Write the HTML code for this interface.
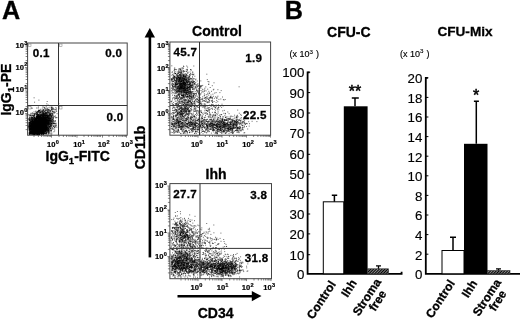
<!DOCTYPE html>
<html><head><meta charset="utf-8"><title>Figure</title>
<style>html,body{margin:0;padding:0;background:#fff}body{width:520px;height:320px;overflow:hidden}svg{display:block;font-family:"Liberation Sans",sans-serif}</style>
</head><body><svg width="520" height="320" viewBox="0 0 520 320" font-family="Liberation Sans, sans-serif" fill="#000"><text x="1.9" y="18.9" font-size="25.2" font-weight="bold" text-anchor="start" stroke="#000" stroke-width="0.3" >A</text>
<text x="284.8" y="18.9" font-size="25.2" font-weight="bold" text-anchor="start" stroke="#000" stroke-width="0.3" >B</text>
<rect x="27.6" y="43" width="99.6" height="92.19999999999999" fill="#fff" stroke="#444" stroke-width="1"/>
<path d="M39.0 131.5h0M40.9 126.9h0M37.3 130.2h0M33.4 132.8h0M36.1 126.7h0M32.8 126.3h0M39.4 128.2h0M47.4 120.9h0M35.9 129.6h0M42.1 130.6h0M41.2 123.1h0M39.7 117.9h0M33.1 127.7h0M38.8 125.5h0M43.4 131.8h0M30.5 126.5h0M36.1 125.8h0M30.9 125.8h0M40.7 129.6h0M40.0 127.6h0M37.8 120.5h0M35.6 127.6h0M38.7 127.7h0M39.7 122.7h0M29.4 129.2h0M36.0 126.0h0M32.8 130.1h0M45.7 126.4h0M33.9 117.4h0M38.8 120.2h0M44.6 114.5h0M35.3 122.4h0M38.3 129.9h0M39.7 128.5h0M39.4 122.3h0M31.3 130.3h0M39.5 121.3h0M47.6 114.6h0M29.3 120.4h0M44.4 119.1h0M35.0 119.0h0M51.6 130.0h0M43.8 133.0h0M31.4 127.4h0M39.5 125.7h0M42.6 121.2h0M37.8 126.4h0M43.3 129.0h0M38.6 126.4h0M43.2 131.1h0M48.1 130.8h0M34.7 129.7h0M40.3 127.8h0M36.1 126.7h0M39.8 128.1h0M31.5 121.5h0M35.4 129.9h0M37.8 127.9h0M44.7 119.0h0M30.7 122.7h0M34.0 122.3h0M43.1 126.6h0M36.1 122.1h0M38.4 116.8h0M46.9 117.6h0M43.3 124.0h0M36.9 128.8h0M36.7 133.8h0M37.4 131.7h0M48.6 130.6h0M36.3 130.7h0M37.1 123.8h0M41.2 132.5h0M38.2 123.3h0M37.8 122.7h0M38.9 131.1h0M36.2 128.4h0M46.3 128.6h0M43.1 130.4h0M38.8 117.6h0M43.2 124.2h0M36.9 119.4h0M45.6 124.8h0M39.0 121.9h0M42.7 133.5h0M30.9 132.0h0M41.2 120.4h0M37.1 127.0h0M33.3 131.4h0M40.0 127.5h0M53.1 109.6h0M33.8 125.7h0M35.1 130.6h0M40.3 127.7h0M42.1 132.5h0M37.9 118.4h0M37.7 129.8h0M43.4 120.7h0M42.3 126.3h0M32.5 130.7h0M38.5 130.6h0M39.2 122.4h0M32.4 129.4h0M40.6 118.3h0M33.6 119.0h0M45.1 127.7h0M40.2 125.4h0M39.6 115.8h0M35.3 122.0h0M38.3 126.5h0M41.3 130.4h0M44.3 123.8h0M43.8 127.1h0M33.7 130.4h0M43.9 123.1h0M46.9 123.1h0M48.1 117.1h0M37.3 123.2h0M38.0 134.0h0M45.9 118.0h0M35.6 129.0h0M38.7 124.0h0M34.0 130.9h0M35.1 129.4h0M46.9 127.4h0M38.0 126.4h0M45.1 131.3h0M39.1 124.4h0M34.6 125.2h0M35.5 122.1h0M39.1 123.0h0M36.6 127.2h0M37.1 120.1h0M30.3 115.6h0M33.9 134.4h0M49.4 117.9h0M34.8 124.1h0M32.4 125.9h0M41.1 119.3h0M47.9 116.6h0M29.8 130.0h0M35.0 132.0h0M43.6 115.2h0M38.9 126.0h0M39.5 118.5h0M34.3 132.5h0M41.9 123.8h0M35.6 127.4h0M38.1 125.9h0M32.0 124.6h0M31.3 119.0h0M47.4 127.1h0M35.8 118.4h0M40.8 118.1h0M38.8 124.3h0M36.2 122.6h0M35.8 128.8h0M43.0 131.2h0M37.1 128.3h0M38.0 127.7h0M39.1 126.2h0M46.4 129.2h0M43.3 113.2h0M41.4 127.7h0M35.4 121.4h0M30.3 121.1h0M45.0 124.3h0M45.1 121.8h0M38.1 130.1h0M42.4 132.0h0M43.9 109.9h0M44.2 124.0h0M36.1 132.5h0M48.5 132.2h0M31.1 129.2h0M44.4 115.4h0M42.1 118.1h0M44.5 128.9h0M50.8 128.4h0M48.4 118.6h0M31.8 126.7h0M44.1 113.5h0M32.6 125.9h0M40.6 122.3h0M39.3 120.9h0M37.5 112.5h0M39.2 132.1h0M33.6 125.5h0M38.0 128.5h0M32.9 129.2h0M38.6 124.0h0M41.6 124.3h0M32.8 114.2h0M34.9 133.3h0M32.7 134.3h0M33.4 124.1h0M40.2 126.3h0M34.1 130.2h0M41.2 131.5h0M41.1 126.1h0M51.8 133.0h0M30.2 127.4h0M44.6 120.6h0M38.4 123.4h0M38.9 110.2h0M29.9 123.9h0M36.1 133.4h0M43.7 126.3h0M38.5 121.2h0M39.5 128.2h0M37.2 114.0h0M46.3 122.1h0M38.9 129.5h0M34.6 122.6h0M35.7 124.5h0M47.4 128.2h0M39.3 116.3h0M31.6 116.1h0M33.1 131.9h0M46.1 124.2h0M40.0 127.1h0M39.3 122.4h0M38.7 124.4h0M39.2 131.2h0M42.5 123.7h0M40.4 115.3h0M42.2 129.0h0M34.7 131.8h0M45.9 125.2h0M38.1 126.9h0M39.0 129.4h0M30.7 117.1h0M49.8 119.1h0M48.2 119.0h0M36.1 126.9h0M43.9 126.8h0M41.4 120.7h0M40.6 119.0h0M38.6 123.5h0M39.5 127.5h0M32.2 120.4h0M37.3 130.3h0M37.9 130.5h0M46.5 122.0h0M39.0 126.7h0M48.6 124.9h0M35.5 121.2h0M36.5 116.4h0M48.9 121.0h0M45.1 121.4h0M44.8 129.2h0M43.2 109.8h0M39.7 118.8h0M40.4 114.2h0M37.7 123.0h0M39.3 122.8h0M48.5 116.2h0M42.5 130.7h0M38.6 123.7h0M35.3 128.7h0M35.0 114.6h0M49.1 130.4h0M42.2 127.7h0M39.4 129.5h0M32.0 127.2h0M38.6 125.3h0M44.5 129.0h0M36.5 129.7h0M37.6 125.1h0M37.6 126.9h0M39.7 122.8h0M29.0 133.8h0M37.5 132.5h0M33.6 127.9h0M34.1 118.0h0M42.6 123.6h0M48.6 134.0h0M37.0 124.2h0M35.2 117.3h0M39.0 129.6h0M32.7 120.6h0M41.9 130.2h0M51.7 115.8h0M37.4 118.3h0M37.7 125.6h0M32.4 125.2h0M41.0 118.6h0M31.1 126.4h0M32.0 122.1h0M47.1 124.0h0M33.3 127.8h0M45.8 128.8h0M48.6 120.3h0M40.6 117.3h0M42.5 116.8h0M51.3 120.8h0M35.3 132.7h0M30.5 124.8h0M39.3 132.1h0M48.3 116.0h0M45.0 130.7h0M33.1 125.7h0M33.6 132.7h0M35.8 131.1h0M40.8 123.9h0M37.7 128.7h0M40.4 119.0h0M40.9 125.2h0M37.1 133.6h0M40.3 130.2h0M38.5 126.9h0M42.2 118.8h0M50.8 129.2h0M42.7 114.6h0M39.4 121.0h0M41.4 117.8h0M44.4 120.9h0M43.4 121.3h0M38.1 118.2h0M36.7 129.7h0M34.7 131.5h0M43.0 127.2h0M53.2 123.4h0M40.4 122.2h0M34.1 130.0h0M31.6 119.2h0M38.6 126.4h0M39.7 123.1h0M31.7 126.4h0M46.0 132.7h0M45.8 114.6h0M36.0 124.5h0M42.2 126.7h0M38.2 134.2h0M36.6 121.7h0M36.9 130.9h0M30.8 126.9h0M44.0 127.4h0M37.8 125.7h0M40.4 123.7h0M45.3 130.9h0M34.1 120.9h0M40.1 127.2h0M41.5 117.0h0M36.6 122.2h0M45.5 116.0h0M40.3 117.4h0M31.4 124.3h0M33.1 121.9h0M44.1 128.0h0M41.9 130.3h0M47.5 116.5h0M42.8 130.1h0M47.5 110.8h0M36.6 114.8h0M37.1 131.4h0M31.9 132.6h0M55.0 127.4h0M37.9 125.2h0M49.0 115.1h0M34.9 124.3h0M40.0 129.5h0M36.6 122.5h0M45.2 115.5h0M31.1 121.3h0M45.8 129.4h0M41.1 128.4h0M32.4 120.9h0M35.8 120.4h0M36.1 123.6h0M38.7 129.8h0M35.6 119.9h0M33.8 126.8h0M37.1 113.3h0M32.5 120.3h0M30.9 131.4h0M38.7 132.0h0M44.6 117.2h0M29.4 124.4h0M39.0 131.3h0M34.9 125.0h0M32.8 124.7h0M44.4 127.8h0M35.7 128.5h0M48.4 130.3h0M34.1 132.8h0M41.4 121.8h0M37.6 125.9h0M34.2 127.3h0M42.7 116.5h0M38.0 120.4h0M42.8 131.2h0M38.7 116.3h0M38.4 128.2h0M39.3 125.2h0M45.0 127.7h0M33.3 131.0h0M38.8 133.9h0M43.1 123.5h0M32.2 126.8h0M38.6 132.3h0M46.0 118.2h0M29.4 127.1h0M32.1 123.9h0M34.3 127.8h0M31.9 129.8h0M33.9 116.3h0M34.5 134.2h0M42.7 127.8h0M34.2 123.3h0M41.7 124.4h0M32.9 125.0h0M31.4 129.0h0M50.7 113.0h0M40.5 123.4h0M40.0 128.5h0M39.3 134.0h0M51.0 126.1h0M29.2 129.7h0M32.6 123.0h0M30.6 133.2h0M43.7 129.3h0M32.9 115.5h0M30.2 127.8h0M36.8 133.7h0M47.8 115.6h0M45.6 118.7h0M37.2 134.3h0M29.5 134.2h0M32.8 130.6h0M47.7 125.1h0M44.2 119.2h0M36.5 123.8h0M33.5 132.6h0M38.8 124.3h0M38.5 111.3h0M38.4 124.4h0M31.9 130.3h0M38.6 128.9h0M38.8 126.8h0M47.1 118.6h0M50.8 132.0h0M38.1 122.4h0M34.2 132.3h0M38.6 124.6h0M35.2 120.0h0M38.6 110.6h0M32.4 123.0h0M42.8 127.9h0M38.3 124.3h0M40.6 130.6h0M37.8 126.1h0M34.4 124.9h0M37.5 125.4h0M35.5 126.4h0M40.5 119.1h0M39.0 121.7h0M30.4 133.1h0M39.4 129.8h0M30.5 129.0h0M35.1 123.2h0M37.1 131.3h0M39.6 124.0h0M40.0 124.5h0M38.0 121.4h0M36.3 128.2h0M36.6 122.9h0M32.8 123.3h0M35.5 132.2h0M39.6 133.8h0M31.4 129.1h0M40.5 132.0h0M39.9 131.0h0M38.1 134.3h0M42.5 123.9h0M41.9 125.2h0M40.8 117.1h0M41.4 125.8h0M34.9 131.7h0M37.4 123.3h0M43.0 132.3h0M41.7 133.7h0M40.3 123.4h0M46.4 127.1h0M45.4 118.3h0M29.2 128.5h0M44.9 122.2h0M38.1 127.5h0M41.4 132.5h0M29.6 134.3h0M35.0 131.4h0M47.0 119.0h0M36.7 126.2h0M40.7 131.5h0M50.0 120.5h0M38.3 125.2h0M37.5 123.3h0M34.6 132.6h0M41.7 125.5h0M41.5 124.3h0M39.7 129.0h0M45.3 129.8h0M34.1 132.8h0M38.6 124.7h0M43.6 127.8h0M42.7 130.7h0M45.7 129.2h0M37.1 121.5h0M41.3 120.9h0M32.7 127.0h0M42.7 131.2h0M38.7 130.5h0M40.9 125.1h0M35.2 123.8h0M33.6 130.1h0M36.9 129.3h0M44.7 111.9h0M41.4 128.1h0M35.2 125.3h0M38.9 125.8h0M43.8 131.6h0M38.2 125.1h0M42.4 131.0h0M43.3 127.9h0M49.7 123.8h0M46.2 126.1h0M41.0 127.5h0M40.9 123.8h0M44.0 122.1h0M35.6 127.7h0M38.7 120.6h0M44.7 116.8h0M51.3 130.8h0M38.0 125.3h0M38.7 126.4h0M40.3 125.3h0M47.5 124.0h0M38.8 126.7h0M48.3 124.0h0M32.9 123.3h0M37.8 132.7h0M37.8 122.5h0M44.0 131.5h0M45.6 112.3h0M29.5 122.8h0M41.1 124.9h0M34.9 123.6h0M29.4 131.9h0M45.5 117.9h0M42.1 126.0h0M42.1 111.6h0M36.0 124.6h0M45.5 120.4h0M37.5 130.4h0M45.9 129.8h0M33.3 122.9h0M40.3 122.4h0M34.6 114.9h0M43.3 110.2h0M33.2 127.8h0M39.5 122.3h0M36.8 122.5h0M44.8 117.8h0M36.2 126.8h0M53.1 120.8h0M51.6 107.7h0M39.4 131.7h0M40.4 123.7h0M48.7 122.0h0M32.8 126.8h0M39.7 133.6h0M41.8 125.6h0M33.8 123.4h0M29.9 125.6h0M43.2 132.9h0M34.2 134.0h0M38.1 127.2h0M40.3 129.9h0M42.9 128.8h0M36.9 125.4h0M42.1 131.1h0M33.4 126.8h0M36.7 131.1h0M32.5 122.5h0M46.1 124.9h0M38.8 129.2h0M34.3 123.0h0M36.8 124.6h0M37.6 123.6h0M43.4 129.7h0M28.9 125.1h0M32.5 131.3h0M55.0 123.8h0M45.0 114.5h0M38.3 127.5h0M43.5 131.7h0M52.0 120.7h0M37.5 134.0h0M36.7 131.2h0M46.6 126.8h0M42.1 123.9h0M43.2 122.0h0M35.8 125.9h0M51.1 123.1h0M49.8 126.5h0M42.6 128.1h0M43.3 123.3h0M43.0 127.7h0M37.8 116.7h0M41.7 120.9h0M43.3 120.2h0M36.8 126.0h0M41.3 124.2h0M34.3 122.6h0M36.9 131.5h0M35.2 129.5h0M36.8 116.9h0M46.7 117.1h0M46.0 121.5h0M51.5 120.2h0M39.1 127.1h0M33.4 128.0h0M35.8 129.0h0M39.5 131.7h0M41.2 119.8h0M40.9 130.4h0M38.3 132.9h0M37.0 121.8h0M38.5 131.9h0M35.6 130.3h0M35.1 124.4h0M38.8 130.2h0M50.6 121.5h0M51.5 123.9h0M47.3 129.7h0M43.4 132.3h0M34.7 131.6h0M48.1 131.4h0M38.6 119.0h0M37.2 124.1h0M39.6 120.5h0M36.3 128.1h0M32.2 132.9h0M36.6 120.8h0M53.4 120.3h0M38.6 133.2h0M37.5 123.8h0M42.4 125.0h0M43.5 127.1h0M32.0 117.4h0M37.7 131.9h0M44.8 127.0h0M40.7 129.7h0M39.8 120.2h0M48.8 118.7h0M34.7 124.2h0M39.5 128.0h0M35.7 128.1h0M48.4 124.5h0M35.7 123.1h0M43.2 121.2h0M47.8 121.9h0M37.2 123.8h0M34.8 126.2h0M42.4 126.1h0M33.2 123.0h0M36.7 124.8h0M34.9 125.1h0M41.3 124.6h0M41.0 123.1h0M49.0 114.9h0M29.3 114.9h0M34.2 124.0h0M33.2 132.0h0M31.3 120.2h0M41.7 129.6h0M43.4 126.6h0M38.3 119.9h0M41.2 129.1h0M39.7 127.0h0M43.0 126.7h0M46.8 127.1h0M41.7 134.3h0M41.5 129.8h0M41.6 118.3h0M29.8 131.2h0M38.0 130.0h0M37.4 118.0h0M30.4 129.7h0M49.3 125.7h0M39.7 120.8h0M31.4 129.5h0M37.2 125.1h0M38.4 127.3h0M34.5 114.7h0M35.0 120.9h0M42.5 111.8h0M34.4 122.0h0M38.8 121.4h0M45.2 128.1h0M55.2 115.8h0M32.7 130.4h0M36.1 121.5h0M43.9 128.5h0M35.9 121.2h0M38.8 130.9h0M32.8 122.5h0M33.0 132.1h0M36.0 131.8h0M29.9 122.3h0M36.4 120.1h0M39.9 116.8h0M37.8 122.4h0M36.1 118.4h0M44.0 125.6h0M42.5 128.9h0M38.5 118.5h0M33.4 124.8h0M43.0 125.4h0M35.4 126.3h0M31.6 124.5h0M33.9 133.3h0M48.1 129.0h0M40.4 130.4h0M46.3 123.0h0M35.2 125.2h0M38.0 126.1h0M54.7 129.1h0M43.8 120.0h0M35.8 130.1h0M38.5 127.0h0M41.1 121.5h0M46.6 122.7h0M35.9 117.6h0M37.2 114.6h0M47.3 131.7h0M41.0 127.8h0M44.1 131.2h0M44.5 131.2h0M52.2 128.2h0M43.9 119.3h0M40.6 128.7h0M40.0 122.9h0M50.3 115.6h0M33.2 121.2h0M38.3 129.5h0M41.9 132.3h0M43.7 116.4h0M37.2 124.7h0M39.8 123.4h0M38.2 126.3h0M38.9 124.2h0M44.5 117.8h0M32.9 130.6h0M37.5 114.0h0M43.2 126.1h0M40.2 128.1h0M32.3 133.5h0M46.1 127.4h0M53.6 126.5h0M51.7 123.4h0M37.6 121.7h0M43.7 123.6h0M39.8 125.8h0M39.6 134.2h0M48.8 133.7h0M30.7 131.8h0M45.6 119.7h0M38.7 122.0h0M47.9 122.5h0M34.8 129.9h0M40.7 125.6h0M43.6 120.2h0M39.2 132.0h0M42.1 127.4h0M35.7 127.2h0M43.4 124.1h0M39.4 134.2h0M45.5 124.8h0M36.1 133.0h0M34.5 127.1h0M37.8 121.7h0M46.5 122.5h0M30.3 123.5h0M46.5 127.4h0M35.0 127.9h0M32.1 132.3h0M46.9 129.2h0M38.4 107.0h0M30.8 131.0h0M36.7 115.9h0M44.9 125.7h0M46.5 118.6h0M36.3 128.0h0M41.6 134.3h0M43.5 114.3h0M34.9 129.0h0M41.2 125.3h0M38.8 114.6h0M35.6 131.6h0M35.9 127.7h0M39.4 123.2h0M39.2 121.9h0M36.3 124.9h0M46.0 113.0h0M40.3 120.2h0M44.6 122.4h0M46.6 121.7h0M42.7 124.8h0M53.3 115.4h0M33.8 131.5h0M44.1 121.9h0M37.0 118.6h0M50.7 117.7h0M49.7 120.7h0M32.9 131.5h0M43.2 123.1h0M44.0 125.1h0M43.6 126.4h0M41.9 121.7h0M43.1 128.1h0M38.5 131.2h0M45.5 118.5h0M43.0 126.3h0M32.5 125.6h0M45.0 128.2h0M37.6 133.4h0M41.4 124.6h0M33.3 129.5h0M29.1 122.7h0M38.8 127.9h0M42.1 131.1h0M45.4 125.4h0M38.1 130.9h0M45.6 125.5h0M39.1 131.2h0M42.6 124.0h0M45.7 125.6h0M36.8 126.8h0M37.5 124.4h0M38.0 126.7h0M39.5 119.2h0M33.3 133.0h0M41.9 133.6h0M33.8 122.1h0M41.5 121.2h0M36.3 127.0h0M51.7 134.1h0M41.3 119.0h0M50.2 128.3h0M45.0 126.4h0M34.8 126.9h0M36.6 121.7h0M41.7 128.3h0M39.4 123.5h0M39.3 133.0h0M37.6 123.8h0M41.3 118.3h0M34.4 120.9h0M34.5 128.5h0M37.6 125.6h0M40.7 115.6h0M30.0 125.9h0M32.3 121.0h0M49.0 131.6h0M32.3 118.4h0M43.1 116.7h0M30.4 131.6h0M40.9 118.4h0M37.0 125.5h0M38.6 123.8h0M42.6 128.9h0M50.1 107.1h0M40.2 112.2h0M39.8 118.5h0M42.7 124.4h0M37.4 116.2h0M44.2 128.0h0M38.7 131.0h0M50.0 121.5h0M37.1 129.8h0M44.6 132.4h0M36.8 128.2h0M34.0 131.4h0M37.3 126.7h0M30.3 126.8h0M39.7 120.5h0M54.4 123.3h0M46.2 122.3h0M32.0 127.2h0M33.5 134.1h0M36.5 130.4h0M45.3 130.0h0M33.8 118.2h0M34.7 131.4h0M44.6 121.0h0M44.4 119.7h0M36.6 121.9h0M34.6 123.4h0M43.7 125.1h0M35.0 124.9h0M50.8 113.6h0M46.4 112.7h0M31.7 127.2h0M44.5 124.8h0M46.3 125.0h0M34.3 132.7h0M38.3 124.6h0M28.9 126.2h0M48.3 112.5h0M32.0 134.1h0M37.3 125.4h0M37.6 134.4h0M40.0 126.4h0M37.7 129.0h0M46.2 117.6h0M39.0 116.8h0M34.5 117.0h0M39.8 127.9h0M40.4 131.5h0M35.0 127.4h0M44.0 123.4h0M41.2 118.8h0M34.7 134.1h0M51.9 124.9h0M53.5 118.2h0M29.8 133.7h0M40.9 129.4h0M54.8 109.8h0M43.9 129.6h0M40.4 126.9h0M37.7 124.4h0M35.6 124.9h0M36.5 120.1h0M36.2 123.3h0M38.7 119.0h0M33.4 123.7h0M37.9 115.5h0M41.3 132.5h0M42.2 128.4h0M41.2 127.2h0M39.4 123.8h0M38.2 124.2h0M37.1 131.0h0M43.8 120.5h0M47.4 120.7h0M39.2 120.9h0M35.9 126.6h0M34.7 131.3h0M40.0 123.6h0M34.5 113.8h0M46.2 127.7h0M34.1 119.6h0M34.4 118.2h0M38.7 128.5h0M45.7 127.1h0M43.1 125.9h0M30.6 121.5h0M34.2 133.6h0M50.2 113.8h0M41.0 122.9h0M39.0 121.5h0M45.7 122.0h0M54.5 127.0h0M47.2 119.9h0M39.9 129.8h0M41.2 130.2h0M42.9 114.5h0M35.1 120.4h0M32.3 126.2h0M39.3 122.7h0M33.0 130.3h0M38.6 114.5h0M39.6 130.8h0M53.7 126.6h0M33.6 127.1h0M38.2 118.0h0M38.0 126.9h0M41.8 122.3h0M45.6 128.0h0M35.9 126.9h0M33.8 132.7h0M42.4 110.9h0M39.3 120.0h0M32.6 131.6h0M36.7 117.7h0M39.2 131.1h0M42.2 117.8h0M35.3 128.3h0M37.4 121.2h0M31.7 129.9h0M49.2 122.6h0M40.4 126.1h0M36.6 121.1h0M33.9 133.9h0M38.6 131.8h0M39.0 134.2h0M38.1 133.5h0M35.5 127.6h0M40.4 127.6h0M43.0 106.3h0M44.6 121.1h0M44.8 113.4h0M46.4 120.8h0M46.2 126.1h0M47.8 127.4h0M37.9 115.7h0M44.2 125.1h0M40.3 117.8h0M35.7 127.3h0M33.4 131.7h0M38.9 110.1h0M44.6 123.9h0M45.2 127.0h0M38.5 124.7h0M37.8 126.5h0M41.5 124.4h0M37.4 120.9h0M42.8 126.8h0M50.0 121.0h0M38.8 124.6h0M29.6 128.9h0M33.6 133.1h0M29.8 130.9h0M31.5 121.3h0M47.2 123.1h0M40.4 129.0h0M29.4 126.6h0M43.1 132.4h0M46.9 128.9h0M36.7 121.0h0M34.7 129.9h0M43.0 124.9h0M46.4 129.8h0M46.6 119.9h0M46.5 115.0h0M47.6 127.3h0M43.2 126.7h0M29.4 132.8h0M38.2 126.6h0M41.0 127.9h0M36.6 124.0h0M44.7 127.7h0M36.7 132.5h0M33.2 128.0h0M48.1 128.8h0M43.2 114.0h0M40.4 121.1h0M44.8 133.8h0M41.1 127.4h0M34.7 119.9h0M36.1 129.7h0M32.8 133.3h0M40.3 116.8h0M46.5 127.7h0M35.9 130.5h0M31.9 131.5h0M51.8 115.4h0M36.2 130.8h0M31.2 119.5h0M41.7 126.5h0M34.6 120.6h0M44.0 133.4h0M33.2 124.2h0M43.9 118.7h0M35.0 129.7h0M41.1 133.3h0M38.4 112.4h0M56.8 127.2h0M34.5 127.5h0M47.7 123.7h0M38.7 119.8h0M38.2 128.8h0M43.5 118.1h0M44.6 118.6h0M47.0 121.2h0M41.1 118.1h0M35.6 119.2h0M42.2 120.7h0M42.7 123.4h0M47.8 123.8h0M41.6 130.7h0M45.7 129.6h0M48.6 121.6h0M40.0 123.8h0M29.6 129.7h0M31.6 134.0h0M29.9 133.7h0M49.0 120.1h0M33.7 115.2h0M42.7 131.3h0M49.8 124.8h0M45.3 126.7h0M38.4 123.4h0M37.7 120.6h0M39.5 124.2h0M40.1 124.8h0M35.7 123.6h0M38.8 117.4h0M49.1 121.3h0M40.6 122.9h0M33.3 128.4h0M40.2 113.1h0M44.3 123.5h0M38.6 125.8h0M43.9 117.3h0M29.0 118.8h0M46.0 126.9h0M35.2 122.6h0M42.9 128.3h0M40.1 123.5h0M34.2 125.9h0M40.4 116.6h0M48.8 122.9h0M40.8 123.9h0M40.6 130.1h0M30.1 126.5h0M48.0 121.2h0M50.4 128.3h0M39.2 133.8h0M37.6 131.7h0M44.6 127.6h0M56.0 126.0h0M43.5 130.6h0M47.0 126.5h0M42.4 125.8h0M32.8 129.3h0M31.2 129.0h0M37.7 125.4h0M40.8 123.7h0M44.6 124.5h0M41.6 127.2h0M41.4 118.6h0M34.2 115.5h0M30.9 130.9h0M39.4 116.3h0M34.5 129.5h0M30.8 130.0h0M30.5 125.7h0M40.1 121.2h0M41.6 125.9h0M51.6 109.5h0M29.6 129.9h0M34.7 127.8h0M44.7 128.8h0M37.6 124.8h0M36.9 127.8h0M49.8 118.5h0M36.9 124.2h0M31.7 117.6h0M30.7 129.9h0M40.9 126.9h0M30.4 131.5h0M32.8 122.3h0M42.6 120.5h0M34.9 132.8h0M42.9 125.9h0M42.6 119.3h0M37.0 127.2h0M41.6 126.8h0M35.4 130.5h0M37.2 124.7h0M43.7 127.9h0M49.0 120.8h0M55.5 117.1h0M31.9 119.4h0M45.0 120.4h0M46.8 120.9h0M45.2 124.6h0M39.9 133.7h0M31.7 118.2h0M42.9 126.1h0M34.5 114.0h0M56.8 117.7h0M43.5 110.9h0M50.5 111.2h0M33.3 129.3h0M48.2 124.1h0M49.0 122.6h0M48.8 118.4h0M31.4 127.9h0M37.9 121.4h0M39.6 124.0h0M38.0 127.8h0M38.3 130.8h0M51.2 124.2h0M47.2 117.5h0M38.7 132.7h0M46.6 125.1h0M34.1 121.7h0M36.9 122.4h0M44.7 130.7h0M31.2 126.6h0M37.2 127.3h0M30.7 133.2h0M39.7 127.1h0M49.3 113.7h0M34.3 132.0h0M40.4 132.0h0M33.3 133.7h0M31.2 131.2h0M48.2 128.5h0M53.9 131.8h0M42.0 123.7h0M36.9 132.1h0M40.8 131.3h0M40.8 120.4h0M42.8 132.5h0M35.3 129.7h0M36.5 129.9h0M30.0 132.8h0M38.1 122.4h0M33.0 131.5h0M39.6 130.9h0M41.9 121.0h0M30.1 126.6h0M33.9 125.7h0M33.1 124.5h0M43.7 127.2h0M49.8 129.5h0M48.2 130.0h0M48.4 131.9h0M34.9 125.4h0M55.7 123.3h0M48.9 122.6h0M32.5 125.7h0M40.1 123.0h0M37.6 125.2h0M39.6 118.5h0M29.7 132.7h0M34.7 127.7h0M41.9 126.2h0M40.4 128.2h0M46.6 128.7h0M39.5 122.6h0M53.8 121.2h0M34.5 117.8h0M40.6 112.0h0M47.4 112.4h0M33.1 131.3h0M38.6 123.7h0M35.8 133.5h0M43.7 128.9h0M43.1 120.6h0M35.4 130.9h0M33.3 125.5h0M40.8 117.8h0M38.4 118.7h0M55.7 117.9h0M44.3 124.7h0M38.8 122.4h0M37.9 127.8h0M33.6 126.7h0M33.3 125.8h0M32.7 120.9h0M36.5 118.5h0M36.3 122.7h0M43.7 126.9h0M37.8 133.6h0M49.4 126.4h0M42.2 125.0h0M50.3 114.7h0M44.0 125.0h0M48.4 110.2h0M37.4 125.2h0M56.0 123.3h0M46.4 121.9h0M49.7 114.6h0M41.7 122.8h0M43.8 122.6h0M47.1 131.7h0M41.6 121.1h0M33.4 126.1h0M34.6 127.1h0M35.0 125.7h0M38.1 119.1h0M39.9 126.9h0M41.9 128.0h0M29.9 132.0h0M51.8 115.0h0M46.5 123.6h0M43.7 114.2h0M36.7 133.1h0M38.4 120.4h0M42.5 123.8h0M41.7 123.0h0M43.8 118.5h0M45.4 126.3h0M41.4 127.6h0M47.9 123.3h0M31.4 132.6h0M40.1 126.5h0M48.5 131.2h0M37.7 130.3h0M36.3 129.5h0M39.7 124.9h0M36.1 129.4h0M49.0 130.9h0M33.1 115.5h0M44.7 124.1h0M30.9 126.6h0M43.3 123.4h0M38.3 114.5h0M39.0 121.4h0M32.1 127.4h0M36.1 124.4h0M49.0 113.1h0M31.8 126.2h0M32.1 117.3h0M48.3 117.8h0M39.8 124.5h0M49.0 123.5h0M41.1 126.4h0M33.3 127.6h0M47.0 126.9h0M45.1 117.1h0M39.0 122.9h0M39.3 122.5h0M38.3 125.8h0M35.3 124.1h0M51.5 117.4h0M31.7 129.3h0M35.9 125.6h0M43.7 123.6h0M43.2 124.0h0M34.7 131.1h0M39.2 133.7h0M30.6 131.4h0M44.2 131.8h0M41.4 126.1h0M46.9 113.4h0M43.2 129.1h0M39.1 122.9h0M52.8 111.1h0M43.3 121.5h0M36.7 134.1h0M43.7 132.8h0M41.6 130.4h0M33.5 121.9h0M37.9 119.7h0M37.9 118.0h0M36.2 130.4h0M36.7 128.0h0M38.7 126.4h0M39.7 127.6h0M31.6 117.2h0M43.1 131.7h0M37.6 124.7h0M47.5 124.0h0M34.5 130.0h0M46.0 127.3h0M36.5 127.8h0M37.1 124.2h0M40.4 116.8h0M45.8 120.9h0M33.6 126.9h0M32.5 129.3h0M32.0 133.7h0M33.5 131.3h0M33.6 130.2h0M40.9 130.3h0M33.3 129.8h0M39.8 126.3h0M41.6 128.9h0M34.3 117.4h0M49.6 115.4h0M41.1 131.4h0M34.9 128.2h0M38.6 133.9h0M33.1 128.9h0M40.7 120.3h0M44.6 131.8h0M33.7 129.6h0M37.7 128.0h0M46.2 125.1h0M35.8 134.1h0M40.2 131.6h0M32.4 130.3h0M33.7 118.7h0M35.7 125.3h0M52.7 123.2h0M35.7 130.3h0M35.5 127.4h0M43.1 124.8h0M40.2 126.3h0M52.0 123.8h0M40.3 117.0h0M48.1 130.0h0M40.7 129.0h0M42.8 123.9h0M29.9 122.5h0M38.2 128.4h0M37.5 123.3h0M44.5 127.7h0M36.6 117.6h0M36.2 113.7h0M37.4 124.6h0M37.6 123.0h0M41.6 124.3h0M31.0 125.9h0M33.1 130.8h0M40.8 124.9h0M39.9 122.8h0M36.6 124.7h0M35.4 132.0h0M38.6 132.7h0M46.4 128.9h0M32.3 108.2h0M48.6 117.5h0M44.3 123.2h0M36.1 129.1h0M43.9 115.1h0M30.9 125.5h0M36.4 128.7h0M36.9 125.3h0M35.8 123.1h0M39.6 129.9h0M42.1 117.0h0M30.1 125.7h0M34.8 127.5h0M36.4 120.9h0M30.4 122.7h0M38.9 132.5h0M42.7 119.8h0M42.6 126.6h0M34.0 127.3h0M33.2 121.2h0M41.8 126.7h0M46.8 115.1h0M35.9 131.4h0M34.1 128.5h0M41.1 125.5h0M45.5 122.4h0M41.2 124.2h0M45.6 131.4h0M39.8 130.4h0M46.7 118.2h0M46.8 134.3h0M38.4 119.0h0M48.1 128.3h0M40.0 127.8h0M39.5 134.3h0M33.2 131.0h0M37.2 134.2h0M43.9 125.2h0M43.1 127.8h0M40.7 122.0h0M38.3 130.1h0M43.1 126.8h0M34.2 124.9h0M39.6 129.6h0M43.2 117.0h0M34.8 132.8h0M44.5 115.4h0M43.4 123.9h0M37.5 129.0h0M44.1 125.8h0M33.2 131.4h0M35.1 126.4h0M53.1 120.2h0M33.8 127.8h0M46.5 126.9h0M49.9 122.3h0M34.6 117.8h0M46.4 129.9h0M46.0 122.2h0M44.2 130.4h0M46.3 132.8h0M33.5 129.3h0M37.9 134.0h0M30.3 131.7h0M30.1 118.9h0M45.2 122.1h0M34.8 125.7h0M53.4 125.8h0M39.5 121.4h0M35.0 125.5h0M44.0 119.3h0M50.3 123.2h0M42.1 126.5h0M41.3 131.3h0M47.7 125.3h0M35.9 129.5h0M34.1 129.2h0M45.4 125.7h0M32.1 113.5h0M36.6 126.6h0M34.2 130.5h0M40.9 133.5h0M39.7 119.9h0M46.2 126.9h0M43.5 131.0h0M29.1 127.3h0M41.6 114.2h0M44.7 122.9h0M41.9 118.5h0M45.5 129.0h0M35.5 122.7h0M44.9 126.0h0M32.3 124.0h0M45.5 118.1h0M34.4 130.9h0M30.2 128.4h0M31.7 123.3h0M36.7 129.6h0M43.7 133.3h0M32.3 117.3h0M43.3 116.6h0M38.5 121.0h0M50.6 120.6h0M33.6 127.6h0M40.6 130.9h0M40.3 127.3h0M47.9 125.6h0M36.1 125.9h0M45.4 132.1h0M34.3 123.6h0M34.2 126.4h0M36.7 122.7h0M50.9 127.3h0M41.0 129.2h0M39.7 114.3h0M53.1 123.9h0M41.3 117.8h0M33.9 123.4h0M43.6 130.5h0M31.6 123.9h0M46.1 127.0h0M46.6 122.2h0M35.0 127.6h0M40.1 119.2h0M39.1 120.0h0M32.8 123.2h0M42.6 126.6h0M36.3 133.9h0M36.5 128.8h0M37.3 128.3h0M40.9 128.4h0M31.3 128.5h0M42.7 127.6h0M37.9 132.2h0M34.9 133.1h0M30.4 126.2h0M31.5 118.1h0M41.3 121.1h0M32.9 130.6h0M39.4 111.1h0M45.7 121.8h0M45.5 127.7h0M48.8 120.3h0M37.1 120.4h0M45.4 133.6h0M41.0 124.6h0M46.1 133.0h0M46.5 117.4h0M43.5 119.6h0M42.2 124.2h0M41.5 119.2h0M40.5 126.9h0M40.4 118.1h0M45.2 124.9h0M49.9 124.8h0M38.3 125.4h0M38.4 121.4h0M37.4 133.4h0M51.8 120.9h0M37.1 128.8h0M31.0 129.6h0M34.5 129.0h0M37.0 127.1h0M52.6 117.6h0M40.3 122.8h0M44.9 127.7h0M32.7 128.1h0M41.2 118.8h0M43.2 121.0h0M50.4 118.9h0M34.6 127.8h0M42.8 126.7h0M40.9 126.8h0M32.6 124.7h0M38.9 126.9h0M37.3 118.7h0M42.8 125.2h0M42.4 115.3h0M36.2 121.7h0M30.6 121.8h0M48.3 127.8h0M40.7 118.6h0M45.4 126.4h0M47.9 120.8h0M35.7 120.0h0M44.1 115.2h0M37.5 130.1h0M38.6 129.2h0M38.5 131.7h0M46.0 126.2h0M39.8 128.2h0M38.0 126.2h0M37.3 127.9h0M41.2 123.8h0M33.4 122.8h0M38.7 115.0h0M35.4 129.3h0M38.3 129.6h0M35.2 128.8h0M51.6 116.6h0M47.4 122.8h0M41.8 122.8h0M38.7 119.9h0M52.8 121.9h0M41.0 123.4h0M38.5 123.3h0M40.9 130.2h0M40.9 119.3h0M47.9 126.5h0M38.9 122.7h0M52.2 125.1h0M33.4 128.7h0M43.4 126.7h0M32.7 122.3h0M50.4 118.0h0M36.9 121.8h0M38.6 127.7h0M44.8 129.4h0M46.9 130.8h0M32.0 125.5h0M36.8 127.7h0M30.2 119.1h0M39.9 112.3h0M38.4 121.2h0M36.8 123.0h0M34.7 118.0h0M36.6 116.0h0M34.3 131.3h0M42.3 120.3h0M48.6 112.9h0M38.3 127.7h0M36.4 125.2h0M42.1 129.7h0M33.0 123.5h0M32.5 118.8h0M43.4 116.8h0M39.6 125.3h0M38.0 121.9h0M37.4 116.8h0M29.2 124.8h0M42.8 126.7h0M40.8 129.3h0M38.0 132.9h0M45.2 126.5h0M32.1 125.5h0M34.1 129.0h0M48.7 128.6h0M47.9 121.5h0M34.3 125.9h0M31.6 125.7h0M35.0 123.5h0M35.9 120.2h0M29.0 125.9h0M39.2 116.5h0M30.9 131.2h0M31.4 118.7h0M38.5 133.3h0M43.0 123.7h0M44.1 120.9h0M39.3 127.3h0M33.8 131.4h0M50.0 118.2h0M43.1 131.6h0M32.0 123.4h0M39.0 126.9h0M43.5 113.9h0M42.0 121.1h0M50.5 125.7h0M47.6 120.7h0M35.6 124.5h0M38.4 131.3h0M30.9 128.3h0M40.6 133.5h0M40.0 110.7h0M56.0 124.4h0M39.6 129.2h0M34.8 119.4h0M39.7 131.5h0M31.1 122.0h0M33.5 123.9h0M36.7 130.7h0M41.2 123.4h0M38.0 129.5h0M33.4 122.5h0M44.0 126.5h0M35.6 134.0h0M35.9 129.2h0M30.3 115.1h0M34.0 131.8h0M43.1 125.2h0M28.8 123.7h0M43.5 113.8h0M40.5 121.7h0M47.3 123.3h0M45.9 115.6h0M40.5 126.3h0M32.4 131.6h0M45.2 130.9h0M49.8 117.1h0M40.9 128.7h0M46.9 128.3h0M35.2 125.7h0M37.8 120.7h0M39.0 120.2h0M41.7 130.0h0M29.4 134.2h0M44.9 119.1h0M47.3 115.1h0M30.5 119.1h0M41.2 126.5h0M34.9 122.4h0M44.1 125.3h0M40.0 124.7h0M39.9 124.7h0M34.3 134.1h0M39.6 132.5h0M32.4 124.9h0M34.2 122.2h0M35.5 125.0h0M36.2 126.9h0M49.5 121.0h0M44.4 123.6h0M44.1 120.8h0M42.3 129.8h0M42.1 133.1h0M48.2 120.9h0M38.9 117.5h0M50.7 122.8h0M33.0 118.7h0M37.4 122.6h0M42.3 127.5h0M48.1 116.6h0M34.8 132.3h0M39.0 112.1h0M36.7 122.5h0M31.5 133.2h0M39.4 117.4h0M39.7 131.3h0M39.1 125.8h0M34.9 123.7h0M32.6 130.7h0M30.3 125.3h0M50.8 110.4h0M30.5 133.9h0M48.8 119.0h0M42.8 118.7h0M36.7 118.5h0M31.7 130.0h0M45.6 119.0h0M49.9 126.6h0M33.1 126.3h0M37.1 133.5h0M45.6 121.6h0M41.1 121.4h0M51.6 109.8h0M35.4 120.4h0M42.4 129.6h0M52.2 114.2h0M34.4 121.1h0M38.2 129.4h0M38.1 122.2h0M51.1 122.9h0M36.9 116.8h0M38.9 124.3h0M42.7 130.6h0M49.0 133.2h0M38.6 125.2h0M45.5 122.5h0M42.3 128.0h0M37.1 133.7h0M39.5 129.1h0M39.2 121.4h0M33.2 130.2h0M46.6 129.8h0M30.3 124.4h0M46.4 115.5h0M45.0 127.5h0M38.4 128.6h0M34.2 133.7h0M37.6 127.2h0M42.0 121.2h0M43.7 122.0h0M40.8 119.2h0M45.3 118.3h0M35.5 123.8h0M40.5 122.7h0M43.8 117.0h0M40.0 125.6h0M36.4 123.3h0M46.3 133.2h0M43.4 126.5h0M39.3 131.2h0M29.8 129.5h0M45.7 121.1h0M54.7 130.9h0M35.7 131.7h0M37.4 133.9h0M41.2 130.4h0M43.1 125.7h0M47.1 116.9h0M32.8 132.6h0M48.9 123.5h0M33.1 132.3h0M40.7 125.6h0M46.3 119.6h0M43.5 118.5h0M33.1 132.5h0M36.1 125.3h0M38.7 129.2h0M46.2 132.6h0M30.9 123.6h0M41.9 123.2h0M42.8 118.0h0M42.5 132.5h0M41.9 126.9h0M48.6 120.3h0M42.1 114.9h0M44.4 123.4h0M42.6 131.4h0M50.3 120.8h0M47.1 127.7h0M37.4 119.0h0M37.2 127.1h0M32.9 131.9h0M36.6 121.8h0M34.7 129.2h0M42.1 124.7h0M29.7 127.7h0M48.0 124.7h0M40.7 127.1h0M37.4 121.0h0M34.5 123.5h0M34.0 130.6h0M39.0 121.0h0M37.9 133.5h0M30.1 133.8h0M37.3 126.6h0M33.4 131.1h0M40.0 131.1h0M50.7 133.8h0M42.9 118.4h0M37.0 130.7h0M30.1 127.8h0M43.6 130.0h0M34.2 121.5h0M39.4 124.4h0M35.1 128.9h0M39.6 117.3h0M47.8 128.9h0M34.7 127.2h0M36.9 128.0h0M33.9 130.0h0M32.5 128.6h0M31.9 126.3h0M30.1 126.0h0M42.0 122.1h0M55.2 112.6h0M45.0 126.1h0M40.6 128.7h0M32.1 129.5h0M37.3 126.0h0M37.5 121.9h0M34.6 122.8h0M51.2 125.2h0M41.1 120.9h0M35.3 124.4h0M39.9 119.7h0M44.5 133.2h0M40.0 118.3h0M41.6 130.3h0M43.4 133.9h0M48.3 127.9h0M53.4 108.6h0M45.2 122.0h0M45.4 114.0h0M30.1 130.2h0M38.3 126.6h0M33.9 123.1h0M35.3 133.4h0M45.1 126.6h0M33.9 124.7h0M38.2 123.4h0M38.0 125.5h0M34.6 123.3h0M34.5 130.4h0M50.9 119.2h0M31.4 133.7h0M32.4 131.2h0M33.9 126.5h0M46.6 112.9h0M52.2 119.0h0M41.1 133.2h0M34.5 126.2h0M36.3 131.1h0M45.7 121.2h0M33.3 116.5h0M48.2 126.1h0M47.9 125.5h0M39.4 122.6h0M43.1 122.8h0M43.7 126.7h0M48.8 119.6h0M32.4 130.6h0M46.4 122.7h0M36.6 112.4h0M34.2 127.0h0M39.6 122.4h0M37.6 121.6h0M32.8 130.8h0M28.9 126.5h0M33.1 131.6h0M48.1 130.3h0M51.4 123.4h0M43.1 115.4h0M46.5 119.5h0M35.7 133.1h0M38.5 124.9h0M40.8 120.8h0M32.2 127.9h0M32.8 131.5h0M39.6 127.8h0M37.0 131.0h0M32.3 123.3h0M41.4 123.9h0M37.3 125.3h0M45.4 124.2h0M39.0 113.3h0M37.1 125.5h0M39.8 117.8h0M43.7 129.9h0M43.1 122.1h0M47.1 129.8h0M36.5 131.0h0M36.4 121.6h0M40.1 122.4h0M36.2 130.2h0M43.9 124.7h0M47.4 115.8h0M45.3 124.2h0M35.4 121.6h0M44.2 123.9h0M34.4 124.5h0M46.1 123.7h0M37.6 132.8h0M33.9 133.8h0M36.6 128.8h0M34.2 127.9h0M40.2 126.8h0M40.1 126.8h0M39.2 129.9h0M35.5 127.5h0M39.6 118.1h0M46.1 125.3h0M40.7 117.1h0M37.9 124.7h0M38.2 108.1h0M35.5 126.1h0M35.3 131.3h0M33.2 130.6h0M46.5 131.8h0M38.9 130.3h0M45.0 125.3h0M37.4 114.6h0M39.5 119.3h0M37.9 127.9h0M41.9 129.7h0M44.2 118.4h0M40.5 122.1h0M34.8 130.7h0M34.1 116.1h0M49.5 111.0h0M37.2 125.5h0M37.2 128.6h0M48.2 120.5h0M45.9 110.0h0M42.4 125.5h0M36.5 118.9h0M53.8 125.8h0M41.5 125.0h0M42.4 127.0h0M37.9 130.8h0M30.1 125.9h0M30.6 134.2h0M41.6 133.4h0M41.5 128.1h0M31.6 124.8h0M36.9 128.8h0M29.8 123.2h0M44.7 124.2h0M46.3 120.8h0M56.8 117.4h0M44.5 125.2h0M35.3 134.2h0M33.5 126.2h0M35.3 118.5h0M37.9 127.4h0M45.1 131.7h0M42.9 130.3h0M42.7 128.2h0M40.3 122.7h0M43.2 119.0h0M48.1 123.0h0M32.3 120.2h0M36.1 119.6h0M49.2 117.5h0M43.7 116.0h0M31.4 131.5h0M40.1 118.8h0M37.5 128.0h0M39.5 119.8h0M37.8 127.1h0M42.3 124.4h0M36.5 124.4h0M44.4 127.9h0M37.2 123.3h0M38.3 132.2h0M36.2 127.8h0M44.1 124.6h0M40.9 112.3h0M36.5 123.0h0M29.6 118.1h0M44.7 122.7h0M32.3 127.1h0M41.6 127.8h0M35.8 124.7h0M33.8 131.0h0M43.7 126.0h0M37.5 128.2h0M41.4 128.8h0M36.3 117.9h0M40.9 120.8h0M34.3 130.0h0M38.8 129.9h0M42.7 119.5h0M39.3 124.3h0M36.1 126.6h0M32.2 127.6h0M40.1 130.4h0M41.2 126.4h0M37.4 128.0h0M34.2 119.1h0M42.4 118.8h0M54.6 123.5h0M37.1 117.1h0M41.1 127.4h0M41.4 121.5h0M39.8 130.2h0M34.5 123.6h0M47.7 118.3h0M37.4 122.7h0M34.1 128.3h0M40.0 112.8h0M35.5 127.4h0M38.7 125.0h0M37.6 124.5h0M43.9 109.4h0M51.4 130.8h0M43.5 118.2h0M40.7 125.5h0M46.5 115.5h0M45.4 117.5h0M49.5 120.0h0M45.8 129.6h0M38.3 131.9h0M40.6 122.1h0M40.1 129.1h0M40.9 123.4h0M40.3 126.7h0M34.1 128.9h0M34.8 123.8h0M39.4 127.6h0M39.0 126.9h0M44.5 121.7h0M39.6 130.9h0M49.5 124.3h0M50.8 130.3h0M31.4 115.1h0M41.8 124.1h0M41.6 117.8h0M44.9 125.3h0M35.3 130.7h0M33.8 120.3h0M34.2 124.9h0M29.9 120.4h0M32.4 127.3h0M42.6 123.3h0M41.4 123.7h0M34.1 123.6h0M35.5 122.4h0M39.2 132.5h0M35.3 131.4h0M44.9 113.7h0M38.6 130.4h0M39.1 130.3h0M39.1 122.4h0M43.5 126.3h0M36.0 128.9h0M46.1 121.0h0M41.9 121.7h0M40.0 121.8h0M39.3 124.5h0M42.3 117.0h0M45.4 124.0h0M45.0 115.1h0M41.4 126.0h0M44.5 124.0h0M39.7 119.6h0M46.9 129.1h0M47.4 115.1h0M39.7 134.0h0M31.6 130.0h0M37.8 126.4h0M33.4 124.3h0M52.2 122.1h0M42.1 134.0h0M29.1 132.8h0M42.4 122.6h0M36.5 122.9h0M51.1 119.9h0M32.4 132.0h0M39.4 119.5h0M36.8 127.0h0M36.4 124.7h0M41.7 127.9h0M49.5 126.4h0M46.4 117.5h0M53.8 123.6h0M41.7 128.7h0M37.8 123.5h0M46.0 121.7h0M42.3 128.1h0M35.3 124.4h0M43.5 118.0h0M35.8 127.3h0M51.8 115.8h0M36.8 133.6h0M35.2 131.9h0M41.1 120.2h0M29.2 129.4h0M30.5 128.7h0M35.9 131.2h0M35.7 131.5h0M39.5 118.0h0M46.1 115.7h0M36.0 133.6h0M42.1 126.0h0M42.8 127.7h0M32.2 130.5h0M33.1 120.6h0M45.7 131.0h0M41.9 120.3h0M39.1 130.8h0M39.7 117.4h0M34.2 130.3h0M43.4 123.2h0M38.2 124.7h0M33.9 128.2h0M44.8 117.9h0M43.5 118.9h0M35.3 131.6h0M46.3 129.2h0M37.1 123.3h0M37.1 117.8h0M36.2 129.4h0M38.0 120.2h0M48.6 119.6h0M48.4 124.8h0M37.4 120.8h0M49.1 133.1h0M38.7 127.2h0M41.4 128.0h0M44.6 118.1h0M40.8 120.1h0M54.2 116.6h0M40.5 127.5h0M31.5 127.0h0M47.2 121.9h0M36.4 129.1h0M37.1 128.3h0M45.3 123.1h0M44.2 118.4h0M44.0 124.6h0M45.2 133.4h0M49.7 119.5h0M38.7 126.7h0M44.9 122.2h0M34.3 130.3h0M36.8 128.6h0M45.7 119.2h0M41.5 124.1h0M41.3 132.4h0M37.8 132.4h0M33.8 133.3h0M41.7 123.4h0M36.5 124.8h0M32.0 121.2h0M50.1 122.4h0M29.5 117.8h0M40.4 123.5h0M42.8 120.7h0M43.0 117.6h0M31.3 132.3h0M37.0 122.4h0M39.9 123.7h0M44.0 123.1h0M34.9 123.0h0M45.3 121.3h0M46.0 125.3h0M41.3 117.5h0M35.2 124.6h0M41.6 123.5h0M39.7 124.2h0M44.3 121.0h0M31.1 129.7h0M38.0 125.8h0M32.0 127.6h0M40.4 123.5h0M41.5 129.0h0M30.1 133.5h0M38.7 122.0h0M41.7 124.5h0M40.8 127.0h0M45.8 124.9h0M31.4 123.4h0M29.5 124.5h0M40.5 129.0h0M41.9 127.3h0M52.4 109.1h0M42.9 125.7h0M44.1 120.7h0M33.7 129.5h0M29.6 120.3h0M55.4 126.3h0M41.1 118.8h0M43.5 117.2h0M42.6 123.2h0M40.8 122.0h0M46.7 116.1h0M32.5 131.2h0M30.2 130.5h0M48.0 133.7h0M48.3 115.6h0M42.2 115.5h0M40.4 123.9h0M40.0 128.3h0M34.7 129.9h0M48.7 130.0h0M43.2 115.8h0M42.2 120.2h0M41.4 124.8h0M45.6 129.4h0M42.2 128.2h0M43.7 122.2h0M31.6 122.3h0M42.2 130.7h0M52.8 127.8h0M38.2 125.5h0M45.0 116.9h0M42.9 121.7h0M28.8 125.3h0M42.2 122.5h0M31.5 123.2h0M33.8 124.6h0M42.5 124.9h0M37.1 124.1h0M44.1 128.8h0M43.9 124.8h0M43.6 134.0h0M33.4 130.0h0M34.9 128.5h0M32.3 128.3h0M35.6 127.8h0M32.1 132.0h0M34.8 122.7h0M37.7 133.8h0M30.4 126.0h0M41.9 115.6h0M39.4 123.5h0M45.5 125.2h0M45.6 129.4h0M36.9 125.9h0M43.2 123.1h0M53.4 117.7h0M46.5 130.5h0M37.6 132.3h0M31.7 120.4h0M41.4 127.3h0M34.1 122.0h0M43.7 113.4h0M39.5 116.5h0M35.9 129.8h0M45.0 122.0h0M32.5 130.1h0M40.8 119.2h0M35.9 125.3h0M33.7 126.3h0M41.9 115.9h0M32.7 118.0h0M51.0 125.3h0M35.3 128.4h0M51.5 116.6h0M32.1 127.9h0M42.8 129.2h0M30.6 123.5h0M40.0 129.8h0M31.0 129.2h0M46.5 133.0h0M34.0 111.9h0M41.4 125.5h0M42.7 113.6h0M49.2 129.6h0M42.5 132.7h0M32.5 128.2h0M30.4 126.2h0M42.4 125.0h0M36.9 129.5h0M31.9 125.6h0M35.7 127.7h0M48.9 128.6h0M36.9 129.0h0M41.9 118.3h0M39.3 122.7h0M35.2 119.4h0M29.2 122.2h0M31.6 132.0h0M36.0 121.1h0M37.6 120.3h0M41.2 123.9h0M42.5 130.2h0M40.4 123.7h0M40.4 123.7h0M32.7 134.0h0M35.7 130.2h0M33.0 134.1h0M34.9 121.4h0M37.3 128.2h0M31.2 124.9h0M38.4 131.6h0M39.7 119.6h0M42.1 118.1h0M37.6 134.0h0M32.6 129.6h0M39.3 120.8h0M50.9 115.7h0M34.7 125.8h0M46.3 123.9h0M47.7 119.2h0M48.4 126.8h0M33.8 119.3h0M51.7 122.3h0M39.7 126.1h0M37.4 115.2h0M37.5 128.7h0M42.8 117.3h0M39.3 110.7h0M37.9 122.9h0M47.1 122.4h0M34.4 133.3h0M32.4 125.4h0M44.0 133.9h0M43.4 133.8h0M45.9 130.9h0M45.8 126.3h0M42.0 121.9h0M50.1 126.8h0M40.4 127.4h0M37.3 125.3h0M29.0 119.7h0M34.5 131.9h0M46.1 126.3h0M36.0 119.2h0M34.4 128.4h0M44.5 129.1h0M45.2 123.7h0M45.2 129.2h0M34.0 132.6h0M38.6 117.3h0M45.5 122.4h0M34.9 130.6h0M34.3 133.5h0M44.2 133.4h0M48.8 111.3h0M31.7 128.2h0M38.1 120.8h0M42.9 122.8h0M38.1 120.1h0M34.6 132.8h0M40.0 117.8h0M38.7 132.2h0M35.0 130.6h0M55.9 107.5h0M44.1 120.5h0M33.7 132.6h0M32.7 119.5h0M36.2 125.7h0M34.4 133.3h0M34.3 129.5h0M44.6 126.3h0M36.3 124.4h0M34.0 127.9h0M30.6 128.1h0M31.6 133.2h0M38.6 125.3h0M37.6 133.2h0M46.1 113.5h0M45.7 123.1h0M40.6 132.8h0M39.0 126.8h0M43.7 121.4h0M47.8 124.0h0M40.3 124.8h0M43.8 126.1h0M36.4 117.0h0M36.7 126.0h0M34.8 126.1h0M45.1 119.5h0M41.2 124.4h0M37.5 117.2h0M42.5 128.0h0M33.8 122.5h0M49.8 115.6h0M40.6 127.5h0M39.1 115.9h0M48.3 124.8h0M45.5 119.9h0M38.4 124.4h0M42.4 126.8h0M32.3 128.7h0M46.7 115.8h0M43.3 116.6h0M33.8 128.5h0M32.8 120.5h0M37.8 121.5h0M40.7 133.9h0M42.9 121.6h0M50.2 118.8h0M41.3 122.1h0M44.6 122.6h0M43.5 117.5h0M40.0 118.3h0M36.1 130.8h0M38.4 116.5h0M38.6 124.1h0M40.2 132.9h0M41.5 125.5h0M35.8 124.3h0M34.3 123.3h0M43.7 119.1h0M35.1 128.3h0M48.8 130.9h0M34.6 124.1h0M43.3 120.3h0M55.4 109.8h0M48.1 121.4h0M48.8 116.2h0M44.8 118.2h0M37.6 128.8h0M41.3 115.2h0M33.3 122.3h0M44.1 120.6h0M31.9 128.9h0M37.3 118.2h0M45.3 131.0h0M32.0 126.5h0M36.7 125.3h0M40.0 123.6h0M30.5 124.6h0M46.3 117.7h0M41.1 132.6h0M29.5 130.4h0M38.7 125.5h0M34.1 133.8h0M34.9 123.0h0M39.5 129.9h0M34.5 127.6h0M45.1 118.7h0M34.6 132.2h0M45.2 114.9h0M38.7 130.2h0M44.4 118.9h0M35.6 129.7h0M31.7 131.9h0M42.6 121.2h0M44.9 124.0h0M52.4 119.6h0M47.1 116.2h0M40.6 118.7h0M37.7 126.7h0M41.4 128.6h0M38.8 115.1h0M48.2 122.7h0M44.9 127.3h0M33.7 128.3h0M34.7 121.2h0M47.6 129.7h0M40.9 117.8h0M37.5 130.5h0M46.5 133.6h0M36.6 114.1h0M37.2 128.1h0M36.1 128.8h0M44.4 119.5h0M31.4 126.4h0M35.4 118.4h0M34.3 128.2h0M43.6 127.8h0M38.6 122.0h0M39.1 120.2h0M38.4 126.1h0M29.7 129.2h0M40.9 124.7h0M41.3 125.6h0M38.9 117.9h0M42.3 128.7h0M42.8 133.5h0M39.9 116.9h0M37.8 122.2h0M45.1 125.8h0M45.9 129.6h0M30.8 132.5h0M45.6 131.7h0M42.2 124.5h0M45.1 126.6h0M41.9 127.5h0M31.2 125.7h0M50.5 126.1h0M40.6 131.4h0M30.1 126.3h0M41.2 131.6h0M36.7 120.1h0M28.9 122.8h0M40.7 129.9h0M38.7 123.2h0M37.4 127.4h0M40.8 115.3h0M42.8 134.2h0M37.1 126.3h0M33.8 130.1h0M31.2 130.3h0M38.2 127.4h0M37.3 117.3h0M29.8 127.2h0M51.7 125.4h0M32.4 125.4h0M40.7 126.0h0M42.8 128.4h0M41.9 115.2h0M31.9 122.6h0M45.3 128.0h0M34.1 126.1h0M31.9 130.3h0M38.3 124.2h0M43.5 125.9h0M42.9 121.2h0M38.9 122.1h0M44.9 123.6h0M39.5 116.8h0M44.6 111.1h0M29.1 128.4h0M43.9 131.3h0M30.2 129.4h0M37.1 127.4h0M38.4 130.2h0M35.9 131.3h0M36.1 119.4h0M47.8 130.5h0M44.6 125.4h0M39.1 126.3h0M43.6 122.3h0M50.5 126.0h0M31.5 128.5h0M39.6 128.3h0M37.8 121.0h0M42.5 119.1h0M40.0 127.6h0M43.2 115.0h0M36.3 121.5h0M39.3 129.7h0M34.8 123.4h0M34.8 121.7h0M38.1 119.3h0M38.1 127.1h0M31.6 126.0h0M48.9 123.7h0M38.1 125.0h0M45.9 121.0h0M34.3 115.3h0M42.2 125.6h0M38.9 125.9h0M40.6 126.3h0M40.1 115.7h0M35.4 134.0h0M39.3 125.6h0M51.8 121.6h0M39.4 128.7h0M41.7 124.6h0M30.4 126.0h0M52.6 114.0h0M36.7 127.4h0M52.1 116.2h0M42.4 127.4h0M39.5 119.1h0M42.0 124.1h0M43.0 123.2h0M46.4 123.3h0M41.7 121.9h0M39.9 120.6h0M40.1 125.2h0M47.5 119.7h0M44.1 125.2h0M32.7 126.2h0M35.0 113.4h0M41.1 124.8h0M36.6 128.5h0M33.0 131.4h0M37.4 129.2h0M41.7 122.2h0M45.3 115.8h0M39.1 130.8h0M52.1 128.2h0M38.5 129.5h0M45.3 126.3h0M42.1 124.7h0M35.9 128.5h0M38.0 128.2h0M40.1 119.8h0M51.1 118.2h0M30.3 132.1h0M51.0 120.1h0M37.4 111.7h0M43.6 125.2h0M36.8 130.9h0M43.3 128.6h0M39.6 121.7h0M31.8 121.3h0M45.0 122.7h0M43.4 124.6h0M42.8 120.0h0M45.4 124.9h0M45.9 127.9h0M38.9 129.6h0M30.4 122.3h0M30.3 115.5h0M47.5 123.3h0M43.5 120.5h0M39.6 128.4h0M39.2 127.6h0M36.9 133.3h0M52.6 121.9h0M40.4 127.1h0M35.2 132.3h0M30.8 128.3h0M34.4 124.4h0M43.5 120.0h0M43.8 124.5h0M37.6 122.6h0M39.3 130.7h0M37.1 124.6h0M47.2 130.7h0M41.3 117.8h0M54.6 127.6h0M34.2 125.1h0M44.6 127.3h0M37.5 126.2h0M30.3 132.8h0M33.0 124.5h0M39.6 127.8h0M41.2 127.6h0M38.4 125.3h0M45.3 126.4h0M45.3 118.1h0M41.0 128.7h0M39.2 118.7h0M37.4 130.3h0M42.5 127.8h0M44.8 128.5h0M39.4 122.6h0M37.0 125.3h0M30.1 129.8h0M32.7 123.5h0M43.8 133.1h0M41.8 122.4h0M49.0 128.9h0M39.4 120.3h0M44.4 126.3h0M47.3 121.3h0M45.3 129.7h0M35.2 125.6h0M37.8 121.3h0M39.8 128.6h0M32.8 120.9h0M42.0 119.5h0M45.5 128.7h0M36.0 115.9h0M51.4 126.8h0M37.2 124.3h0M37.7 121.1h0M37.5 128.1h0M34.5 131.4h0M41.6 121.9h0M39.1 125.1h0M49.5 127.7h0M42.8 129.5h0M42.4 124.8h0M37.6 122.1h0M30.1 123.4h0M38.4 122.8h0M33.6 132.0h0M45.0 127.8h0M38.8 128.1h0M49.5 131.2h0M43.6 123.0h0M44.3 122.3h0M40.5 123.5h0M43.1 112.7h0M44.8 126.2h0M34.5 130.3h0M42.1 125.7h0M38.4 133.4h0M37.4 131.4h0M34.6 122.3h0M29.9 132.1h0M46.5 121.7h0M39.4 126.5h0M40.9 126.9h0M50.6 119.8h0M54.8 125.1h0M45.6 130.4h0M42.9 126.4h0M41.5 114.1h0M42.0 131.9h0M38.9 132.8h0M49.0 122.1h0M42.9 122.3h0M41.2 129.6h0M46.9 119.1h0M44.7 129.3h0M41.9 119.1h0M41.1 120.3h0M50.1 123.0h0M42.2 116.8h0M38.5 126.6h0M33.6 131.3h0M36.9 119.3h0M32.4 134.0h0M39.7 122.9h0M40.6 129.2h0M39.1 123.7h0M43.1 122.0h0M40.1 116.0h0M33.0 124.2h0M47.0 119.4h0M32.2 120.5h0M38.9 131.2h0M45.2 125.8h0M46.4 121.9h0M40.3 128.8h0M31.5 133.5h0M34.9 124.4h0M33.4 126.6h0M37.9 127.8h0M39.7 127.3h0M43.1 124.7h0M38.1 122.7h0M41.9 120.6h0M33.1 130.1h0M35.0 129.7h0M46.3 119.1h0M45.5 128.8h0M36.1 128.4h0M46.6 127.6h0M37.0 134.0h0M48.5 118.2h0M42.0 124.7h0M36.2 123.9h0M44.0 119.8h0M33.1 133.9h0M29.9 118.9h0M40.6 128.5h0M38.7 123.3h0M38.5 133.4h0M36.4 127.8h0M48.1 122.6h0M36.3 128.2h0M34.4 130.2h0M46.9 124.2h0M48.0 122.4h0M41.1 125.0h0M35.2 121.0h0M42.9 125.3h0M39.1 125.8h0M48.8 120.6h0M30.4 133.5h0M43.3 117.6h0M35.0 125.6h0M47.3 118.9h0M38.5 129.8h0M45.5 121.7h0M34.9 128.1h0M30.1 131.5h0M32.0 119.3h0M35.2 130.4h0M32.5 124.1h0M46.6 122.6h0M47.4 123.2h0M40.7 130.7h0M32.5 132.9h0M34.7 128.9h0M48.2 120.8h0M41.0 122.9h0M42.1 129.4h0M34.1 124.6h0M32.0 130.3h0M41.3 127.3h0M39.6 126.5h0M33.9 123.7h0M36.6 112.3h0M48.9 120.2h0M33.2 129.6h0M37.6 114.0h0M34.6 127.9h0M36.3 116.5h0M49.9 124.2h0M38.9 131.2h0M39.3 121.8h0M38.5 130.0h0M37.8 127.0h0M36.9 120.2h0M45.3 128.4h0M36.1 119.5h0M39.0 126.9h0M39.7 120.2h0M37.9 116.2h0M45.3 134.0h0M40.1 118.8h0M32.7 129.5h0M33.8 126.8h0M32.4 128.1h0M40.2 124.5h0M32.3 129.5h0M40.5 115.2h0M49.6 116.8h0M39.2 124.3h0M38.3 121.4h0M45.7 124.7h0M39.4 128.7h0M35.2 129.1h0M52.8 118.6h0M32.2 123.9h0M38.4 131.7h0M44.3 124.2h0M38.4 122.0h0M41.4 130.4h0M54.1 122.0h0M33.4 123.8h0M43.1 125.9h0M39.5 121.1h0M31.4 127.0h0M41.6 131.7h0M39.7 119.1h0M41.8 133.7h0M46.1 128.3h0M45.4 122.9h0M41.6 133.7h0M32.1 132.2h0M38.2 127.8h0M39.6 120.8h0M33.8 126.9h0M48.7 122.2h0M52.6 119.8h0M36.5 118.5h0M41.5 131.0h0M37.5 127.5h0M47.0 124.6h0M41.7 133.9h0M39.5 123.0h0M37.6 126.6h0M39.8 127.9h0M32.7 125.9h0M43.3 124.5h0M34.5 132.4h0M42.4 125.4h0M39.8 134.1h0M45.9 119.9h0M38.9 127.7h0M45.4 116.0h0M33.2 127.6h0M42.8 121.1h0M40.2 130.5h0M39.5 129.4h0M41.0 130.1h0M29.6 125.4h0M46.6 115.6h0M32.7 126.4h0M49.3 121.5h0M30.9 119.3h0M35.6 120.8h0M36.9 130.5h0M43.2 115.5h0M37.8 132.3h0M44.9 130.2h0M36.7 125.4h0M39.0 120.1h0M36.6 124.4h0M41.2 114.8h0M51.0 131.0h0M41.3 126.1h0M40.2 121.7h0M35.1 122.3h0M34.2 131.4h0M48.2 132.5h0M32.0 121.1h0M33.2 124.9h0M38.4 116.2h0M36.3 131.4h0M51.3 123.6h0M41.3 125.1h0M43.5 122.5h0M31.9 124.5h0M34.9 132.9h0M41.7 115.9h0M49.3 127.7h0M33.2 129.8h0M29.1 126.6h0M45.1 119.2h0M48.6 129.8h0M48.1 126.8h0M46.1 120.6h0M38.7 125.1h0M36.6 120.0h0M36.2 126.5h0M48.3 123.1h0M48.0 121.2h0M33.1 118.9h0M50.2 114.9h0M36.7 121.4h0M30.4 133.0h0M39.0 123.4h0M38.3 121.6h0M38.4 130.6h0M36.0 130.8h0M37.0 122.6h0M36.1 123.7h0M41.1 129.8h0M33.9 130.3h0M37.2 122.1h0M38.1 128.2h0M47.2 123.7h0M41.4 132.4h0M38.3 121.5h0M42.4 130.7h0M41.6 128.3h0M45.9 118.3h0M42.2 131.8h0M50.3 128.4h0M47.5 115.9h0M36.4 120.4h0M44.6 119.2h0M42.3 123.5h0M38.4 131.3h0M29.7 132.9h0M41.2 134.0h0M43.9 127.4h0M44.1 133.3h0M45.5 125.6h0M35.6 112.0h0M41.4 123.0h0M41.6 119.2h0M33.9 128.6h0M35.3 128.3h0M33.2 121.4h0M41.8 124.4h0M39.4 110.6h0M44.8 130.6h0M41.2 126.0h0M35.0 127.7h0M41.2 127.6h0M36.5 121.1h0M42.8 125.0h0M41.0 132.2h0M39.0 129.3h0M39.3 124.7h0M37.1 122.1h0M44.6 132.8h0M49.8 126.3h0M36.7 124.7h0M36.8 114.0h0M38.2 115.0h0M40.8 121.4h0M42.7 123.6h0M32.9 120.2h0M43.8 124.2h0M29.4 122.0h0M37.0 116.5h0M51.3 123.7h0M38.1 127.1h0M31.6 126.5h0M38.8 127.8h0M41.6 132.1h0M32.6 119.5h0M41.2 114.3h0M45.7 126.1h0M32.9 129.9h0M45.7 120.6h0M42.8 128.4h0M31.7 126.0h0M39.5 131.9h0M39.6 122.2h0M33.6 119.3h0M39.9 129.5h0M43.1 133.9h0M40.4 131.3h0M32.5 120.7h0M37.4 131.2h0M40.0 123.3h0M37.4 111.5h0M36.3 133.7h0M34.6 133.4h0M43.5 128.2h0M38.7 115.8h0M39.8 117.0h0M35.1 132.7h0M40.0 129.3h0M32.7 126.9h0M31.1 131.5h0M36.9 123.8h0M46.6 122.2h0M40.2 120.7h0M48.2 125.2h0M38.2 124.1h0M37.0 133.1h0M30.2 133.8h0M35.4 122.6h0M41.1 118.8h0M43.6 127.9h0M43.4 131.9h0M37.7 113.1h0M39.8 132.5h0M43.2 132.8h0M42.1 111.6h0M40.0 121.9h0M34.1 127.4h0M37.4 124.2h0M45.3 120.2h0M37.6 130.5h0M54.0 112.6h0M36.8 120.9h0M31.9 125.8h0M38.9 127.1h0M47.1 130.2h0M38.0 125.7h0M42.9 131.0h0M39.6 116.4h0M36.7 108.0h0M39.4 129.2h0M35.6 125.3h0M35.9 121.1h0M41.4 128.4h0M43.9 124.3h0M39.9 121.6h0M30.0 124.0h0M37.1 126.9h0M37.2 130.9h0M34.4 122.1h0M38.8 132.6h0M39.3 129.5h0M39.8 132.6h0M31.9 125.2h0M35.1 127.3h0M33.6 124.9h0M44.7 129.5h0M36.8 129.7h0M36.3 126.6h0M44.3 122.5h0M35.0 127.0h0M39.9 127.1h0M33.7 127.0h0M51.2 121.3h0M44.8 111.7h0M46.1 131.2h0M30.6 125.2h0M32.1 127.1h0M45.8 119.2h0M37.8 133.2h0M37.4 121.3h0M41.1 129.0h0M39.1 133.9h0M42.0 129.5h0M34.8 120.3h0M42.2 133.6h0M45.0 129.9h0M46.1 129.3h0M44.7 125.2h0M42.3 122.3h0M43.0 132.1h0M44.3 118.3h0M37.3 132.8h0M39.6 127.9h0M37.2 132.7h0M30.2 131.0h0M43.1 131.7h0M47.9 129.3h0M35.1 119.1h0M33.3 133.5h0M48.1 124.0h0M33.4 121.3h0M52.1 126.9h0M39.3 117.9h0M33.4 133.9h0M49.7 120.1h0M48.8 126.3h0M37.2 131.2h0M48.4 115.2h0M36.6 131.2h0M29.1 130.6h0M42.2 130.3h0M44.8 124.8h0M52.2 129.3h0M49.9 124.9h0M43.4 129.5h0M35.7 128.8h0M37.1 133.4h0M33.8 129.7h0M37.3 130.5h0M40.1 131.1h0M38.8 134.4h0M55.2 121.1h0M43.8 130.1h0M36.0 130.3h0M42.6 118.7h0M31.3 131.3h0M48.0 112.8h0M42.7 126.8h0M31.6 125.0h0M45.0 124.6h0M42.1 125.7h0M41.4 122.0h0M33.6 130.0h0M35.0 124.5h0M39.6 120.9h0M44.8 124.5h0M33.8 123.3h0M46.2 117.2h0M33.1 128.1h0M45.8 120.3h0M40.5 117.7h0M50.0 110.3h0M43.3 134.3h0M43.9 116.5h0M33.2 129.1h0M43.1 112.3h0M48.7 115.2h0M47.8 132.1h0M53.6 123.2h0M41.0 122.7h0M40.3 126.1h0M45.3 118.8h0M39.1 127.4h0M32.4 126.4h0M45.2 125.6h0M30.1 125.9h0M45.9 126.4h0M32.5 125.3h0M44.3 121.1h0M29.0 127.4h0M36.2 123.7h0M46.4 113.7h0M33.9 116.0h0M39.4 122.1h0M36.0 128.5h0M40.9 122.8h0M41.7 124.8h0M32.0 133.0h0M42.6 130.2h0M34.0 127.6h0M32.7 128.4h0M34.7 126.0h0M53.4 119.2h0M29.2 119.8h0M43.7 127.9h0M45.2 123.1h0M42.5 130.6h0M36.0 133.4h0M46.2 116.4h0M32.3 128.9h0M40.3 124.4h0M33.1 126.1h0M41.0 124.0h0M40.5 111.9h0M30.3 132.6h0M49.9 123.7h0M45.8 118.7h0M44.3 124.6h0M36.4 129.9h0M35.6 125.4h0M31.9 124.0h0M41.7 124.9h0M40.4 122.9h0M41.3 124.5h0M35.8 132.2h0M47.1 127.7h0M40.2 121.8h0M35.0 128.5h0M38.6 124.3h0M45.1 124.6h0M37.1 122.9h0M37.4 122.7h0M34.8 128.3h0M43.2 119.0h0M36.2 130.2h0M35.2 126.7h0M34.3 122.5h0M42.5 121.8h0M35.6 124.8h0M42.9 126.2h0M34.6 126.8h0M41.2 120.7h0M46.6 129.9h0M45.6 125.3h0M35.4 133.7h0M38.0 129.0h0M30.9 127.7h0M49.6 123.9h0M47.8 130.0h0M37.0 133.7h0M48.6 127.3h0M39.8 129.0h0M39.3 133.1h0M43.1 133.1h0M42.4 129.6h0M45.8 125.9h0M35.7 130.8h0M36.1 123.8h0M44.8 126.7h0M36.9 128.0h0M40.0 123.4h0M42.4 125.6h0M38.5 122.1h0M31.1 129.3h0M34.0 125.9h0M31.1 132.5h0M40.4 125.5h0M44.2 121.4h0M45.5 122.9h0M34.4 127.4h0M40.5 123.1h0M42.5 131.3h0M35.8 131.8h0M38.1 127.9h0M52.4 115.2h0M40.3 129.4h0M44.6 117.1h0M36.3 128.7h0M39.3 126.9h0M38.8 121.7h0M46.5 120.1h0M46.5 122.7h0M43.3 124.1h0M39.3 132.4h0M35.2 130.4h0M38.0 133.4h0M42.9 118.0h0M34.1 121.6h0M32.8 128.4h0M32.6 129.7h0M30.4 122.2h0M46.1 126.1h0M37.7 126.9h0M40.4 130.3h0M46.3 125.4h0M46.9 120.9h0M35.8 122.4h0M47.4 109.2h0M41.4 131.9h0M39.0 117.7h0M41.8 123.3h0M34.0 125.7h0M38.3 130.6h0M42.8 124.2h0M36.7 131.6h0M38.2 127.1h0M45.1 121.7h0M47.9 132.1h0M43.8 123.5h0M47.0 116.0h0M36.5 125.5h0M37.1 130.5h0M41.0 119.3h0M37.1 132.0h0M35.8 132.3h0M37.7 123.2h0M32.9 132.6h0M42.1 115.6h0M50.6 120.5h0M39.5 127.1h0M46.8 126.7h0M36.2 127.2h0M35.9 127.1h0M34.7 124.3h0M38.1 124.3h0M50.6 124.9h0M31.7 132.3h0M49.3 127.3h0M37.5 134.3h0M44.3 114.1h0M43.0 122.3h0M40.8 125.1h0M41.3 132.3h0M32.6 133.2h0M55.2 120.9h0M37.7 127.8h0M40.2 133.9h0M31.8 126.8h0M36.0 125.7h0M45.2 127.6h0M42.5 127.8h0M34.7 132.5h0M35.8 124.4h0M47.1 118.4h0M32.9 128.5h0M41.6 128.3h0M36.2 128.0h0M44.7 123.5h0M44.5 124.7h0M34.7 133.9h0M47.3 128.4h0M36.0 133.3h0M37.7 130.1h0M33.8 129.8h0M40.3 127.9h0M46.2 124.8h0M44.8 115.1h0M30.7 127.7h0M33.6 132.3h0M52.3 121.9h0M39.4 122.4h0M40.5 128.8h0M34.7 133.2h0M45.7 133.3h0M39.2 122.3h0M52.9 123.8h0M36.6 130.9h0M43.2 112.4h0M33.9 130.5h0M39.1 115.6h0M45.1 129.1h0M40.2 129.0h0M41.3 128.9h0M36.8 132.7h0M41.0 128.4h0M39.4 122.7h0M48.2 125.9h0M43.6 132.5h0M37.5 126.5h0M43.5 118.0h0M43.8 132.2h0M33.2 125.4h0M31.8 126.2h0M44.8 119.7h0M32.3 127.3h0M40.4 131.0h0M46.7 132.8h0M38.4 121.5h0M35.5 130.6h0M49.3 132.5h0M38.4 118.3h0M30.2 120.9h0M34.0 131.0h0M42.7 123.5h0M34.5 122.1h0M44.6 127.2h0M41.3 121.2h0M40.8 112.4h0M43.1 125.2h0M42.1 126.4h0M33.6 132.2h0M36.9 133.0h0M53.7 123.1h0M31.4 127.6h0M36.0 123.6h0M45.7 114.6h0M38.0 124.3h0M33.9 134.2h0M30.7 133.2h0M45.4 123.7h0M47.8 113.1h0M39.3 131.5h0M45.6 130.8h0M32.5 121.7h0M40.1 116.6h0M34.7 128.9h0M40.1 130.6h0M43.7 118.4h0M45.7 122.5h0M32.8 123.9h0M47.0 117.0h0M36.0 119.7h0M32.5 129.5h0M37.9 124.7h0M29.8 125.5h0M39.0 110.9h0M37.7 121.3h0M42.4 124.7h0M37.0 120.4h0M39.0 128.9h0M29.9 120.4h0M39.3 127.1h0M33.6 127.2h0M36.2 133.0h0M38.4 120.2h0M40.2 122.3h0M37.1 118.3h0M42.0 127.4h0M41.3 121.9h0M44.6 126.7h0M47.2 127.9h0M42.1 126.4h0M38.9 128.2h0M32.5 130.3h0M33.0 124.9h0M36.1 126.2h0M40.7 116.1h0M40.4 124.0h0M39.0 121.9h0M38.0 125.3h0M43.0 129.7h0M40.3 128.4h0M40.9 128.8h0M40.9 132.6h0M35.6 113.3h0M32.5 131.2h0M42.1 125.4h0M41.6 125.1h0M37.6 119.1h0M36.4 130.7h0M53.4 128.9h0M34.2 134.2h0M37.6 126.5h0M40.7 129.9h0M31.7 134.4h0M50.3 130.4h0M44.9 125.5h0M43.0 125.9h0M42.7 126.4h0M39.7 127.7h0M45.0 121.7h0M38.0 131.5h0M36.3 123.2h0M39.6 121.5h0M44.7 126.9h0M41.1 122.4h0M43.2 123.7h0M46.5 128.9h0M53.7 121.9h0M47.4 123.1h0M37.0 129.9h0M33.7 129.5h0M40.7 121.8h0M43.6 122.4h0M35.7 133.4h0M47.6 120.1h0M40.8 121.0h0M34.6 134.2h0M30.1 127.3h0M35.1 121.1h0M45.5 130.0h0M29.4 124.2h0M45.6 131.5h0M51.7 123.7h0M38.9 123.2h0M31.6 127.2h0M42.4 120.2h0M41.4 126.6h0M43.6 125.3h0M55.2 125.8h0M43.6 125.6h0M41.7 116.8h0M48.8 118.5h0M36.6 126.3h0M34.9 127.0h0M43.4 124.1h0M37.0 127.3h0M50.0 113.0h0M48.6 128.9h0M43.9 121.0h0M36.6 128.2h0M42.9 110.1h0M44.1 126.3h0M41.2 112.4h0M43.4 134.2h0M40.4 128.9h0M48.9 119.0h0M46.6 114.6h0M39.8 127.8h0M33.7 131.7h0M42.7 123.7h0M33.5 123.4h0M44.8 129.9h0M41.4 120.0h0M45.1 130.0h0M38.1 116.7h0M29.8 123.8h0M50.1 114.3h0M47.7 113.2h0M41.7 118.8h0M43.2 129.1h0M50.5 124.3h0M29.6 133.2h0M44.5 128.9h0M37.5 116.0h0M38.2 121.5h0M39.1 124.5h0M41.2 124.7h0M49.4 114.9h0M39.3 121.3h0M34.5 134.3h0M46.3 126.8h0M36.3 125.3h0M41.9 123.9h0M36.5 129.0h0M43.2 121.0h0M45.4 122.9h0M36.5 116.9h0M39.3 130.4h0M40.9 128.1h0M44.4 127.7h0M35.5 129.8h0M30.3 122.9h0M35.9 131.7h0M39.1 132.9h0M38.5 131.3h0M38.6 131.7h0M43.6 126.2h0M36.0 118.5h0M31.0 124.7h0M31.2 118.0h0M52.3 120.0h0M37.9 127.4h0M48.2 122.6h0M42.0 113.8h0M33.8 132.5h0M39.0 131.1h0M44.4 116.4h0M46.6 125.0h0M33.3 132.6h0M43.8 123.2h0M40.6 131.1h0M46.0 125.4h0M47.8 130.2h0M36.8 128.3h0M29.9 128.3h0M41.5 128.8h0M50.2 127.7h0M43.3 126.6h0M40.5 123.3h0M54.1 116.9h0M32.4 126.2h0M44.7 121.2h0M35.4 128.8h0M39.3 127.4h0M39.6 125.7h0M48.5 123.4h0M33.1 129.3h0M42.1 122.0h0M36.1 129.9h0M41.7 123.6h0M32.2 128.0h0M36.7 125.6h0M45.5 120.6h0M37.9 118.5h0M42.9 110.2h0M42.3 126.6h0M36.8 134.3h0M29.2 124.0h0M45.2 127.5h0M40.1 123.7h0M45.2 126.1h0M33.5 113.7h0M45.6 125.6h0M42.6 124.4h0M38.8 111.4h0M39.8 130.1h0M43.8 124.7h0M37.1 128.2h0M41.5 127.8h0M39.9 123.6h0M36.6 124.4h0M47.6 121.1h0M35.2 124.6h0M35.9 124.8h0M46.1 126.1h0M37.3 130.3h0M32.6 124.2h0M44.0 114.0h0M43.5 119.9h0M44.4 128.0h0M41.9 123.3h0M34.1 118.0h0M43.6 126.2h0M31.4 128.7h0M29.9 126.2h0M32.0 132.0h0M44.5 124.2h0M30.6 122.1h0M31.7 129.2h0M33.0 120.3h0M40.2 131.8h0M36.9 129.9h0M44.4 118.5h0M34.5 129.0h0M35.8 114.2h0M39.2 125.4h0M40.7 116.3h0M50.4 121.7h0M35.3 118.7h0M39.2 125.8h0M47.5 108.9h0M34.9 117.7h0M33.6 124.7h0M32.0 129.3h0M41.4 127.9h0M42.2 127.9h0M38.0 133.7h0M39.2 130.5h0M46.9 128.4h0M44.4 118.6h0M30.1 128.2h0M43.4 130.0h0M37.4 131.4h0M34.8 133.7h0M36.0 124.8h0M38.7 124.1h0M35.1 127.0h0M32.4 115.6h0M36.1 129.5h0M32.6 117.7h0M32.1 124.5h0M43.2 124.4h0M35.9 125.1h0M41.6 126.6h0M31.7 123.9h0M39.4 125.6h0M35.8 124.9h0M35.6 118.8h0M42.4 129.3h0M39.9 118.0h0M37.6 131.0h0M38.7 121.5h0M39.5 123.0h0M50.5 115.1h0M42.6 119.5h0M45.5 116.3h0M43.8 110.8h0M38.8 126.2h0M31.4 121.7h0M42.4 119.8h0M39.5 112.9h0M56.6 111.4h0M38.5 116.7h0M56.2 125.5h0M52.0 108.2h0M37.2 116.8h0M35.7 127.0h0M51.6 119.1h0M40.8 109.2h0M43.0 119.6h0M39.9 124.4h0M32.8 118.0h0M39.0 123.9h0M34.6 120.4h0M30.4 120.5h0M39.6 118.5h0M55.0 109.2h0M41.3 130.2h0M42.8 116.2h0M45.6 113.2h0M51.9 117.5h0M44.1 117.3h0M38.2 127.5h0M38.9 119.3h0M50.2 116.0h0M37.1 122.4h0M47.8 115.1h0M41.2 127.5h0M42.8 115.1h0M51.0 111.1h0M42.3 117.0h0M31.9 127.4h0M41.4 123.8h0M33.1 117.3h0M43.9 119.0h0M32.3 123.5h0M39.1 119.1h0M30.8 126.0h0M39.1 110.9h0M38.4 122.2h0M46.2 117.2h0M51.8 106.3h0M40.4 119.3h0M35.3 130.2h0M56.4 108.8h0M44.5 120.4h0M46.4 115.3h0M46.3 112.4h0M52.7 108.3h0M49.3 112.8h0M46.9 122.5h0M47.5 119.7h0M35.4 119.1h0M37.2 126.4h0M41.0 118.8h0M42.5 115.2h0M41.9 121.0h0M44.1 113.2h0M42.0 111.2h0M38.6 127.1h0M29.7 116.9h0M48.1 118.1h0M46.2 109.0h0M35.2 122.5h0M45.5 115.9h0M44.8 115.2h0M42.4 108.0h0M32.8 123.9h0M37.3 117.1h0M53.9 111.8h0M35.4 127.4h0M39.2 116.9h0M33.5 124.9h0M38.1 115.4h0M44.4 119.4h0M46.8 120.6h0M42.1 120.9h0M37.3 128.4h0M49.1 110.0h0M49.1 120.1h0M40.5 116.7h0M50.1 119.7h0M36.8 123.0h0M39.5 126.8h0M48.9 107.9h0M39.8 121.5h0M32.8 121.5h0M36.7 120.6h0M31.9 115.3h0M46.0 121.2h0M28.9 127.3h0M49.3 110.0h0M29.5 119.4h0M42.1 114.6h0M30.8 132.0h0M39.4 119.9h0M49.5 113.1h0M50.2 116.7h0M51.6 113.6h0M41.1 120.5h0M42.6 122.2h0M43.5 119.7h0M46.4 120.7h0M38.8 114.9h0M50.0 114.7h0M44.2 115.9h0M50.4 114.7h0M45.4 116.8h0M46.9 113.1h0M36.3 120.4h0M38.7 125.4h0M32.1 121.8h0M39.6 114.3h0M40.5 122.7h0M48.1 120.2h0M32.4 123.1h0M40.9 115.5h0M51.2 112.8h0M49.6 120.0h0M39.8 120.9h0M52.9 111.5h0M47.6 117.4h0M34.9 125.2h0M38.3 126.2h0M43.5 127.9h0M43.3 122.9h0M37.0 116.4h0M36.2 128.1h0M47.1 120.3h0M44.4 120.9h0M45.9 119.0h0M41.4 126.5h0M36.4 119.0h0M43.7 121.1h0M53.2 117.9h0M43.2 114.5h0M48.5 109.8h0M40.1 122.2h0M29.4 129.0h0M46.2 119.8h0M45.8 113.2h0M43.8 119.7h0M33.4 129.3h0M33.2 122.3h0M40.0 118.8h0M42.5 113.3h0M32.7 128.2h0M33.8 133.1h0M46.0 110.2h0M49.5 118.5h0M37.5 125.9h0M36.5 119.5h0M36.3 120.5h0M45.4 113.4h0M41.2 120.3h0M49.3 118.1h0M50.5 118.4h0M31.0 126.2h0M41.1 114.0h0M38.7 127.9h0M39.2 126.4h0M32.6 121.0h0M38.8 129.4h0M33.6 126.1h0M44.3 118.4h0M42.1 128.3h0M31.1 113.2h0M28.9 118.7h0M38.1 124.7h0M46.6 115.3h0M45.4 112.6h0M41.2 126.8h0M38.0 115.2h0M36.1 119.2h0M39.2 124.8h0M32.5 133.0h0M38.4 111.5h0M36.7 123.3h0M47.0 107.9h0M40.2 119.3h0M41.3 111.8h0M40.8 117.2h0M43.1 126.3h0M38.7 123.5h0M41.6 123.1h0M49.4 117.8h0M48.0 117.5h0M44.0 122.7h0M51.7 108.1h0M43.4 116.6h0M34.3 127.6h0M36.5 120.2h0M41.2 125.4h0M44.7 125.0h0M49.8 111.9h0M37.4 117.8h0M35.6 125.6h0M47.5 117.4h0M50.6 111.1h0M38.1 124.2h0M44.2 120.6h0M52.0 113.9h0M44.1 132.2h0M41.3 126.1h0M51.7 118.7h0M46.5 130.9h0M42.6 124.1h0M38.2 117.9h0M32.3 126.2h0M40.9 120.1h0M40.9 117.1h0M50.0 116.0h0M32.6 125.7h0M52.5 113.0h0M42.0 116.9h0M50.6 118.3h0M34.4 115.8h0M44.3 121.9h0M50.9 114.3h0M42.6 120.2h0M30.6 114.1h0M39.2 128.9h0M45.7 108.8h0M31.2 121.1h0M30.8 128.6h0M43.5 115.5h0M34.6 121.4h0M32.9 122.2h0M35.9 125.9h0M52.9 111.7h0M35.2 124.1h0M41.7 121.5h0M43.6 115.1h0M34.6 119.8h0M49.9 124.2h0M43.0 114.5h0M45.1 123.5h0M29.1 126.8h0M40.3 122.7h0M40.0 122.0h0M47.1 115.2h0M52.9 114.6h0M39.8 116.7h0M39.7 120.1h0M45.1 115.5h0M53.2 116.6h0M35.5 122.4h0M46.4 110.0h0M39.9 118.6h0M39.2 120.3h0M47.8 111.6h0M35.8 129.2h0M33.7 125.9h0M46.7 120.6h0M41.5 115.8h0M39.7 118.6h0M40.7 124.8h0M45.5 110.3h0M38.9 122.7h0M47.5 116.6h0M44.8 115.2h0M52.9 113.5h0M51.2 108.8h0M48.2 116.8h0M40.2 114.3h0M42.6 112.7h0M37.3 128.7h0M40.1 110.1h0M45.9 121.7h0M51.9 109.9h0M31.5 108.1h0M35.5 122.6h0M38.8 125.5h0M34.3 125.3h0M32.2 133.1h0M37.9 120.9h0M51.4 116.8h0M47.2 111.4h0M42.0 120.0h0M42.0 126.7h0M29.3 128.8h0M47.0 117.2h0M45.0 108.0h0M33.6 122.1h0M43.3 112.2h0M40.3 124.0h0M37.9 118.0h0M34.3 125.3h0M36.7 117.4h0M34.7 132.5h0M45.2 111.7h0M44.5 118.5h0M44.2 130.8h0M40.4 121.2h0M38.7 116.8h0M57.1 113.7h0M50.7 118.5h0M44.4 108.3h0M42.3 120.1h0M38.0 111.2h0M40.1 129.5h0M32.9 124.7h0M31.4 123.0h0M40.9 123.1h0M29.4 128.7h0M48.1 110.0h0M50.1 122.6h0M30.1 117.4h0M43.8 125.0h0M43.4 125.9h0M42.6 125.0h0M44.9 120.3h0M47.4 111.9h0M48.3 120.3h0M55.2 120.9h0M42.0 123.2h0M48.3 123.5h0M29.6 122.4h0M40.8 124.9h0M32.6 129.1h0M45.9 113.6h0M32.0 125.3h0M41.0 122.1h0M42.0 118.1h0M43.3 118.2h0M50.0 114.2h0M49.0 115.8h0M52.1 116.0h0M38.1 121.2h0M37.6 123.0h0M52.4 111.2h0M39.8 124.4h0M31.5 122.7h0M31.9 133.0h0M42.3 119.0h0M48.6 116.9h0M53.1 109.3h0M40.5 118.4h0M38.3 122.1h0M54.0 112.6h0M38.4 118.2h0M52.8 107.5h0M43.6 118.6h0M43.6 119.1h0M40.1 123.0h0M44.1 124.2h0M38.3 119.8h0M36.7 112.4h0M40.8 119.2h0M37.0 113.1h0M44.1 111.8h0M42.5 124.1h0M39.9 123.2h0M40.3 117.0h0M40.1 117.2h0M54.9 111.6h0M41.8 110.8h0M37.4 124.2h0M39.6 118.9h0M46.8 125.6h0M40.3 115.0h0M40.7 124.9h0M39.9 117.1h0M43.1 123.7h0M44.8 112.9h0M45.2 121.1h0M29.6 124.1h0M33.8 119.8h0M47.8 118.3h0M50.1 116.7h0M51.6 121.6h0M42.9 122.8h0M41.5 117.6h0M40.9 110.1h0M30.3 124.0h0M36.0 125.7h0M37.4 115.3h0M48.7 109.7h0M54.3 113.1h0M38.3 119.9h0M44.6 125.6h0M43.9 119.8h0M36.0 125.3h0M36.2 120.1h0M31.0 125.4h0M39.4 115.8h0M40.8 121.3h0M40.5 125.2h0M40.6 126.8h0M45.4 117.2h0M34.8 119.8h0M48.5 111.9h0M29.3 119.6h0M42.3 119.7h0M44.7 124.5h0M35.9 111.1h0M29.9 115.4h0M46.6 123.6h0M36.8 114.3h0M47.7 117.7h0M47.6 110.0h0M41.8 123.3h0M41.8 123.3h0M49.2 116.1h0M44.6 121.9h0M34.8 123.6h0M46.2 106.7h0M58.8 103.6h0M51.6 126.1h0M34.1 97.8h0M32.6 112.8h0M38.3 120.2h0M38.4 118.3h0M41.4 119.7h0M34.6 102.2h0M47.2 101.5h0M41.0 115.1h0M44.3 107.3h0M40.7 123.5h0M46.8 110.7h0M28.7 114.8h0M56.5 110.0h0M44.1 107.5h0M45.2 110.3h0M46.8 103.8h0M51.5 107.6h0M48.1 105.0h0M43.1 111.8h0M38.9 100.1h0M42.9 113.4h0" fill="none" stroke="#000" stroke-width="0.8" stroke-linecap="square" stroke-opacity="0.72"/>
<path d="M58.5 43V135.2M27.6 105.5H127.2" stroke="#333" stroke-width="1" fill="none"/>
<path d="M34.0 135.2v1.8M38.4 135.2v1.8M41.6 135.2v1.8M44.0 135.2v1.8M46.0 135.2v1.8M47.6 135.2v1.8M49.1 135.2v1.8M50.4 135.2v1.8M59.0 135.2v1.8M63.4 135.2v1.8M66.6 135.2v1.8M69.0 135.2v1.8M71.0 135.2v1.8M72.6 135.2v1.8M74.1 135.2v1.8M75.4 135.2v1.8M84.0 135.2v1.8M88.4 135.2v1.8M91.6 135.2v1.8M94.0 135.2v1.8M96.0 135.2v1.8M97.6 135.2v1.8M99.1 135.2v1.8M100.4 135.2v1.8M109.0 135.2v1.8M113.4 135.2v1.8M116.6 135.2v1.8M119.0 135.2v1.8M121.0 135.2v1.8M122.6 135.2v1.8M124.1 135.2v1.8M125.4 135.2v1.8M51.5 135.2v2.4M77.0 135.2v2.4M102.5 135.2v2.4M126.5 135.2v2.4M27.6 129.6h-2M27.6 125.5h-2M27.6 122.7h-2M27.6 120.4h-2M27.6 118.6h-2M27.6 117.1h-2M27.6 115.7h-2M27.6 114.6h-2M27.6 106.6h-2M27.6 102.5h-2M27.6 99.7h-2M27.6 97.4h-2M27.6 95.6h-2M27.6 94.1h-2M27.6 92.7h-2M27.6 91.6h-2M27.6 83.6h-2M27.6 79.5h-2M27.6 76.7h-2M27.6 74.4h-2M27.6 72.6h-2M27.6 71.1h-2M27.6 69.7h-2M27.6 68.6h-2M27.6 60.6h-2M27.6 56.5h-2M27.6 53.7h-2M27.6 51.4h-2M27.6 49.6h-2M27.6 48.1h-2M27.6 46.7h-2M27.6 45.6h-2M27.6 113.5h-2.5M27.6 90.0h-2.5M27.6 67.5h-2.5M27.6 44.5h-2.5" stroke="#333" stroke-width="0.6" fill="none"/>
<rect x="28.5" y="44" width="2.5" height="2.5" fill="none" stroke="#777" stroke-width="0.5"/>
<rect x="59.5" y="44" width="2.5" height="2.5" fill="none" stroke="#777" stroke-width="0.5"/>
<rect x="28.5" y="106.5" width="2.5" height="2.5" fill="none" stroke="#777" stroke-width="0.5"/>
<rect x="59.5" y="106.5" width="2.5" height="2.5" fill="none" stroke="#777" stroke-width="0.5"/>
<text x="32.8" y="57.3" font-size="11.6" font-weight="bold" text-anchor="start" stroke="#000" stroke-width="0.3" letter-spacing="0.3">0.1</text>
<text x="122.2" y="56.7" font-size="11.6" font-weight="bold" text-anchor="end" stroke="#000" stroke-width="0.3" letter-spacing="0.3">0.0</text>
<text x="123.5" y="121.2" font-size="11.6" font-weight="bold" text-anchor="end" stroke="#000" stroke-width="0.3" letter-spacing="0.3">0.0</text>
<text x="15.6" y="114.9" font-size="7.6" font-weight="bold" text-anchor="start" fill="#000" stroke="#000" stroke-width="0.2">10<tspan dy="-3.1" dx="0.2" font-size="5.6">0</tspan></text>
<text x="15.6" y="92.1" font-size="7.6" font-weight="bold" text-anchor="start" fill="#000" stroke="#000" stroke-width="0.2">10<tspan dy="-3.1" dx="0.2" font-size="5.6">1</tspan></text>
<text x="15.6" y="69.5" font-size="7.6" font-weight="bold" text-anchor="start" fill="#000" stroke="#000" stroke-width="0.2">10<tspan dy="-3.1" dx="0.2" font-size="5.6">2</tspan></text>
<text x="15.6" y="47.7" font-size="7.6" font-weight="bold" text-anchor="start" fill="#000" stroke="#000" stroke-width="0.2">10<tspan dy="-3.1" dx="0.2" font-size="5.6">3</tspan></text>
<text x="47" y="146.9" font-size="7.6" font-weight="bold" text-anchor="start" fill="#000" stroke="#000" stroke-width="0.2">10<tspan dy="-3.1" dx="0.2" font-size="5.6">0</tspan></text>
<text x="73.2" y="146.9" font-size="7.6" font-weight="bold" text-anchor="start" fill="#000" stroke="#000" stroke-width="0.2">10<tspan dy="-3.1" dx="0.2" font-size="5.6">1</tspan></text>
<text x="97.8" y="146.9" font-size="7.6" font-weight="bold" text-anchor="start" fill="#000" stroke="#000" stroke-width="0.2">10<tspan dy="-3.1" dx="0.2" font-size="5.6">2</tspan></text>
<text x="121" y="146.9" font-size="7.6" font-weight="bold" text-anchor="start" fill="#000" stroke="#000" stroke-width="0.2">10<tspan dy="-3.1" dx="0.2" font-size="5.6">3</tspan></text>
<text transform="translate(11,115.6) rotate(-90)" font-size="14" font-weight="bold" stroke="#000" stroke-width="0.3">IgG<tspan dy="3" font-size="9.5">1</tspan><tspan dy="-3">-PE</tspan></text>
<text x="45.5" y="161.3" font-size="14" font-weight="bold" stroke="#000" stroke-width="0.3">IgG<tspan dy="3" font-size="9.5">1</tspan><tspan dy="-3">-FITC</tspan></text>
<path d="M149.9 37V257.4" stroke="#000" stroke-width="2.6" fill="none"/>
<path d="M149.8 28L155 37.6H144.6Z" fill="#000"/>
<text transform="translate(145,169.3) rotate(-90)" font-size="14" font-weight="bold" stroke="#000" stroke-width="0.3">CD11b</text>
<rect x="169.9" y="42" width="100.70000000000002" height="93.19999999999999" fill="#fff" stroke="#444" stroke-width="1"/>
<path d="M181.3 97.9h0M179.5 80.2h0M183.9 86.1h0M181.3 85.5h0M178.3 80.2h0M182.8 88.6h0M173.0 81.2h0M191.1 81.1h0M172.6 81.7h0M182.2 78.0h0M184.6 90.5h0M185.1 86.9h0M184.2 89.1h0M190.0 75.1h0M176.1 83.7h0M182.3 77.9h0M183.5 83.4h0M179.8 90.4h0M179.2 84.0h0M190.1 82.5h0M178.5 89.3h0M179.9 88.8h0M181.1 94.2h0M181.4 71.0h0M183.6 84.9h0M181.5 80.0h0M184.8 77.5h0M183.4 83.6h0M185.4 75.8h0M190.6 69.6h0M177.8 76.6h0M192.2 82.2h0M180.0 94.2h0M186.5 78.7h0M183.6 75.5h0M180.9 70.2h0M171.3 79.3h0M192.0 82.3h0M178.3 83.2h0M178.1 73.2h0M188.8 78.6h0M183.1 68.6h0M193.7 85.0h0M192.4 74.0h0M186.7 66.0h0M184.1 90.2h0M187.0 86.4h0M175.0 84.1h0M183.6 85.1h0M183.5 76.4h0M179.9 89.2h0M184.1 76.3h0M174.2 93.8h0M187.8 84.7h0M190.1 72.0h0M175.1 87.4h0M183.5 95.2h0M191.6 82.1h0M185.0 89.7h0M176.7 80.8h0M176.9 78.2h0M187.6 67.1h0M193.2 91.7h0M176.4 79.3h0M182.8 85.2h0M178.1 75.2h0M181.0 76.9h0M184.4 90.0h0M182.4 80.3h0M178.7 79.8h0M194.8 76.2h0M181.7 84.0h0M181.6 87.5h0M189.0 80.6h0M182.7 81.6h0M181.5 75.0h0M188.1 92.2h0M176.7 78.2h0M186.9 82.3h0M188.5 94.0h0M186.4 81.8h0M181.6 72.9h0M182.6 77.0h0M172.7 79.5h0M181.9 93.9h0M184.3 84.4h0M187.6 81.9h0M183.4 88.1h0M180.4 90.7h0M177.8 77.5h0M182.3 91.8h0M183.4 88.3h0M189.6 86.4h0M182.7 67.9h0M179.7 83.7h0M182.0 91.5h0M179.8 80.8h0M181.3 97.2h0M173.5 75.4h0M175.8 85.8h0M185.3 85.0h0M182.2 88.0h0M183.5 81.5h0M189.3 91.8h0M176.6 78.7h0M189.2 84.4h0M184.8 75.2h0M178.5 77.3h0M191.1 85.1h0M174.4 77.8h0M176.1 79.3h0M181.4 81.4h0M184.9 84.7h0M181.5 87.6h0M180.9 89.1h0M182.1 84.1h0M197.2 81.0h0M190.5 73.7h0M183.3 80.7h0M176.3 77.1h0M184.6 71.6h0M175.9 92.6h0M183.8 71.3h0M184.7 85.3h0M180.3 86.1h0M184.0 81.5h0M180.7 99.0h0M179.3 82.6h0M191.4 79.0h0M185.9 94.4h0M180.8 77.6h0M178.2 73.3h0M183.6 76.6h0M185.8 79.2h0M187.5 83.7h0M191.0 85.9h0M185.2 73.5h0M176.2 84.4h0M194.2 98.3h0M189.2 79.1h0M187.4 82.5h0M190.2 88.1h0M174.1 89.6h0M180.5 78.4h0M179.7 76.4h0M189.4 77.2h0M175.8 89.1h0M180.7 88.4h0M191.3 70.1h0M186.3 69.7h0M180.4 74.8h0M193.3 74.5h0M175.0 84.6h0M185.2 84.5h0M181.3 95.2h0M185.5 88.2h0M181.0 83.5h0M177.8 89.9h0M183.8 77.3h0M175.0 73.2h0M185.6 83.4h0M180.8 88.6h0M187.9 73.1h0M180.0 88.3h0M178.7 87.9h0M184.9 79.9h0M189.6 84.7h0M183.3 83.5h0M186.2 88.4h0M174.4 76.9h0M177.5 88.9h0M186.2 88.8h0M177.8 88.1h0M178.9 69.9h0M192.4 72.1h0M177.2 86.7h0M177.6 78.6h0M176.3 77.3h0M175.5 73.6h0M192.4 82.1h0M189.5 79.0h0M175.3 77.9h0M193.8 87.1h0M187.0 75.8h0M181.5 89.9h0M187.2 69.2h0M184.7 99.1h0M178.2 73.7h0M172.5 85.5h0M177.4 88.1h0M182.5 82.8h0M180.5 87.4h0M178.3 81.7h0M188.1 72.2h0M176.5 84.4h0M187.6 90.7h0M179.8 79.0h0M183.2 72.1h0M176.1 78.3h0M182.5 84.9h0M178.1 84.3h0M172.6 88.8h0M182.4 86.4h0M182.3 86.1h0M187.3 70.6h0M184.2 97.3h0M176.7 82.5h0M179.0 88.0h0M176.1 81.2h0M190.0 84.1h0M191.2 93.9h0M186.9 93.0h0M184.3 87.0h0M185.9 95.9h0M185.3 80.7h0M172.6 85.1h0M177.5 79.4h0M189.3 91.9h0M189.3 83.9h0M183.9 89.3h0M180.8 93.7h0M180.3 69.4h0M179.4 96.4h0M177.2 84.4h0M171.5 79.7h0M183.4 70.7h0M179.9 80.7h0M181.3 68.1h0M192.3 84.5h0M185.9 82.2h0M178.5 94.1h0M185.9 81.2h0M173.9 88.8h0M188.6 91.0h0M184.0 96.3h0M181.4 81.2h0M185.8 88.2h0M190.9 74.1h0M179.9 75.5h0M176.9 80.6h0M194.6 84.1h0M182.6 75.1h0M191.1 81.2h0M178.7 87.0h0M184.7 80.2h0M178.9 81.5h0M186.2 77.6h0M180.9 91.6h0M178.7 94.0h0M191.4 85.2h0M184.5 82.4h0M181.2 85.9h0M177.3 78.1h0M175.5 73.5h0M179.2 78.8h0M179.8 96.8h0M182.7 79.2h0M178.0 101.0h0M171.8 81.8h0M179.4 81.2h0M187.6 92.0h0M174.7 80.5h0M186.1 85.8h0M185.2 76.6h0M179.9 74.7h0M184.3 78.4h0M178.2 83.9h0M180.2 78.4h0M176.6 69.7h0M185.2 86.3h0M190.4 82.8h0M178.6 80.8h0M189.4 79.8h0M177.4 92.6h0M176.7 79.3h0M192.4 87.4h0M179.1 91.6h0M187.0 90.7h0M183.2 83.1h0M185.8 85.3h0M182.3 88.8h0M183.5 80.2h0M187.2 86.4h0M190.1 86.2h0M184.8 87.7h0M172.8 83.2h0M181.3 91.7h0M187.7 84.9h0M177.8 88.2h0M185.8 83.6h0M179.7 79.0h0M183.0 77.0h0M186.9 82.4h0M178.4 86.0h0M199.1 92.9h0M183.4 82.5h0M184.5 79.9h0M178.2 79.3h0M182.9 91.3h0M181.0 83.5h0M174.1 78.9h0M173.6 86.8h0M184.2 74.7h0M182.0 83.7h0M180.7 75.4h0M182.1 89.3h0M186.0 94.2h0M175.3 73.7h0M185.9 84.1h0M180.7 86.9h0M179.6 97.2h0M181.7 80.2h0M188.2 77.5h0M185.7 83.3h0M187.7 96.5h0M178.5 83.0h0M180.9 84.5h0M175.8 93.7h0M179.3 68.9h0M180.2 68.8h0M179.8 88.5h0M186.6 88.4h0M185.0 74.4h0M186.9 86.8h0M183.2 83.3h0M188.7 85.1h0M183.2 77.9h0M188.1 80.7h0M185.4 77.7h0M186.8 83.8h0M182.1 81.5h0M175.3 93.0h0M174.1 86.1h0M193.9 74.1h0M184.7 85.9h0M185.1 92.5h0M181.5 84.7h0M179.8 89.7h0M199.2 84.6h0M176.0 86.8h0M182.1 76.9h0M182.2 88.0h0M175.9 73.4h0M175.1 90.5h0M178.4 72.8h0M180.5 69.2h0M179.7 86.1h0M187.2 82.4h0M175.7 83.0h0M184.8 86.0h0M191.0 83.7h0M187.7 77.9h0M175.9 83.6h0M187.4 86.7h0M185.4 96.1h0M179.1 77.9h0M189.9 84.2h0M180.2 86.3h0M183.1 80.2h0M176.5 74.6h0M184.4 79.6h0M180.0 89.6h0M179.6 81.0h0M188.8 87.6h0M183.7 78.4h0M173.8 84.9h0M186.5 79.1h0M187.4 78.1h0M177.7 83.2h0M180.2 83.1h0M182.8 92.5h0M181.1 72.4h0M183.2 86.3h0M186.3 93.8h0M179.6 91.4h0M194.6 81.8h0M178.4 78.2h0M179.4 79.5h0M193.9 86.2h0M196.3 85.7h0M182.7 85.3h0M181.4 86.7h0M176.3 75.4h0M189.1 76.5h0M183.5 75.2h0M177.6 73.8h0M184.9 82.6h0M190.4 85.9h0M186.5 99.7h0M195.3 87.8h0M189.2 83.8h0M185.1 92.4h0M182.3 78.3h0M185.7 85.5h0M189.6 90.0h0M187.5 88.6h0M188.6 86.3h0M183.8 80.9h0M186.9 75.5h0M189.5 82.8h0M181.5 79.1h0M175.0 86.6h0M192.5 83.2h0M185.9 87.0h0M180.0 72.4h0M183.9 89.4h0M181.1 77.4h0M172.6 71.9h0M181.4 74.0h0M174.2 78.1h0M183.7 90.3h0M181.9 87.5h0M189.1 76.2h0M181.8 83.5h0M184.7 82.6h0M180.8 72.7h0M180.3 76.4h0M174.4 69.0h0M188.2 78.0h0M183.5 66.1h0M179.1 77.5h0M183.7 77.1h0M180.1 77.6h0M178.3 77.3h0M183.9 90.6h0M189.5 81.5h0M180.9 84.4h0M174.2 87.0h0M178.9 88.4h0M192.9 88.5h0M177.8 78.9h0M189.4 76.7h0M181.1 77.9h0M186.8 80.4h0M181.9 83.0h0M173.4 81.5h0M180.1 89.8h0M194.8 83.7h0M181.7 94.4h0M185.8 90.0h0M180.5 79.7h0M181.7 88.4h0M185.3 92.1h0M195.4 87.0h0M182.4 85.5h0M181.5 72.1h0M178.7 98.8h0M174.9 80.5h0M173.2 81.1h0M186.4 90.6h0M171.7 80.6h0M190.7 78.4h0M187.5 87.8h0M180.8 76.3h0M175.8 87.0h0M182.7 83.9h0M182.6 90.2h0M189.0 75.9h0M178.2 90.5h0M180.3 84.6h0M182.2 95.6h0M180.9 78.6h0M178.9 94.5h0M172.6 86.4h0M173.0 87.0h0M178.6 77.9h0M181.2 86.4h0M188.3 87.9h0M195.9 79.1h0M192.5 76.7h0M184.8 78.3h0M193.4 93.6h0M181.8 83.9h0M179.5 88.7h0M195.9 86.3h0M176.3 83.1h0M180.1 84.2h0M181.0 80.2h0M191.0 91.7h0M179.1 83.7h0M187.1 84.9h0M180.2 73.9h0M175.4 84.2h0M183.9 78.8h0M183.5 79.9h0M175.8 88.9h0M177.5 75.5h0M177.9 81.2h0M188.1 87.6h0M185.2 90.7h0M183.9 79.8h0M185.4 85.4h0M179.8 84.5h0M185.3 76.1h0M179.0 68.9h0M174.8 69.8h0M178.5 86.4h0M183.8 83.8h0M183.1 74.5h0M188.7 79.6h0M172.7 79.4h0M181.3 80.6h0M184.8 83.1h0M177.0 96.5h0M184.0 78.1h0M180.2 83.7h0M176.0 77.4h0M189.0 79.7h0M174.5 76.5h0M188.3 82.2h0M180.1 79.2h0M177.1 84.6h0M177.4 83.8h0M178.3 76.8h0M177.6 94.7h0M184.1 75.7h0M171.7 84.1h0M189.7 97.7h0M187.4 79.0h0M190.6 92.4h0M176.8 91.5h0M178.9 70.8h0M181.6 92.0h0M184.3 83.8h0M179.5 79.2h0M182.1 91.1h0M183.4 78.5h0M173.6 88.8h0M193.0 80.6h0M176.0 85.7h0M184.1 76.3h0M188.8 81.1h0M178.0 76.6h0M182.6 78.4h0M192.0 85.2h0M180.9 81.7h0M188.6 84.9h0M184.2 91.4h0M183.9 82.4h0M186.7 71.5h0M181.2 81.0h0M181.3 83.4h0M188.1 90.1h0M184.1 89.8h0M185.5 89.4h0M175.6 80.8h0M182.7 87.1h0M189.6 74.5h0M187.8 91.8h0M184.6 86.0h0M179.6 85.9h0M179.0 80.2h0M185.1 83.6h0M190.8 79.6h0M182.8 86.7h0M190.1 75.3h0M180.8 89.0h0M189.5 87.2h0M176.8 95.3h0M183.7 82.9h0M176.4 81.7h0M186.4 84.7h0M185.9 83.6h0M177.1 81.7h0M178.3 75.5h0M180.0 75.6h0M174.0 78.4h0M177.2 80.6h0M177.6 74.9h0M187.1 76.1h0M190.6 82.1h0M180.0 87.5h0M180.9 81.6h0M183.8 87.5h0M179.6 88.9h0M181.0 87.8h0M187.4 80.8h0M183.9 80.6h0M182.1 71.0h0M179.3 78.3h0M191.1 86.9h0M179.0 75.7h0M183.3 91.8h0M176.6 91.5h0M179.1 80.3h0M183.1 89.0h0M180.3 73.7h0M185.7 76.6h0M183.0 80.7h0M174.6 82.2h0M188.4 78.1h0M179.2 95.2h0M191.2 85.8h0M182.7 84.9h0M178.2 86.9h0M185.8 84.5h0M181.0 81.4h0M182.7 79.5h0M177.2 71.9h0M186.3 93.0h0M188.9 77.8h0M179.5 72.0h0M192.9 79.0h0M179.3 72.4h0M184.0 95.9h0M173.1 84.3h0M171.4 90.8h0M194.8 93.6h0M190.8 87.5h0M189.2 87.4h0M172.7 77.3h0M183.9 82.6h0M185.0 79.4h0M183.0 83.3h0M184.3 78.7h0M177.3 90.5h0M181.6 87.8h0M176.0 81.6h0M180.6 72.1h0M184.7 87.6h0M178.0 88.2h0M181.0 82.4h0M180.1 74.7h0M182.7 85.8h0M187.9 90.3h0M183.9 70.9h0M184.9 86.9h0M174.2 70.5h0M180.5 83.3h0M187.3 94.7h0M177.6 83.1h0M180.1 85.8h0M177.0 80.3h0M190.3 83.8h0M179.9 97.7h0M178.3 91.1h0M186.1 81.4h0M188.9 81.3h0M185.4 83.4h0M188.2 97.7h0M183.8 84.5h0M181.8 90.0h0M180.0 80.4h0M179.6 74.6h0M179.1 91.1h0M184.7 82.7h0M181.9 77.9h0M183.1 78.6h0M186.1 79.1h0M182.2 79.1h0M174.6 72.3h0M178.0 90.2h0M176.1 84.7h0M171.5 88.0h0M183.2 80.9h0M175.6 84.5h0M175.1 83.3h0M176.3 89.8h0M187.6 88.8h0M180.7 85.1h0M188.3 79.5h0M182.0 75.3h0M180.0 77.6h0M185.8 79.3h0M186.0 79.9h0M183.2 75.2h0M176.5 92.9h0M179.9 84.4h0M175.7 69.4h0M181.0 75.9h0M183.1 74.5h0M191.1 85.5h0M190.7 90.7h0M186.5 77.1h0M188.1 87.5h0M183.9 81.4h0M198.6 92.1h0M191.4 92.7h0M197.9 86.6h0M184.7 87.8h0M184.9 83.2h0M188.6 81.3h0M183.6 75.7h0M184.3 85.3h0M176.8 81.9h0M188.0 81.1h0M183.3 82.6h0M187.2 82.3h0M181.2 76.3h0M172.2 78.5h0M185.4 90.6h0M189.3 82.3h0M175.1 91.1h0M176.9 75.1h0M180.8 74.2h0M181.1 83.7h0M172.7 86.9h0M192.7 79.9h0M188.4 87.6h0M178.9 88.5h0M172.0 88.7h0M184.6 82.5h0M194.0 83.9h0M187.3 73.0h0M189.2 83.9h0M177.0 84.2h0M183.9 92.1h0M173.8 74.0h0M194.0 78.9h0M185.8 77.0h0M171.8 65.8h0M185.3 76.4h0M183.3 96.2h0M180.7 87.0h0M186.1 75.0h0M194.1 83.9h0M184.6 88.6h0M172.0 85.4h0M181.6 81.5h0M174.9 77.1h0M177.8 87.8h0M184.4 83.2h0M181.5 88.0h0M176.3 84.8h0M182.3 80.0h0M177.7 91.6h0M185.5 80.2h0M181.1 85.6h0M184.7 79.2h0M180.9 81.4h0M186.8 81.9h0M181.7 78.7h0M182.4 84.5h0M179.2 90.9h0M183.3 94.9h0M172.2 91.0h0M197.9 83.6h0M178.5 91.8h0M183.0 85.7h0M179.7 94.1h0M179.6 74.7h0M184.8 92.6h0M179.5 78.9h0M180.0 90.0h0M174.4 79.2h0M177.1 88.2h0M175.7 80.5h0M192.9 72.2h0M174.7 76.0h0M176.2 80.8h0M183.5 83.3h0M190.7 69.7h0M172.6 74.4h0M173.4 77.4h0M183.1 81.7h0M184.4 84.6h0M174.2 76.9h0M172.0 72.3h0M176.8 84.3h0M186.7 81.4h0M182.2 88.6h0M186.7 80.1h0M181.8 87.0h0M182.2 77.3h0M186.0 85.1h0M181.7 83.5h0M183.8 86.0h0M177.1 76.5h0M178.9 81.8h0M185.1 77.9h0M181.0 81.8h0M178.1 86.4h0M186.2 102.2h0M185.6 83.6h0M182.3 87.5h0M178.0 83.2h0M187.6 90.7h0M196.9 87.5h0M177.6 89.1h0M173.4 84.3h0M177.9 97.6h0M177.0 91.1h0M175.0 71.5h0M175.5 84.1h0M187.3 84.0h0M187.4 69.6h0M191.0 78.5h0M186.7 80.6h0M179.6 78.1h0M188.7 84.5h0M178.8 71.3h0M180.3 87.5h0M175.6 87.1h0M189.5 86.0h0M188.2 81.6h0M179.7 82.7h0M180.6 79.9h0M182.6 90.2h0M183.5 86.3h0M187.3 96.1h0M182.7 80.7h0M184.7 92.4h0M173.6 78.4h0M180.6 81.7h0M171.9 75.3h0M192.7 87.4h0M190.4 83.5h0M186.5 87.4h0M188.8 93.1h0M194.0 83.9h0M187.8 86.0h0M173.1 87.7h0M181.1 82.5h0M177.6 84.8h0M175.1 85.4h0M182.3 87.9h0M184.6 88.5h0M176.9 78.2h0M180.7 85.6h0M183.9 90.9h0M181.4 80.0h0M181.3 85.2h0M179.8 83.8h0M186.9 94.4h0M183.8 84.3h0M173.7 76.0h0M180.7 85.0h0M183.8 84.5h0M176.7 89.4h0M186.2 74.8h0M177.6 76.8h0M180.4 82.3h0M181.7 73.2h0M195.2 91.6h0M180.4 70.1h0M179.0 77.4h0M186.4 74.2h0M179.6 78.6h0M183.4 88.2h0M184.0 89.0h0M182.2 86.8h0M174.8 69.4h0M190.2 85.8h0M180.9 71.3h0M181.2 79.7h0M174.7 79.7h0M172.9 78.6h0M179.0 85.8h0M173.5 77.0h0M185.1 94.2h0M187.3 87.3h0M178.6 90.0h0M172.9 86.8h0M180.0 88.4h0M176.1 82.1h0M183.2 95.5h0M183.3 76.5h0M179.8 85.7h0M182.7 83.1h0M188.3 82.3h0M192.2 86.1h0M179.2 78.0h0M186.5 88.9h0M180.9 87.8h0M176.1 83.0h0M189.7 88.5h0M184.5 76.7h0M183.1 71.8h0M184.3 79.6h0M181.3 81.4h0M176.2 98.0h0M192.6 82.7h0M187.5 90.1h0M183.8 88.5h0M187.9 96.9h0M189.7 84.6h0M181.1 87.0h0M185.7 82.2h0M180.4 77.4h0M186.0 77.1h0M180.8 77.9h0M196.5 90.6h0M187.4 87.9h0M183.8 92.6h0M185.2 90.0h0M180.6 87.0h0M184.8 103.8h0M184.7 94.2h0M190.3 90.0h0M192.4 104.1h0M172.0 84.1h0M186.9 92.1h0M196.1 93.4h0M176.9 85.0h0M183.1 88.0h0M186.4 92.7h0M193.9 81.5h0M189.9 89.5h0M183.3 93.4h0M189.1 95.0h0M193.4 96.1h0M188.2 112.2h0M200.0 100.7h0M188.5 91.3h0M176.7 88.8h0M178.8 90.3h0M184.0 95.1h0M183.4 88.8h0M190.1 105.6h0M187.9 83.0h0M198.8 100.1h0M191.6 97.4h0M197.0 84.8h0M179.0 95.6h0M181.7 95.6h0M190.6 87.6h0M185.8 111.4h0M190.1 98.8h0M187.1 89.4h0M180.1 86.6h0M198.7 88.5h0M194.3 95.9h0M172.7 89.4h0M180.2 78.7h0M185.3 83.0h0M190.6 86.9h0M184.5 88.2h0M174.2 86.2h0M191.8 87.6h0M183.5 96.7h0M194.8 101.8h0M187.6 92.9h0M193.1 75.1h0M191.8 91.9h0M192.2 98.0h0M181.1 90.1h0M193.4 95.8h0M186.8 92.9h0M175.2 76.9h0M182.0 69.8h0M182.5 96.3h0M188.9 88.2h0M190.6 96.4h0M176.2 87.1h0M191.0 91.6h0M184.6 103.1h0M176.7 79.8h0M191.8 93.1h0M179.1 81.2h0M175.6 90.2h0M191.2 97.0h0M192.4 98.8h0M179.9 91.8h0M193.6 82.0h0M193.2 95.5h0M181.0 98.2h0M201.1 103.6h0M184.7 109.5h0M187.0 96.8h0M190.3 88.5h0M180.3 91.3h0M188.7 101.3h0M171.5 79.1h0M194.4 101.4h0M196.8 99.8h0M200.3 87.8h0M189.9 86.4h0M188.0 92.3h0M179.4 92.4h0M184.6 81.7h0M196.6 98.7h0M178.6 72.0h0M186.9 88.7h0M184.8 86.9h0M188.2 105.6h0M182.1 95.5h0M192.4 89.3h0M193.0 86.0h0M174.4 89.6h0M194.2 88.5h0M179.3 109.1h0M183.1 68.0h0M194.3 94.3h0M186.1 71.3h0M189.9 101.5h0M191.6 86.4h0M190.1 106.2h0M181.0 86.2h0M177.7 99.1h0M190.8 94.7h0M191.4 103.0h0M188.2 92.6h0M183.8 66.5h0M192.2 87.2h0M185.2 78.7h0M174.4 97.2h0M187.6 96.8h0M189.4 92.7h0M191.6 96.9h0M178.3 91.8h0M179.4 85.6h0M188.0 108.7h0M181.8 93.0h0M184.9 90.0h0M192.9 81.2h0M188.6 87.3h0M200.0 95.1h0M187.8 90.8h0M199.1 90.8h0M194.0 93.3h0M205.8 86.9h0M185.6 91.9h0M184.8 78.7h0M195.9 86.9h0M181.4 84.7h0M181.8 98.2h0M187.5 96.3h0M188.6 93.1h0M174.4 79.7h0M187.6 88.9h0M183.1 98.0h0M185.4 102.3h0M187.0 79.8h0M184.1 87.9h0M194.2 94.6h0M189.5 95.6h0M184.2 91.6h0M186.3 97.6h0M194.0 81.6h0M191.9 106.3h0M195.8 84.5h0M184.6 92.1h0M186.8 96.5h0M201.7 105.2h0M185.4 99.4h0M199.1 102.2h0M192.5 104.1h0M182.4 89.8h0M174.7 95.7h0M190.8 106.0h0M180.2 84.3h0M180.2 78.9h0M172.0 80.4h0M195.2 105.9h0M186.6 102.5h0M186.0 89.0h0M188.9 94.7h0M187.7 96.4h0M186.6 100.9h0M189.9 77.1h0M183.6 86.8h0M191.7 96.0h0M189.2 93.4h0M186.0 89.4h0M198.5 97.3h0M174.7 67.9h0M197.7 101.6h0M189.1 100.2h0M172.8 83.5h0M182.6 94.8h0M190.8 110.4h0M176.2 105.1h0M190.2 93.6h0M202.7 85.4h0M196.9 95.9h0M185.6 89.4h0M188.4 99.8h0M178.3 79.6h0M186.9 90.7h0M183.2 93.7h0M177.9 86.3h0M175.2 98.5h0M201.2 85.9h0M186.5 81.8h0M177.7 87.3h0M182.5 98.3h0M197.6 92.1h0M198.7 89.9h0M181.0 97.7h0M187.4 94.3h0M192.9 89.2h0M183.1 92.5h0M176.5 87.9h0M178.1 95.4h0M185.9 93.3h0M179.7 83.9h0M175.5 85.7h0M184.0 88.1h0M193.2 96.8h0M191.2 96.4h0M184.0 84.6h0M201.0 93.8h0M179.6 93.2h0M185.2 101.2h0M175.0 91.7h0M192.0 109.9h0M184.8 92.0h0M172.5 95.2h0M179.2 87.8h0M200.1 86.8h0M191.5 94.2h0M186.7 96.3h0M192.7 96.3h0M173.1 90.4h0M179.2 87.7h0M175.3 82.7h0M179.2 88.0h0M182.8 95.3h0M190.0 101.0h0M193.8 66.0h0M193.6 98.9h0M207.1 106.0h0M181.9 101.8h0M185.6 95.2h0M189.8 98.6h0M179.2 86.8h0M183.5 90.8h0M189.0 97.2h0M178.8 81.2h0M189.5 86.2h0M195.5 95.9h0M176.9 78.7h0M186.4 79.6h0M177.5 91.8h0M187.1 92.5h0M182.2 86.4h0M188.1 84.6h0M194.7 89.7h0M192.2 74.5h0M182.9 88.0h0M176.4 90.9h0M179.4 89.1h0M186.4 103.9h0M180.3 105.5h0M180.9 86.8h0M172.9 98.0h0M172.5 99.0h0M171.9 93.2h0M190.5 84.7h0M190.9 98.0h0M178.3 110.0h0M189.7 91.4h0M187.3 105.6h0M191.4 109.3h0M194.8 83.5h0M179.1 85.4h0M177.6 102.9h0M181.8 99.4h0M179.1 95.2h0M190.5 93.0h0M184.3 97.0h0M185.2 86.5h0M188.5 113.8h0M181.4 81.3h0M193.9 78.6h0M187.0 104.5h0M189.1 88.6h0M179.0 90.0h0M179.6 82.0h0M192.3 92.8h0M182.5 82.7h0M174.3 77.0h0M193.1 89.0h0M178.0 106.0h0M195.5 93.7h0M195.9 95.9h0M183.4 110.4h0M189.3 87.4h0M178.4 81.9h0M181.8 95.5h0M179.4 80.2h0M189.7 95.7h0M174.8 99.3h0M183.9 82.4h0M185.4 87.5h0M189.1 107.1h0M178.0 92.3h0M183.2 88.7h0M186.1 84.8h0M186.5 105.7h0M201.0 90.5h0M190.2 95.8h0M189.6 89.4h0M181.1 89.0h0M191.2 81.6h0M190.4 100.9h0M190.3 89.4h0M184.0 102.4h0M189.9 83.1h0M197.0 90.4h0M178.6 94.4h0M191.4 87.7h0M190.7 92.0h0M183.1 80.4h0M181.4 91.5h0M206.8 74.2h0M181.2 92.4h0M175.2 101.1h0M181.1 98.5h0M188.9 99.9h0M180.0 87.1h0M181.8 95.3h0M187.3 88.9h0M181.5 90.3h0M185.9 91.2h0M176.4 97.7h0M185.4 95.8h0M175.6 96.9h0M192.3 85.4h0M177.5 96.0h0M183.0 95.5h0M181.3 76.0h0M174.9 90.0h0M196.7 88.8h0M183.9 91.4h0M189.0 87.3h0M171.0 101.4h0M175.0 73.5h0M183.5 79.9h0M174.1 81.1h0M193.9 82.2h0M181.6 86.2h0M186.0 91.8h0M187.2 80.9h0M183.6 94.6h0M191.0 104.3h0M179.5 99.9h0M187.7 109.5h0M194.3 103.6h0M186.5 91.9h0M185.8 107.1h0M182.2 97.2h0M185.3 107.8h0M190.2 91.4h0M182.9 73.5h0M171.5 78.9h0M186.1 93.6h0M183.6 96.2h0M188.5 90.9h0M185.1 100.4h0M197.2 84.9h0M175.3 83.7h0M177.1 98.5h0M190.0 93.5h0M176.7 90.9h0M187.4 104.4h0M184.7 101.1h0M190.1 94.8h0M195.6 79.9h0M186.4 92.1h0M173.8 92.7h0M191.0 78.6h0M176.6 103.3h0M183.8 108.7h0M188.0 96.8h0M178.6 98.4h0M171.5 101.7h0M183.7 90.2h0M184.4 100.7h0M178.1 93.7h0M178.6 77.6h0M190.6 85.6h0M184.1 87.0h0M181.1 100.2h0M180.1 91.7h0M186.1 100.6h0M185.5 88.1h0M183.4 80.8h0M173.9 107.0h0M181.8 114.4h0M179.8 94.1h0M185.3 90.4h0M193.8 104.1h0M192.2 84.2h0M189.8 91.3h0M185.6 80.0h0M182.2 95.5h0M187.4 94.6h0M181.0 87.7h0M182.1 85.8h0M178.2 77.6h0M184.3 84.8h0M184.1 102.3h0M199.1 92.2h0M189.0 103.6h0M181.8 83.9h0M190.8 92.6h0M181.0 87.2h0M192.6 91.5h0M190.8 99.9h0M207.3 79.6h0M176.3 96.3h0M184.2 97.7h0M183.8 91.8h0M187.0 93.1h0M190.3 91.3h0M177.1 96.1h0M179.1 91.2h0M187.1 85.3h0M192.2 94.9h0M176.0 98.1h0M172.7 92.4h0M193.6 94.2h0M191.3 95.2h0M193.2 89.7h0M177.2 86.4h0M183.2 75.6h0M186.5 90.8h0M188.1 101.1h0M183.8 88.4h0M184.3 84.2h0M192.6 101.3h0M181.4 92.6h0M180.5 92.2h0M186.2 111.4h0M187.7 101.7h0M182.7 117.0h0M177.4 113.1h0M194.7 106.6h0M183.4 109.0h0M177.8 113.7h0M184.3 111.8h0M191.0 110.1h0M173.5 117.2h0M191.8 119.5h0M182.1 108.7h0M196.4 111.0h0M187.5 102.5h0M182.3 109.8h0M191.4 114.9h0M191.6 117.9h0M180.7 112.5h0M184.6 110.5h0M179.6 105.5h0M189.2 112.8h0M173.6 102.6h0M181.8 112.2h0M187.0 104.0h0M176.0 109.5h0M184.8 115.9h0M180.7 107.4h0M180.1 114.9h0M176.6 123.4h0M179.9 112.6h0M171.3 117.3h0M185.2 106.1h0M188.4 108.4h0M188.1 96.3h0M182.8 110.0h0M191.2 102.3h0M186.1 112.0h0M189.4 95.0h0M185.7 104.4h0M183.3 111.8h0M178.0 114.2h0M187.3 107.9h0M182.3 131.2h0M196.3 117.3h0M188.6 89.5h0M176.7 103.9h0M183.0 115.2h0M177.1 113.0h0M185.4 114.7h0M182.8 118.6h0M188.9 111.9h0M184.0 117.8h0M186.2 97.1h0M191.5 130.7h0M186.5 108.8h0M182.1 106.1h0M191.3 122.9h0M182.3 115.9h0M185.8 118.7h0M180.9 106.3h0M178.6 113.3h0M187.7 102.2h0M175.4 109.4h0M187.9 109.2h0M195.1 108.8h0M174.3 105.6h0M188.9 101.2h0M182.4 114.5h0M186.1 113.0h0M175.1 120.1h0M183.2 110.6h0M184.1 105.8h0M192.6 99.7h0M197.3 111.8h0M185.2 108.7h0M180.6 126.9h0M197.8 129.0h0M182.4 123.4h0M182.7 104.0h0M183.7 100.2h0M186.2 109.2h0M187.8 104.1h0M179.2 122.2h0M182.3 112.0h0M195.6 107.9h0M193.7 111.0h0M186.0 120.9h0M184.9 103.7h0M181.6 114.9h0M189.9 100.7h0M179.7 109.5h0M183.9 105.9h0M180.1 113.5h0M178.9 112.3h0M183.4 120.5h0M183.1 116.4h0M179.2 106.3h0M182.7 100.7h0M183.6 104.7h0M180.0 107.7h0M178.7 109.3h0M182.2 105.1h0M187.8 119.5h0M190.5 118.4h0M184.3 108.9h0M181.3 107.2h0M182.9 109.2h0M195.8 110.7h0M189.2 110.9h0M176.8 98.4h0M182.8 107.7h0M179.6 96.4h0M180.7 111.3h0M171.9 116.3h0M183.3 102.7h0M174.1 112.3h0M179.2 106.3h0M193.2 105.6h0M189.8 126.4h0M177.3 118.0h0M176.2 114.8h0M177.1 107.6h0M176.6 109.5h0M181.3 114.6h0M176.1 104.0h0M188.2 110.5h0M182.8 108.0h0M179.6 100.0h0M194.8 124.3h0M187.8 117.4h0M183.6 104.9h0M195.4 99.5h0M191.9 105.4h0M178.4 104.5h0M185.3 106.3h0M180.2 99.2h0M173.6 104.5h0M195.8 111.5h0M193.1 114.3h0M174.7 95.5h0M186.4 111.0h0M172.2 103.3h0M190.3 102.9h0M182.8 108.5h0M181.2 105.6h0M191.5 116.5h0M183.2 116.5h0M181.4 108.6h0M189.2 106.0h0M181.1 125.1h0M189.0 125.7h0M183.1 114.1h0M188.7 109.8h0M187.3 118.9h0M188.4 122.4h0M176.4 106.9h0M195.7 125.2h0M182.1 109.8h0M194.9 119.6h0M179.1 107.0h0M181.3 111.6h0M181.4 107.4h0M190.9 111.2h0M180.3 119.0h0M185.9 104.0h0M172.6 108.7h0M179.9 115.3h0M184.6 107.3h0M182.4 127.1h0M186.5 131.0h0M176.6 105.8h0M196.2 118.7h0M181.9 123.8h0M198.3 115.2h0M187.6 99.9h0M186.2 108.4h0M179.9 111.6h0M182.3 115.5h0M186.2 118.8h0M189.8 122.7h0M175.3 103.5h0M181.4 118.9h0M186.2 112.2h0M188.2 102.6h0M185.0 96.9h0M185.3 118.3h0M180.6 110.8h0M184.2 118.9h0M191.3 98.5h0M180.3 101.4h0M186.5 110.2h0M188.0 105.7h0M181.5 111.6h0M184.7 106.1h0M184.6 108.3h0M179.8 101.9h0M199.6 121.2h0M180.2 108.5h0M194.7 101.6h0M190.4 116.4h0M184.8 112.7h0M190.1 112.8h0M188.6 107.9h0M177.0 110.0h0M184.9 93.4h0M175.0 98.7h0M176.1 101.2h0M181.5 113.3h0M184.4 120.7h0M194.0 109.7h0M185.5 108.9h0M190.3 120.0h0M175.0 108.1h0M175.3 116.2h0M179.8 114.4h0M195.0 100.5h0M174.0 113.5h0M172.4 112.6h0M182.6 101.9h0M191.2 102.8h0M172.1 100.9h0M181.4 121.9h0M173.9 127.8h0M192.9 116.6h0M187.8 123.5h0M185.0 100.3h0M182.8 122.2h0M181.5 126.7h0M184.0 123.9h0M178.7 103.5h0M177.1 119.6h0M175.5 110.1h0M183.2 119.6h0M177.7 105.9h0M189.0 111.1h0M187.0 114.8h0M186.7 110.2h0M191.4 119.9h0M181.4 117.6h0M172.9 114.3h0M176.8 110.7h0M190.8 108.6h0M181.0 111.1h0M180.3 117.0h0M179.1 112.1h0M182.6 113.3h0M181.5 110.7h0M172.5 110.4h0M179.0 105.7h0M189.9 96.1h0M192.9 115.6h0M182.2 115.5h0M179.6 103.3h0M192.3 126.3h0M181.9 101.7h0M175.1 119.0h0M182.2 113.0h0M187.8 113.5h0M193.7 120.1h0M179.8 118.4h0M186.7 111.2h0M180.8 102.6h0M190.8 101.3h0M184.8 112.5h0M184.9 123.6h0M176.4 118.0h0M180.9 110.8h0M180.9 113.7h0M188.9 124.7h0M183.0 105.0h0M181.6 116.8h0M180.6 113.3h0M183.2 105.0h0M184.7 102.9h0M174.2 121.2h0M183.9 113.7h0M183.8 109.4h0M183.3 111.8h0M172.9 118.9h0M182.1 111.8h0M174.3 123.8h0M185.4 109.0h0M192.0 104.8h0M189.0 110.1h0M180.7 103.5h0M179.4 108.3h0M179.2 120.8h0M185.4 124.7h0M178.5 116.1h0M179.4 112.6h0M177.3 103.0h0M177.7 114.0h0M179.4 112.4h0M191.3 106.4h0M173.8 107.5h0M174.0 123.5h0M187.1 118.9h0M176.4 111.5h0M181.9 112.9h0M184.2 121.2h0M183.2 113.9h0M177.8 112.9h0M189.3 98.5h0M193.2 97.6h0M176.2 95.8h0M181.2 93.0h0M189.4 110.9h0M181.6 113.7h0M176.2 104.1h0M180.1 114.6h0M188.7 114.6h0M176.3 110.4h0M184.8 99.3h0M185.6 122.6h0M178.6 122.0h0M186.9 106.4h0M187.6 126.5h0M189.8 111.4h0M189.4 104.8h0M172.9 107.8h0M189.1 96.2h0M187.0 108.2h0M189.7 98.3h0M177.3 120.1h0M189.2 113.6h0M185.6 99.9h0M175.2 115.6h0M191.7 97.3h0M177.7 112.3h0M176.1 114.9h0M185.7 111.6h0M178.9 102.0h0M185.5 110.2h0M181.4 109.6h0M185.0 111.5h0M188.6 122.9h0M182.8 124.6h0M189.0 123.7h0M188.8 106.0h0M177.4 105.1h0M188.9 111.2h0M187.3 114.5h0M184.0 94.6h0M190.7 106.1h0M194.3 125.4h0M188.2 101.1h0M173.1 105.1h0M186.1 105.4h0M182.2 114.9h0M181.2 110.5h0M185.4 108.4h0M180.9 98.9h0M194.2 115.9h0M185.0 111.0h0M183.2 105.7h0M188.4 111.2h0M188.5 117.3h0M191.1 99.2h0M187.4 98.6h0M182.9 102.8h0M184.0 104.0h0M173.1 106.2h0M190.2 119.9h0M180.9 108.4h0M195.4 119.1h0M195.3 88.0h0M174.6 110.1h0M185.2 122.1h0M202.7 123.6h0M177.8 107.0h0M185.8 104.4h0M181.5 114.1h0M181.5 101.3h0M181.2 108.1h0M183.0 97.6h0M188.3 111.7h0M177.7 111.0h0M186.5 124.0h0M178.3 113.9h0M186.7 105.7h0M185.3 110.3h0M177.8 100.7h0M184.1 111.3h0M178.1 109.3h0M177.4 114.4h0M191.0 118.5h0M186.9 113.6h0M187.9 116.9h0M179.1 101.4h0M190.5 126.2h0M189.3 105.2h0M174.3 130.7h0M186.7 117.3h0M186.3 118.8h0M178.1 113.2h0M187.0 119.1h0M188.2 102.7h0M178.2 104.5h0M185.8 115.3h0M178.1 105.3h0M171.4 117.0h0M180.5 115.8h0M180.8 116.6h0M193.3 113.1h0M186.2 114.7h0M176.8 110.8h0M180.3 111.1h0M176.9 119.5h0M187.4 103.0h0M183.0 101.4h0M177.8 104.9h0M174.2 119.3h0M180.2 108.4h0M191.0 126.4h0M174.9 86.3h0M186.0 105.3h0M185.4 107.4h0M190.6 121.7h0M182.8 109.5h0M198.3 102.8h0M195.0 117.7h0M181.4 123.4h0M182.1 90.5h0M176.3 115.6h0M173.8 113.4h0M188.5 104.3h0M181.4 107.2h0M180.4 113.3h0M182.0 111.2h0M187.8 109.0h0M189.6 101.6h0M183.1 113.3h0M181.8 105.7h0M183.8 111.7h0M197.3 106.3h0M175.2 117.0h0M186.4 112.9h0M184.1 116.3h0M191.5 99.9h0M192.1 114.7h0M196.7 113.3h0M177.7 106.0h0M187.3 109.7h0M181.5 88.6h0M189.8 111.6h0M184.4 107.7h0M189.2 92.8h0M178.1 115.0h0M184.3 105.9h0M179.6 113.2h0M181.4 109.1h0M180.0 114.8h0M176.1 111.7h0M190.8 108.7h0M185.2 114.9h0M190.6 117.6h0M176.3 92.8h0M178.7 106.2h0M182.1 102.1h0M188.6 121.4h0M190.4 118.7h0M191.5 102.7h0M193.7 102.0h0M188.2 117.5h0M183.9 105.9h0M177.9 108.3h0M187.9 95.2h0M179.7 109.9h0M177.7 120.1h0M187.2 107.3h0M184.7 110.0h0M189.0 124.9h0M178.3 118.0h0M191.2 122.4h0M185.6 116.0h0M182.0 120.6h0M178.0 97.6h0M175.8 104.4h0M173.8 97.7h0M192.8 128.7h0M173.4 112.4h0M187.5 109.9h0M181.5 104.9h0M179.2 102.8h0M179.9 88.5h0M182.5 128.9h0M189.4 110.3h0M187.0 111.4h0M183.2 99.7h0M173.8 110.5h0M170.9 114.0h0M196.0 110.3h0M176.3 115.9h0M172.4 104.2h0M190.9 113.5h0M172.9 118.1h0M188.3 115.4h0M189.6 114.0h0M184.9 110.1h0M189.8 103.0h0M173.6 115.4h0M174.8 107.8h0M181.8 103.4h0M183.1 117.1h0M182.6 98.1h0M186.4 106.5h0M178.1 117.1h0M186.0 107.9h0M181.6 111.4h0M188.8 115.3h0M197.5 110.4h0M183.7 104.8h0M187.2 114.4h0M177.0 112.2h0M189.4 111.8h0M185.5 119.9h0M184.9 113.4h0M189.4 107.3h0M175.4 112.2h0M187.0 126.5h0M186.3 105.2h0M194.1 108.8h0M182.5 113.8h0M198.2 100.8h0M180.3 114.5h0M180.1 117.0h0M195.4 104.7h0M200.4 104.1h0M183.9 99.0h0M178.2 111.3h0M179.1 102.0h0M180.4 105.9h0M177.3 107.6h0M177.6 105.4h0M184.3 117.6h0M183.4 123.7h0M186.4 93.9h0M204.4 121.1h0M199.9 126.2h0M180.5 119.9h0M232.0 122.4h0M185.4 126.0h0M184.8 131.6h0M178.0 130.6h0M230.3 123.6h0M228.6 125.6h0M211.1 123.2h0M204.3 124.1h0M207.6 119.3h0M194.3 116.5h0M227.1 123.2h0M206.1 129.7h0M224.9 128.6h0M214.8 116.0h0M213.8 124.0h0M213.3 122.0h0M219.9 126.4h0M222.2 119.7h0M214.0 129.4h0M191.2 124.0h0M187.6 127.7h0M183.3 129.2h0M224.9 115.7h0M201.6 123.9h0M171.0 132.2h0M208.7 125.1h0M225.4 130.0h0M228.9 127.0h0M230.1 122.6h0M225.7 126.3h0M182.1 130.0h0M203.5 131.2h0M215.6 131.9h0M211.5 119.7h0M193.6 129.0h0M173.3 118.4h0M227.3 124.4h0M220.0 124.0h0M225.6 128.0h0M195.3 126.5h0M186.6 131.0h0M224.2 122.0h0M212.2 129.0h0M213.0 126.9h0M173.2 125.0h0M177.8 119.2h0M219.5 127.7h0M226.7 126.5h0M193.3 128.8h0M225.9 124.8h0M182.3 123.8h0M207.5 126.8h0M193.0 127.2h0M204.6 128.3h0M195.1 122.0h0M207.5 110.8h0M183.9 129.6h0M209.1 121.1h0M232.5 120.7h0M186.2 130.1h0M177.9 120.2h0M188.1 119.6h0M206.8 128.8h0M199.1 129.1h0M212.5 121.6h0M197.0 123.5h0M206.0 132.5h0M232.4 120.1h0M226.8 120.4h0M207.0 125.4h0M189.9 120.1h0M178.2 127.2h0M210.8 114.7h0M206.5 125.8h0M200.9 122.3h0M216.4 120.4h0M200.3 126.0h0M220.1 123.9h0M189.2 122.8h0M191.6 128.9h0M228.5 126.4h0M207.5 126.8h0M231.2 131.3h0M174.9 124.6h0M229.3 129.0h0M174.6 123.0h0M218.1 127.9h0M207.5 127.5h0M178.6 122.4h0M190.1 117.7h0M201.2 118.9h0M206.2 120.5h0M201.7 127.6h0M172.7 124.3h0M233.7 123.6h0M193.2 127.3h0M216.5 128.5h0M229.5 131.7h0M232.4 122.1h0M182.6 127.6h0M227.2 128.4h0M203.3 120.4h0M212.3 125.6h0M186.5 120.6h0M180.1 123.9h0M207.5 127.0h0M227.9 116.9h0M197.4 120.8h0M231.0 121.1h0M215.5 125.4h0M172.2 121.5h0M229.8 126.8h0M178.1 120.9h0M185.0 122.5h0M206.5 127.9h0M230.2 126.5h0M179.5 125.7h0M189.7 124.8h0M173.9 129.8h0M176.5 131.6h0M198.1 123.2h0M207.3 121.5h0M203.2 120.0h0M174.0 133.3h0M198.0 120.7h0M199.0 118.7h0M229.9 126.3h0M191.6 130.0h0M210.9 119.1h0M201.7 124.4h0M220.0 118.1h0M209.1 121.7h0M233.5 132.8h0M211.1 125.8h0M192.5 123.7h0M197.5 125.3h0M224.9 126.3h0M194.2 124.5h0M229.4 119.3h0M198.8 119.4h0M180.5 121.3h0M220.4 130.7h0M199.0 121.6h0M185.3 131.2h0M208.2 128.3h0M174.8 124.0h0M224.4 120.5h0M204.0 123.9h0M192.3 120.9h0M180.1 121.3h0M181.1 123.3h0M185.5 120.4h0M200.0 123.4h0M172.3 132.5h0M183.9 116.7h0M198.0 119.0h0M226.6 120.4h0M225.5 122.8h0M229.9 129.8h0M185.2 128.4h0M178.8 127.3h0M224.5 126.0h0M186.5 119.6h0M198.3 119.5h0M229.3 124.9h0M222.5 126.0h0M230.0 123.9h0M202.1 121.0h0M183.1 118.8h0M205.0 123.7h0M178.1 121.6h0M178.4 122.7h0M176.7 119.8h0M186.9 131.4h0M181.3 127.1h0M187.2 133.8h0M214.8 122.5h0M213.4 125.3h0M172.6 123.8h0M225.1 125.1h0M222.7 123.8h0M230.5 124.2h0M184.7 115.6h0M217.0 123.7h0M206.1 128.3h0M215.5 115.7h0M227.9 123.3h0M176.1 127.7h0M224.0 131.0h0M225.1 124.6h0M211.6 127.2h0M196.3 133.4h0M205.1 131.2h0M179.8 122.8h0M217.9 122.1h0M205.7 129.9h0M207.2 126.1h0M215.7 122.4h0M177.4 123.9h0M174.0 126.5h0M178.5 124.0h0M176.0 123.8h0M221.5 123.9h0M179.3 117.9h0M194.7 133.3h0M212.4 130.8h0M187.2 132.2h0M228.4 124.4h0M228.6 125.6h0M195.6 127.7h0M208.0 128.9h0M220.5 116.3h0M232.8 126.7h0M214.6 120.2h0M199.3 124.7h0M173.7 121.8h0M211.4 133.1h0M212.5 127.6h0M214.7 124.9h0M192.9 131.6h0M225.3 124.7h0M208.3 121.5h0M195.0 124.1h0M186.3 123.3h0M172.9 125.2h0M215.9 129.0h0M190.9 124.4h0M224.8 124.7h0M191.3 129.8h0M190.3 126.4h0M220.4 129.5h0M194.9 125.6h0M233.1 118.8h0M206.6 119.7h0M230.1 117.1h0M178.7 130.4h0M173.9 127.0h0M171.8 122.7h0M226.2 120.3h0M201.0 126.7h0M217.2 124.4h0M204.1 126.5h0M231.9 121.0h0M222.0 119.7h0M201.2 132.5h0M182.4 120.5h0M195.2 124.9h0M195.6 131.4h0M193.7 116.3h0M216.0 128.3h0M223.7 125.3h0M223.3 124.3h0M183.4 126.3h0M181.6 119.4h0M213.2 114.4h0M217.2 134.0h0M220.4 123.6h0M227.9 129.2h0M192.2 130.3h0M175.3 126.4h0M194.3 127.2h0M191.4 128.4h0M177.9 132.5h0M213.8 127.3h0M203.2 131.0h0M210.3 123.6h0M225.8 123.0h0M207.3 125.4h0M226.9 126.9h0M222.3 127.6h0M210.0 129.0h0M200.6 125.3h0M217.1 126.6h0M208.9 126.7h0M194.3 127.3h0M212.1 123.4h0M204.7 119.8h0M178.0 125.6h0M217.9 123.5h0M202.3 120.9h0M229.5 125.6h0M227.6 124.1h0M178.2 122.2h0M187.8 116.6h0M214.9 124.2h0M183.6 133.4h0M222.9 129.2h0M213.4 130.1h0M230.9 124.9h0M193.1 130.0h0M214.4 121.8h0M208.9 122.8h0M213.9 127.5h0M230.7 118.2h0M193.2 125.3h0M185.6 126.4h0M221.7 133.0h0M180.5 121.7h0M205.7 127.0h0M229.3 121.9h0M224.4 122.4h0M214.6 112.2h0M171.9 120.6h0M232.7 130.5h0M199.5 127.5h0M189.3 125.8h0M180.1 127.6h0M173.9 119.1h0M206.3 124.1h0M195.0 124.7h0M189.5 132.6h0M222.6 120.7h0M176.0 127.0h0M197.6 129.7h0M221.6 121.2h0M223.3 125.4h0M215.7 115.5h0M204.0 125.5h0M181.0 114.6h0M195.9 123.2h0M216.9 133.2h0M220.2 127.0h0M209.5 125.3h0M227.6 125.7h0M224.4 127.7h0M228.0 130.0h0M181.6 123.0h0M180.2 123.0h0M233.2 120.1h0M189.6 124.2h0M199.3 121.7h0M197.7 129.7h0M224.4 128.1h0M171.8 124.5h0M201.9 122.4h0M200.1 111.3h0M177.2 122.2h0M199.1 126.5h0M226.1 128.2h0M174.2 110.4h0M186.8 113.6h0M209.3 125.8h0M205.2 120.1h0M218.9 124.0h0M192.6 122.8h0M178.8 127.8h0M194.3 116.2h0M223.3 122.3h0M198.4 129.5h0M196.0 126.0h0M220.3 121.1h0M207.9 127.2h0M179.6 126.4h0M195.0 120.8h0M228.3 128.3h0M172.8 128.2h0M219.0 124.4h0M190.4 129.5h0M218.2 119.5h0M181.4 128.7h0M212.3 124.1h0M225.2 120.6h0M175.2 122.2h0M231.3 130.6h0M177.7 122.4h0M171.8 123.4h0M222.8 121.9h0M203.3 121.3h0M173.2 129.6h0M203.0 131.4h0M233.7 127.4h0M232.5 128.6h0M226.4 123.4h0M204.0 122.7h0M222.6 119.5h0M217.4 131.9h0M188.2 123.4h0M218.1 121.6h0M189.6 122.0h0M197.5 125.9h0M176.0 122.4h0M179.6 125.1h0M202.6 125.8h0M223.8 131.4h0M221.0 119.1h0M180.9 126.4h0M205.2 121.7h0M190.3 123.0h0M183.9 132.7h0M194.1 128.0h0M213.8 123.2h0M229.3 127.4h0M177.1 124.9h0M189.5 130.3h0M218.1 122.7h0M202.4 127.4h0M195.4 124.1h0M221.5 125.1h0M172.1 124.3h0M230.6 122.1h0M188.1 125.5h0M224.4 129.7h0M223.6 122.2h0M223.8 123.2h0M210.0 126.8h0M211.9 121.5h0M174.0 129.2h0M197.9 128.4h0M210.4 114.2h0M188.2 121.9h0M213.9 119.9h0M205.8 129.0h0M213.0 129.5h0M224.9 119.4h0M192.1 121.8h0M210.4 124.7h0M174.1 123.3h0M221.2 128.5h0M222.4 129.7h0M214.4 127.8h0M214.6 130.2h0M206.3 129.5h0M191.5 124.7h0M221.2 123.0h0M179.3 121.6h0M207.6 128.9h0M177.8 129.3h0M218.0 129.9h0M202.6 123.5h0M210.9 123.2h0M181.7 126.3h0M197.2 131.0h0M212.6 126.7h0M198.8 126.1h0M216.6 121.1h0M176.3 127.2h0M193.6 127.6h0M177.8 120.6h0M217.5 133.4h0M195.9 120.7h0M218.1 129.5h0M218.6 124.1h0M173.4 125.8h0M210.1 121.3h0M221.7 122.4h0M228.7 128.4h0M176.6 124.1h0M176.8 123.4h0M199.0 129.3h0M218.3 128.4h0M178.0 125.8h0M233.8 126.2h0M215.9 133.2h0M171.9 124.3h0M217.9 126.9h0M198.1 127.1h0M182.1 118.4h0M212.8 115.9h0M216.1 125.7h0M210.1 129.2h0M186.9 126.0h0M182.5 122.5h0M174.8 122.0h0M181.6 128.9h0M193.7 123.7h0M192.3 117.5h0M175.4 128.3h0M224.2 126.2h0M182.8 126.9h0M176.1 130.0h0M184.2 131.3h0M198.8 127.7h0M210.3 124.2h0M176.1 115.1h0M180.5 126.5h0M172.7 124.4h0M196.1 131.3h0M234.0 131.1h0M220.2 127.3h0M224.7 131.5h0M228.6 124.7h0M184.9 124.9h0M211.8 121.1h0M197.3 123.6h0M193.9 126.1h0M218.8 130.1h0M206.4 121.6h0M210.2 128.9h0M230.2 118.7h0M212.3 123.8h0M210.7 125.2h0M218.9 129.8h0M182.1 130.9h0M187.6 124.9h0M232.3 121.0h0M213.5 124.8h0M227.0 124.9h0M191.9 126.2h0M233.2 120.8h0M198.2 132.3h0M221.7 121.6h0M228.4 128.3h0M203.6 126.1h0M197.3 119.9h0M202.4 125.4h0M179.1 125.2h0M175.5 124.2h0M230.6 128.9h0M212.1 122.8h0M208.2 130.4h0M186.7 120.7h0M223.9 113.3h0M193.6 131.0h0M172.1 126.2h0M212.9 125.4h0M233.6 120.4h0M217.4 118.2h0M231.6 116.2h0M189.4 132.6h0M219.9 122.4h0M200.1 133.9h0M182.2 116.3h0M192.6 128.4h0M189.0 128.4h0M215.3 121.0h0M219.7 122.9h0M217.3 120.1h0M213.1 125.2h0M218.1 131.3h0M229.2 129.8h0M187.6 127.0h0M188.5 130.3h0M232.9 116.6h0M212.9 124.8h0M221.0 118.8h0M211.5 123.2h0M190.4 121.9h0M206.6 125.5h0M186.4 126.5h0M177.2 113.9h0M192.4 131.0h0M221.9 133.2h0M179.8 120.1h0M173.9 132.0h0M185.8 131.0h0M220.4 129.8h0M226.6 132.8h0M188.2 118.4h0M231.5 128.5h0M201.1 120.2h0M213.1 120.4h0M199.0 119.2h0M224.0 130.4h0M227.5 128.0h0M200.7 125.2h0M190.0 125.7h0M230.0 127.9h0M215.1 133.3h0M193.9 121.6h0M181.3 122.3h0M195.9 122.3h0M199.0 124.7h0M222.3 125.1h0M215.2 118.9h0M203.1 126.5h0M228.2 119.0h0M207.9 123.5h0M225.4 123.8h0M175.1 123.8h0M176.0 132.1h0M225.2 132.8h0M217.3 130.2h0M187.3 132.6h0M178.6 123.6h0M175.5 131.8h0M191.2 124.8h0M226.8 126.1h0M183.1 126.3h0M186.7 118.6h0M223.4 122.1h0M182.7 124.2h0M186.1 126.8h0M218.0 124.4h0M225.0 120.9h0M230.4 119.5h0M173.8 125.1h0M191.8 119.3h0M209.5 119.4h0M191.9 124.5h0M217.7 125.9h0M185.2 121.0h0M209.1 116.5h0M181.2 126.4h0M180.5 128.9h0M221.3 123.0h0M210.5 123.2h0M206.8 113.9h0M194.7 129.3h0M213.4 119.7h0M231.0 128.5h0M194.6 122.2h0M174.0 124.3h0M187.2 124.1h0M220.2 116.4h0M218.5 117.5h0M183.8 125.5h0M208.6 121.1h0M194.0 123.9h0M204.6 131.6h0M194.6 116.1h0M208.4 124.3h0M217.6 127.4h0M215.2 125.6h0M198.1 126.9h0M173.3 121.4h0M223.1 117.1h0M177.7 118.7h0M194.9 123.0h0M220.7 128.6h0M232.7 125.4h0M216.8 132.7h0M178.2 125.5h0M231.8 125.9h0M174.0 126.0h0M173.3 116.7h0M217.3 127.8h0M228.9 119.7h0M211.3 123.2h0M211.8 119.1h0M176.3 125.6h0M210.0 126.4h0M219.3 125.6h0M202.1 125.0h0M215.8 122.3h0M177.5 115.4h0M225.3 120.1h0M184.0 132.1h0M183.9 127.6h0M179.2 121.3h0M192.8 120.7h0M196.3 123.8h0M181.3 127.4h0M199.4 120.1h0M171.8 126.1h0M202.0 122.0h0M177.7 132.2h0M179.4 126.4h0M178.6 131.1h0M224.3 125.8h0M233.0 127.0h0M221.8 126.3h0M202.9 120.1h0M195.8 123.0h0M207.8 126.9h0M210.7 122.6h0M192.1 124.9h0M227.9 121.3h0M230.9 129.7h0M231.1 122.5h0M210.4 127.0h0M209.7 124.6h0M233.8 121.5h0M197.1 131.7h0M219.9 125.4h0M176.0 130.2h0M186.0 123.4h0M202.7 118.2h0M217.4 119.0h0M182.3 122.5h0M222.6 124.1h0M207.2 125.3h0M179.6 127.5h0M173.4 119.0h0M196.1 126.1h0M222.8 119.2h0M232.5 121.7h0M185.2 131.1h0M227.5 123.3h0M180.8 133.6h0M196.0 131.8h0M213.1 129.3h0M192.3 132.0h0M191.7 123.8h0M198.3 124.4h0M228.0 120.9h0M200.5 127.8h0M176.5 119.0h0M193.4 122.6h0M207.9 127.2h0M205.1 122.6h0M231.2 126.7h0M203.0 133.8h0M220.8 120.3h0M218.3 131.7h0M200.4 121.7h0M197.4 120.5h0M200.0 126.1h0M178.5 129.9h0M176.4 121.6h0M178.2 121.5h0M179.2 122.9h0M176.2 121.5h0M196.0 125.9h0M180.4 121.6h0M232.6 123.8h0M196.6 126.7h0M171.3 123.0h0M212.6 130.5h0M216.1 121.8h0M230.7 121.3h0M191.0 132.2h0M218.1 125.3h0M210.4 129.0h0M210.4 126.6h0M229.9 122.6h0M233.8 128.2h0M171.5 126.5h0M195.4 131.2h0M230.4 116.2h0M172.1 128.9h0M192.3 125.8h0M219.2 121.7h0M175.7 122.9h0M208.0 123.1h0M229.0 118.7h0M204.7 122.2h0M171.3 128.8h0M178.1 117.7h0M196.8 123.2h0M171.8 113.6h0M212.6 122.2h0M188.0 126.9h0M192.6 124.8h0M220.4 125.2h0M217.3 119.6h0M221.4 127.7h0M183.0 120.7h0M192.6 129.4h0M211.1 126.0h0M202.6 123.2h0M221.8 132.1h0M197.0 123.1h0M228.4 129.9h0M184.9 125.5h0M212.2 125.0h0M221.4 129.8h0M233.3 127.1h0M194.8 125.0h0M226.7 124.4h0M208.9 126.0h0M211.4 125.4h0M187.2 123.4h0M226.4 120.0h0M175.2 112.6h0M233.4 124.5h0M206.7 123.8h0M207.7 130.8h0M182.0 127.2h0M213.6 130.5h0M180.8 133.3h0M223.6 124.5h0M218.1 121.0h0M181.6 128.9h0M220.7 122.1h0M210.9 123.8h0M189.7 131.9h0M212.8 127.7h0M214.8 130.3h0M202.5 118.5h0M214.7 125.2h0M220.8 130.4h0M227.2 118.9h0M223.3 126.0h0M177.8 126.9h0M225.3 113.9h0M230.8 132.7h0M201.4 121.6h0M228.1 124.3h0M185.1 133.1h0M173.5 116.4h0M199.1 127.2h0M178.5 122.9h0M179.2 125.2h0M199.0 121.1h0M232.4 131.6h0M203.8 119.6h0M233.2 126.8h0M203.1 127.6h0M200.2 124.6h0M172.3 123.7h0M176.3 123.7h0M226.1 129.9h0M214.3 127.2h0M206.5 124.6h0M227.1 119.8h0M212.0 125.8h0M188.8 127.6h0M225.6 124.9h0M216.9 131.9h0M176.1 115.8h0M194.0 124.1h0M224.3 119.5h0M223.0 116.6h0M228.2 129.2h0M178.2 127.8h0M217.3 124.0h0M190.7 124.8h0M225.0 125.8h0M178.2 123.0h0M226.2 130.6h0M232.3 128.0h0M203.6 124.4h0M205.6 117.2h0M209.5 131.6h0M227.5 122.7h0M176.5 120.1h0M224.7 131.2h0M193.0 127.4h0M196.6 115.4h0M226.0 117.0h0M178.7 123.1h0M180.0 119.0h0M213.9 124.3h0M214.7 124.8h0M193.5 128.9h0M172.7 129.3h0M187.5 124.5h0M181.1 117.9h0M199.4 130.2h0M199.6 124.2h0M195.2 127.2h0M228.3 128.4h0M195.3 121.2h0M183.1 133.1h0M230.7 125.4h0M211.3 126.1h0M231.0 123.0h0M199.4 128.5h0M209.1 129.9h0M191.7 122.4h0M231.7 127.9h0M188.4 123.0h0M229.7 119.1h0M192.5 123.5h0M219.4 128.0h0M211.8 127.7h0M220.0 130.2h0M183.9 121.8h0M233.9 123.6h0M202.3 125.4h0M175.7 128.0h0M214.0 124.5h0M175.9 120.5h0M211.8 117.6h0M216.2 130.7h0M183.8 130.2h0M178.3 121.9h0M179.5 132.2h0M212.4 124.8h0M218.1 127.2h0M228.9 131.1h0M191.5 122.7h0M177.2 121.3h0M210.7 116.7h0M223.7 126.5h0M216.7 127.2h0M201.9 129.2h0M187.9 128.0h0M216.9 125.6h0M225.0 130.6h0M184.8 120.1h0M215.8 126.9h0M219.6 127.5h0M233.8 124.5h0M194.6 133.4h0M195.8 127.2h0M173.8 131.6h0M181.1 129.4h0M217.9 124.2h0M228.4 130.4h0M191.1 125.2h0M221.2 124.5h0M193.7 120.1h0M218.6 124.4h0M198.6 123.9h0M184.3 126.1h0M183.9 123.0h0M189.0 127.8h0M178.5 124.7h0M225.6 117.5h0M229.1 122.6h0M221.2 120.7h0M171.3 118.9h0M226.6 123.9h0M221.1 129.5h0M224.1 119.7h0M210.8 115.4h0M184.1 124.3h0M195.5 122.2h0M182.6 126.4h0M172.8 123.1h0M231.1 129.2h0M195.5 132.0h0M209.3 124.3h0M177.8 130.8h0M225.0 119.9h0M218.3 126.1h0M173.5 119.0h0M183.7 126.0h0M217.9 122.1h0M174.6 126.2h0M172.5 119.7h0M178.5 126.2h0M180.0 125.6h0M219.7 122.3h0M220.3 121.2h0M207.0 119.4h0M190.2 123.2h0M220.4 127.0h0M211.0 124.5h0M174.9 125.9h0M182.9 131.2h0M214.8 123.6h0M206.7 126.5h0M195.8 129.1h0M204.4 127.6h0M186.3 127.0h0M207.9 125.5h0M233.2 124.8h0M222.9 123.3h0M202.3 128.0h0M232.6 133.0h0M213.7 131.9h0M207.4 125.3h0M211.7 129.1h0M215.2 127.5h0M233.4 125.5h0M220.4 128.3h0M186.0 128.1h0M174.7 125.8h0M229.0 133.4h0M217.5 123.3h0M207.7 131.8h0M173.7 126.4h0M180.8 124.2h0M191.0 117.4h0M233.8 124.8h0M208.8 117.6h0M192.6 117.7h0M180.9 129.2h0M172.0 128.1h0M179.9 116.3h0M182.0 124.8h0M203.2 126.8h0M194.1 117.8h0M232.6 129.8h0M229.0 118.7h0M206.0 130.6h0M181.5 126.1h0M191.0 121.8h0M172.7 117.4h0M212.7 123.5h0M195.3 124.7h0M229.4 124.5h0M190.9 122.3h0M224.6 124.1h0M195.8 129.3h0M212.2 120.7h0M193.4 124.1h0M222.0 127.3h0M185.1 125.0h0M181.1 129.3h0M174.3 132.6h0M195.0 123.4h0M217.2 126.2h0M200.1 111.0h0M224.1 123.4h0M207.9 128.3h0M204.6 119.7h0M202.4 131.5h0M173.5 116.0h0M208.2 131.6h0M183.0 122.6h0M176.2 120.2h0M177.4 122.8h0M181.4 123.8h0M210.1 120.2h0M189.0 118.4h0M189.6 122.6h0M197.0 129.7h0M231.3 127.0h0M187.2 131.6h0M190.0 122.2h0M186.8 123.4h0M190.8 123.5h0M189.8 125.8h0M223.3 127.3h0M232.7 133.5h0M195.8 128.5h0M225.7 125.9h0M177.7 131.6h0M201.4 121.3h0M222.8 118.8h0M176.7 128.3h0M233.9 125.9h0M196.2 125.7h0M202.5 129.6h0M230.6 123.5h0M228.9 124.5h0M184.2 126.9h0M199.7 128.2h0M217.3 129.8h0M200.0 125.6h0M230.2 126.3h0M183.6 113.4h0M232.5 131.0h0M210.2 117.5h0M209.7 124.9h0M187.7 123.5h0M199.0 117.4h0M184.8 132.8h0M221.8 122.4h0M191.9 124.3h0M180.0 124.3h0M227.0 128.6h0M192.7 128.8h0M230.9 124.5h0M199.1 130.4h0M212.0 120.7h0M220.5 128.3h0M203.5 122.1h0M230.5 128.4h0M222.0 121.8h0M227.2 122.9h0M204.5 132.1h0M179.2 119.6h0M181.9 119.4h0M180.2 127.8h0M204.7 123.7h0M230.9 123.0h0M205.8 124.4h0M178.1 120.1h0M194.6 123.7h0M182.6 125.8h0M199.8 120.5h0M199.9 124.9h0M229.9 127.4h0M195.9 120.7h0M226.7 130.4h0M173.6 119.5h0M192.8 124.3h0M216.5 126.6h0M176.0 116.6h0M193.5 126.4h0M231.2 122.2h0M185.9 130.3h0M176.6 126.1h0M218.7 118.2h0M209.8 126.9h0M193.0 120.7h0M195.6 125.4h0M191.7 117.8h0M212.8 128.5h0M225.5 113.4h0M189.9 124.2h0M228.3 131.2h0M197.4 127.5h0M202.0 123.3h0M187.2 123.9h0M176.5 123.0h0M186.8 124.8h0M198.6 124.9h0M202.1 121.5h0M224.2 122.7h0M193.7 127.9h0M219.2 122.1h0M187.0 121.1h0M201.1 122.4h0M175.8 123.3h0M227.2 125.8h0M193.2 122.7h0M211.4 124.1h0M206.4 121.4h0M201.8 130.9h0M186.1 125.4h0M222.9 123.5h0M200.8 126.4h0M179.3 124.8h0M177.3 117.5h0M202.7 124.1h0M206.6 132.9h0M188.4 127.4h0M185.8 130.7h0M223.3 121.8h0M214.1 117.9h0M180.0 121.7h0M221.9 131.5h0M174.6 120.2h0M224.1 121.2h0M223.7 130.3h0M178.8 123.8h0M233.4 124.0h0M227.7 126.8h0M182.3 125.4h0M212.2 123.5h0M200.3 126.2h0M180.1 121.6h0M184.0 124.8h0M184.0 128.1h0M213.3 119.9h0M207.0 124.0h0M232.2 119.5h0M190.3 128.6h0M201.3 128.0h0M194.4 129.5h0M195.1 130.0h0M207.8 129.9h0M220.5 128.4h0M214.1 121.3h0M178.3 129.5h0M188.4 120.6h0M219.0 126.4h0M225.7 127.8h0M193.7 119.1h0M199.9 130.1h0M174.0 130.6h0M236.9 117.5h0M243.1 122.3h0M236.5 122.7h0M243.9 121.9h0M238.2 131.6h0M236.2 119.9h0M243.1 130.0h0M249.5 123.7h0M234.2 131.6h0M239.3 113.2h0M236.5 122.9h0M240.0 130.8h0M252.1 121.3h0M236.5 130.7h0M236.4 122.5h0M237.7 130.5h0M239.1 127.8h0M240.2 123.0h0M242.2 121.3h0M234.8 124.2h0M235.3 130.6h0M236.3 125.0h0M235.3 121.8h0M245.1 117.4h0M237.1 123.9h0M240.4 127.6h0M239.4 120.0h0M241.4 124.9h0M235.9 123.0h0M236.4 117.9h0M237.8 127.2h0M237.0 119.5h0M234.6 121.4h0M241.2 130.9h0M238.2 119.6h0M235.2 127.9h0M237.1 130.7h0M236.4 129.8h0M236.7 127.2h0M244.1 123.9h0M237.1 118.2h0M235.9 125.7h0M236.0 127.1h0M239.9 122.5h0M244.6 120.2h0M237.6 129.1h0M239.6 119.9h0M240.4 127.1h0M241.9 122.7h0M236.7 116.9h0M239.0 132.7h0M234.5 127.9h0M237.8 127.6h0M240.3 118.2h0M245.6 124.3h0M236.7 126.3h0M240.6 121.4h0M244.0 132.9h0M234.6 115.2h0M237.8 128.3h0M246.5 115.8h0M236.3 117.4h0M234.8 118.7h0M237.2 127.6h0M235.6 121.5h0M243.3 121.7h0M240.1 120.5h0M241.5 117.8h0M234.6 120.5h0M236.2 120.1h0M236.2 123.3h0M236.3 123.0h0M245.4 113.3h0M236.9 121.7h0M240.1 130.6h0M234.2 122.5h0M237.3 124.4h0M234.5 121.3h0M235.9 121.4h0M236.6 124.4h0M247.1 118.2h0M239.8 123.9h0M236.9 116.7h0M239.2 126.3h0M234.8 117.1h0M235.4 127.8h0M241.0 129.5h0M238.0 116.8h0M239.3 127.9h0M244.6 122.6h0M238.4 130.2h0M237.6 122.0h0M238.0 123.2h0M241.4 123.2h0M236.0 130.6h0M237.4 115.3h0M240.6 128.2h0M242.0 125.0h0M234.6 122.2h0M246.3 123.4h0M247.7 129.0h0M239.6 128.5h0M244.7 132.7h0M237.9 121.4h0M241.3 115.4h0M235.9 121.9h0M234.7 123.6h0M235.4 122.4h0M235.6 130.4h0M236.7 126.3h0M237.0 115.9h0M239.3 129.5h0M237.4 121.4h0M239.9 124.7h0M236.7 128.5h0M244.5 126.3h0M235.5 124.2h0M243.9 125.9h0M242.2 128.1h0M238.7 127.5h0M237.7 110.1h0M234.9 120.7h0M248.7 121.7h0M234.8 128.4h0M236.3 125.6h0M237.8 128.6h0M245.9 117.6h0M240.3 123.4h0M237.2 127.6h0M245.3 124.2h0M236.8 122.6h0M237.0 125.8h0M237.0 132.4h0M240.7 114.4h0M239.0 132.1h0M235.8 125.8h0M240.4 120.4h0M235.4 127.6h0M236.1 124.7h0M241.2 130.3h0M238.5 120.6h0M242.7 129.1h0M241.2 120.1h0M235.0 126.0h0M242.3 127.8h0M234.2 124.1h0M242.8 127.6h0M256.9 121.6h0M242.7 129.6h0M242.5 122.1h0M244.1 121.1h0M238.8 123.9h0M235.7 124.2h0M236.5 120.5h0M239.8 128.3h0M237.4 123.9h0M230.5 128.1h0M211.6 129.0h0M213.2 124.2h0M222.6 118.3h0M216.1 124.0h0M223.8 125.0h0M230.1 129.2h0M235.1 124.2h0M238.3 122.3h0M232.1 128.6h0M218.7 127.8h0M230.0 129.1h0M220.3 126.6h0M229.9 130.2h0M215.6 128.3h0M237.2 120.0h0M228.8 127.1h0M222.5 129.2h0M212.8 126.6h0M227.6 131.7h0M220.3 124.8h0M227.3 128.9h0M218.6 122.0h0M220.2 126.4h0M230.7 124.5h0M238.4 122.8h0M213.7 121.7h0M223.3 127.2h0M228.6 128.0h0M223.7 124.2h0M221.1 122.0h0M244.6 123.3h0M217.5 129.2h0M228.3 122.1h0M220.7 130.5h0M224.2 120.4h0M204.5 127.4h0M233.1 128.8h0M223.2 130.8h0M216.4 124.9h0M240.0 123.7h0M222.6 121.3h0M219.6 129.7h0M217.5 126.0h0M234.7 124.8h0M225.3 124.9h0M222.3 127.4h0M213.2 126.6h0M217.0 130.7h0M228.2 118.7h0M224.9 129.5h0M207.0 124.5h0M217.2 126.2h0M227.1 125.3h0M249.2 126.1h0M218.3 129.2h0M205.1 127.3h0M232.0 121.3h0M220.8 126.2h0M213.2 126.1h0M230.2 127.8h0M223.0 126.6h0M216.4 126.2h0M213.3 130.2h0M224.0 122.5h0M209.1 124.4h0M234.0 122.7h0M213.7 129.3h0M237.7 130.3h0M228.1 131.0h0M223.4 131.7h0M228.1 128.2h0M219.8 126.7h0M224.5 127.8h0M239.9 126.5h0M219.9 124.5h0M232.4 132.3h0M217.0 133.0h0M224.9 126.5h0M233.8 125.7h0M214.3 124.7h0M228.1 120.4h0M205.7 124.1h0M214.8 124.6h0M221.3 126.4h0M233.0 122.9h0M231.5 119.6h0M216.9 128.8h0M223.9 132.7h0M226.8 118.8h0M211.0 126.0h0M228.9 129.6h0M237.3 122.3h0M236.3 121.3h0M219.8 126.6h0M221.4 125.7h0M216.7 124.2h0M220.6 132.4h0M222.8 131.9h0M231.2 128.9h0M225.8 126.3h0M216.7 125.3h0M232.5 129.7h0M233.0 125.7h0M219.6 131.9h0M222.9 131.0h0M224.2 124.4h0M210.3 129.3h0M226.3 132.2h0M231.2 128.9h0M242.6 123.2h0M226.8 125.6h0M222.5 125.4h0M223.8 127.0h0M230.6 126.7h0M232.3 125.3h0M217.4 129.7h0M226.8 131.5h0M231.0 124.6h0M207.0 121.3h0M237.5 128.0h0M223.2 126.7h0M233.0 128.2h0M224.7 124.2h0M222.9 127.7h0M224.5 123.4h0M227.7 130.6h0M233.0 132.7h0M222.8 123.3h0M215.1 117.3h0M218.9 124.9h0M216.4 124.8h0M232.0 127.4h0M216.5 126.8h0M238.8 128.5h0M224.4 124.7h0M236.9 125.4h0M221.9 128.3h0M222.5 120.1h0M232.2 129.6h0M231.8 124.5h0M216.2 121.6h0M247.3 123.7h0M230.3 128.6h0M213.9 129.8h0M223.6 131.3h0M233.5 128.3h0M227.2 124.2h0M232.9 128.8h0M246.5 126.5h0M243.3 119.4h0M231.4 132.6h0M219.3 129.6h0M238.9 128.3h0M219.0 126.5h0M233.9 124.8h0M231.2 123.3h0M217.7 121.2h0M223.7 130.2h0M229.0 129.2h0M237.4 128.1h0M226.1 119.9h0M242.5 125.8h0M233.3 127.3h0M219.7 131.0h0M219.9 123.2h0M226.2 127.8h0M220.8 126.0h0M224.7 127.0h0M232.5 124.0h0M227.9 128.2h0M234.3 127.2h0M219.4 120.1h0M217.8 131.2h0M209.6 123.7h0M221.6 131.0h0M226.2 123.4h0M223.8 125.0h0M225.7 133.2h0M244.0 127.6h0M215.8 132.4h0M223.2 128.0h0M221.3 130.5h0M217.5 126.3h0M237.9 132.1h0M225.4 133.4h0M237.0 129.4h0M215.6 124.9h0M242.6 125.6h0M246.1 123.5h0M217.9 129.1h0M225.6 128.8h0M224.6 124.4h0M230.8 130.3h0M214.0 124.9h0M225.4 117.4h0M215.5 96.9h0M223.2 105.9h0M200.2 86.1h0M197.3 114.2h0M189.0 93.2h0M213.8 118.7h0M196.1 108.1h0M220.8 99.0h0M208.8 102.6h0M215.0 112.8h0M194.5 103.9h0M201.4 117.3h0M209.2 115.7h0M214.7 109.4h0M194.5 106.5h0M210.8 97.6h0M199.1 94.9h0M215.5 112.5h0M205.1 106.4h0M204.4 91.4h0M211.8 104.3h0M218.9 99.4h0M205.0 97.3h0M219.6 120.9h0M197.4 90.8h0M210.2 98.0h0M196.2 105.8h0M209.5 105.2h0M198.3 102.4h0M207.7 89.2h0M213.6 105.5h0M197.8 96.8h0M189.9 89.7h0M205.6 97.5h0M212.6 102.5h0M209.7 113.1h0M198.3 119.9h0M215.7 107.6h0M204.5 117.9h0M215.0 107.4h0M198.6 85.8h0M211.7 105.8h0M219.1 120.7h0M200.7 115.8h0M204.4 93.9h0M213.5 128.5h0M212.5 98.0h0M210.9 97.5h0M206.1 98.1h0M191.7 113.4h0M207.3 107.9h0M194.4 108.8h0M208.1 81.5h0M184.0 95.6h0M221.6 107.4h0M226.2 117.1h0M211.7 100.5h0M198.8 113.2h0M204.2 95.8h0M216.1 92.6h0M213.8 89.3h0M200.3 114.4h0M219.2 115.5h0M214.4 98.3h0M212.6 116.8h0M203.7 101.0h0M207.2 102.6h0M200.2 86.7h0M209.1 98.9h0M200.7 102.8h0M218.9 109.8h0M207.6 98.3h0M209.3 114.6h0M210.5 119.6h0M210.4 96.7h0M193.1 103.3h0M219.9 92.6h0M208.2 108.4h0M201.8 92.3h0M197.6 99.1h0M200.4 103.4h0M201.1 99.4h0M207.3 114.5h0M198.7 93.2h0M208.3 99.5h0M208.6 107.7h0M200.3 101.3h0M229.1 113.7h0M206.0 101.4h0M210.5 96.8h0M208.2 111.0h0M205.6 104.2h0M213.8 115.2h0M220.8 121.9h0M206.4 100.1h0M198.6 93.6h0M212.5 101.1h0M185.7 90.3h0M208.6 84.3h0M205.2 119.9h0M210.3 109.1h0M192.1 122.6h0M202.7 96.8h0M196.8 106.5h0M201.7 104.9h0M212.8 105.1h0M205.0 113.2h0M201.0 102.0h0M218.6 107.0h0M207.0 105.6h0M186.8 74.7h0M196.5 93.2h0M210.9 97.8h0M211.1 122.0h0M209.0 110.5h0M209.4 112.6h0M197.9 107.3h0M205.8 101.6h0M195.0 116.7h0M198.4 99.0h0M197.7 86.6h0M198.3 107.4h0M203.2 114.6h0M204.3 104.1h0M198.7 104.9h0M217.2 117.0h0M202.0 117.8h0M221.7 114.7h0M216.4 124.0h0M194.5 102.8h0M215.2 127.8h0M192.6 85.3h0M220.7 118.0h0M209.6 107.7h0M196.5 101.7h0M184.7 83.7h0M202.3 113.3h0M192.9 97.4h0M217.0 97.2h0M193.9 93.3h0M203.9 100.6h0M211.0 106.3h0M206.3 94.6h0M208.7 95.2h0M203.7 107.1h0M213.2 105.3h0M196.9 120.5h0M211.7 101.3h0M194.2 107.3h0M207.8 121.8h0M194.8 97.9h0M204.0 113.0h0M211.8 108.6h0M218.2 108.2h0M188.3 114.0h0M198.4 91.1h0M196.4 94.4h0M217.9 89.7h0M197.4 99.6h0M212.9 115.9h0M200.9 99.4h0M191.7 107.2h0M207.0 96.3h0M194.7 111.4h0M213.1 104.9h0M214.1 101.5h0M219.1 124.5h0M195.9 100.2h0M221.4 114.5h0M215.4 108.0h0M188.2 104.9h0M227.8 112.0h0M222.5 97.0h0M195.7 103.1h0M209.1 109.5h0M192.7 103.1h0M204.6 100.9h0M207.7 122.5h0M212.0 98.3h0M197.8 102.1h0M205.6 105.6h0M196.7 89.6h0M209.7 92.8h0M212.4 112.4h0M206.6 110.6h0M217.2 108.7h0M213.3 89.9h0M209.6 101.9h0M217.4 109.8h0M193.6 105.8h0M205.5 115.4h0M188.4 102.4h0M205.7 113.2h0M201.2 118.8h0M214.0 82.8h0M201.5 112.1h0M199.6 97.1h0M204.9 108.1h0M204.6 105.3h0M211.0 95.0h0M197.2 91.6h0M191.1 103.1h0M190.2 96.6h0M217.3 114.7h0M193.4 95.6h0M201.3 123.7h0M195.0 97.4h0M214.6 127.3h0M200.3 94.1h0M218.0 113.2h0M198.9 112.6h0M208.8 91.3h0M213.4 96.3h0M215.5 110.8h0M194.1 111.2h0M202.3 116.1h0M205.1 108.9h0M187.8 108.1h0M212.9 94.2h0M209.8 100.6h0M211.0 119.7h0M192.1 93.4h0M207.7 101.7h0M210.2 87.5h0M216.1 105.0h0M200.8 85.8h0M212.6 109.4h0M225.4 124.7h0M201.6 105.3h0M201.9 103.9h0M202.7 98.4h0M191.2 104.2h0M202.3 91.2h0M222.0 104.2h0M196.8 122.2h0M204.0 89.8h0M217.8 101.7h0M211.5 91.3h0M208.2 116.6h0M202.6 100.0h0M204.8 90.3h0M206.1 90.9h0M212.8 116.9h0M206.7 110.5h0M215.3 114.6h0M187.5 96.7h0M214.1 115.2h0M200.7 114.9h0M206.1 110.2h0M201.8 85.9h0M212.3 85.7h0M204.8 88.3h0M212.2 108.1h0M198.0 85.7h0M207.9 93.1h0M218.1 107.7h0M217.0 98.2h0M202.5 89.3h0M207.4 113.5h0M202.4 107.1h0M204.8 110.8h0M206.2 112.6h0M218.0 121.7h0M211.8 104.8h0M220.4 106.1h0M221.2 90.6h0M193.5 96.6h0M209.1 98.2h0M201.6 112.3h0M190.1 104.7h0M195.4 114.5h0M201.1 112.5h0M222.5 120.5h0M206.9 108.8h0M204.2 103.9h0M205.7 99.2h0M198.6 100.5h0M207.7 94.1h0M205.1 106.7h0M190.0 97.0h0M200.8 80.9h0M239.1 86.8h0M212.3 97.8h0M205.1 98.0h0M212.6 102.2h0M196.5 112.9h0M206.9 97.0h0M214.7 93.1h0M190.3 101.7h0M198.8 110.7h0M202.1 118.3h0M203.3 91.9h0M201.0 98.8h0M208.7 99.6h0M216.1 121.5h0M209.4 111.1h0M216.1 106.5h0M216.3 113.7h0M200.2 97.5h0M208.7 101.8h0M202.4 101.4h0M212.5 100.1h0M202.6 99.3h0M204.3 105.9h0M222.7 110.9h0M204.3 117.3h0M190.8 106.6h0M207.3 102.6h0M209.0 81.9h0M201.1 86.4h0M206.8 98.1h0M216.1 102.4h0M201.0 88.1h0M204.3 98.5h0M199.2 101.7h0M209.3 97.6h0M204.9 101.0h0M197.1 98.9h0M204.6 95.3h0M224.0 100.1h0M189.4 96.0h0M192.6 101.0h0M209.4 93.5h0M192.6 77.9h0M225.2 99.5h0M191.5 103.1h0M193.4 82.4h0M201.1 110.4h0M216.7 100.4h0M214.0 106.6h0M211.7 96.9h0M209.0 109.5h0M218.8 107.4h0M188.4 100.6h0M208.8 84.2h0M220.1 114.6h0M195.7 82.5h0M209.3 100.4h0M218.1 111.8h0M218.4 104.8h0M204.8 107.3h0M224.3 110.4h0M211.1 105.2h0M216.6 98.1h0M195.7 109.3h0M198.8 111.5h0M198.7 94.9h0M223.4 99.5h0M183.4 97.2h0M188.2 89.2h0M213.9 106.6h0M207.6 111.3h0M177.3 99.8h0M202.3 116.2h0M203.2 106.3h0M217.9 96.2h0M187.5 88.0h0M201.0 106.3h0M216.5 125.1h0" fill="none" stroke="#000" stroke-width="0.8" stroke-linecap="square" stroke-opacity="0.72"/>
<path d="M199.5 42V135.2M169.9 105.5H270.6" stroke="#333" stroke-width="1" fill="none"/>
<path d="M181.1 135.2v1.8M185.4 135.2v1.8M188.4 135.2v1.8M190.7 135.2v1.8M192.6 135.2v1.8M194.3 135.2v1.8M195.7 135.2v1.8M196.9 135.2v1.8M205.3 135.2v1.8M209.5 135.2v1.8M212.5 135.2v1.8M214.9 135.2v1.8M216.8 135.2v1.8M218.4 135.2v1.8M219.8 135.2v1.8M221.1 135.2v1.8M229.4 135.2v1.8M233.7 135.2v1.8M236.7 135.2v1.8M239.1 135.2v1.8M241.0 135.2v1.8M242.6 135.2v1.8M244.0 135.2v1.8M245.2 135.2v1.8M253.6 135.2v1.8M257.9 135.2v1.8M260.9 135.2v1.8M263.2 135.2v1.8M265.1 135.2v1.8M266.8 135.2v1.8M268.2 135.2v1.8M269.4 135.2v1.8M198.0 135.2v2.4M222.0 135.2v2.4M246.5 135.2v2.4M270.5 135.2v2.4M169.9 129.6h-2M169.9 125.5h-2M169.9 122.7h-2M169.9 120.4h-2M169.9 118.6h-2M169.9 117.1h-2M169.9 115.7h-2M169.9 114.6h-2M169.9 106.6h-2M169.9 102.5h-2M169.9 99.7h-2M169.9 97.4h-2M169.9 95.6h-2M169.9 94.1h-2M169.9 92.7h-2M169.9 91.6h-2M169.9 83.6h-2M169.9 79.5h-2M169.9 76.7h-2M169.9 74.4h-2M169.9 72.6h-2M169.9 71.1h-2M169.9 69.7h-2M169.9 68.6h-2M169.9 60.6h-2M169.9 56.5h-2M169.9 53.7h-2M169.9 51.4h-2M169.9 49.6h-2M169.9 48.1h-2M169.9 46.7h-2M169.9 45.6h-2M169.9 113.5h-2.5M169.9 90.5h-2.5M169.9 67.5h-2.5M169.9 44.5h-2.5" stroke="#333" stroke-width="0.6" fill="none"/>
<text x="173.6" y="56" font-size="11.6" font-weight="bold" text-anchor="start" stroke="#000" stroke-width="0.3" letter-spacing="0.3">45.7</text>
<text x="262.2" y="62.3" font-size="11.6" font-weight="bold" text-anchor="end" stroke="#000" stroke-width="0.3" letter-spacing="0.3">1.9</text>
<text x="266.8" y="119" font-size="11.6" font-weight="bold" text-anchor="end" stroke="#000" stroke-width="0.3" letter-spacing="0.3">22.5</text>
<text x="217" y="35.5" font-size="14" font-weight="bold" text-anchor="middle" stroke="#000" stroke-width="0.3" >Control</text>
<text x="156.9" y="116.39999999999999" font-size="7.6" font-weight="bold" text-anchor="start" fill="#000" stroke="#000" stroke-width="0.2">10<tspan dy="-3.1" dx="0.2" font-size="5.6">0</tspan></text>
<text x="156.9" y="93.6" font-size="7.6" font-weight="bold" text-anchor="start" fill="#000" stroke="#000" stroke-width="0.2">10<tspan dy="-3.1" dx="0.2" font-size="5.6">1</tspan></text>
<text x="156.9" y="70.8" font-size="7.6" font-weight="bold" text-anchor="start" fill="#000" stroke="#000" stroke-width="0.2">10<tspan dy="-3.1" dx="0.2" font-size="5.6">2</tspan></text>
<text x="156.9" y="47.8" font-size="7.6" font-weight="bold" text-anchor="start" fill="#000" stroke="#000" stroke-width="0.2">10<tspan dy="-3.1" dx="0.2" font-size="5.6">3</tspan></text>
<text x="190.9" y="146.9" font-size="7.6" font-weight="bold" text-anchor="start" fill="#000" stroke="#000" stroke-width="0.2">10<tspan dy="-3.1" dx="0.2" font-size="5.6">0</tspan></text>
<text x="216.4" y="146.9" font-size="7.6" font-weight="bold" text-anchor="start" fill="#000" stroke="#000" stroke-width="0.2">10<tspan dy="-3.1" dx="0.2" font-size="5.6">1</tspan></text>
<text x="242.2" y="146.9" font-size="7.6" font-weight="bold" text-anchor="start" fill="#000" stroke="#000" stroke-width="0.2">10<tspan dy="-3.1" dx="0.2" font-size="5.6">2</tspan></text>
<text x="264.8" y="146.9" font-size="7.6" font-weight="bold" text-anchor="start" fill="#000" stroke="#000" stroke-width="0.2">10<tspan dy="-3.1" dx="0.2" font-size="5.6">3</tspan></text>
<rect x="169.9" y="183.6" width="101.6" height="95.1" fill="#fff" stroke="#444" stroke-width="1"/>
<path d="M175.7 246.3h0M176.4 241.3h0M183.7 236.9h0M173.8 238.1h0M187.6 255.7h0M180.1 227.5h0M188.0 230.7h0M179.8 240.8h0M187.4 235.5h0M175.7 216.3h0M175.2 233.8h0M186.0 236.0h0M178.7 225.7h0M189.0 236.6h0M177.8 234.3h0M185.5 220.1h0M177.0 236.2h0M171.1 247.6h0M191.4 246.9h0M180.9 224.5h0M188.4 224.0h0M183.3 233.6h0M171.2 233.8h0M184.7 223.4h0M189.1 228.3h0M190.5 244.0h0M192.7 236.0h0M184.7 240.9h0M181.5 232.7h0M182.6 240.6h0M174.7 228.2h0M186.9 229.7h0M186.8 226.5h0M184.4 219.0h0M177.2 229.5h0M186.3 223.4h0M178.6 229.1h0M190.2 234.9h0M178.3 233.8h0M178.8 235.5h0M180.1 229.8h0M175.5 231.8h0M176.4 240.8h0M180.3 231.6h0M195.0 216.3h0M184.5 225.0h0M184.0 241.3h0M176.5 225.9h0M183.4 225.1h0M182.1 240.1h0M182.8 223.9h0M172.6 239.2h0M181.4 232.1h0M180.8 217.6h0M176.4 242.1h0M178.2 219.0h0M180.0 223.5h0M187.5 239.3h0M189.9 224.6h0M182.3 236.7h0M175.2 231.8h0M191.6 232.0h0M173.1 224.0h0M178.5 227.5h0M180.7 234.7h0M177.3 225.0h0M190.7 238.5h0M184.7 234.9h0M189.0 237.7h0M180.2 234.4h0M187.7 237.7h0M181.1 235.6h0M181.1 238.9h0M184.0 235.9h0M184.6 235.5h0M185.7 226.5h0M180.7 219.9h0M172.4 232.1h0M180.0 239.7h0M180.2 220.8h0M176.8 228.2h0M187.3 236.1h0M194.9 231.9h0M179.8 223.8h0M171.8 231.2h0M184.7 238.2h0M185.2 232.8h0M184.8 240.7h0M196.1 230.7h0M176.7 238.7h0M183.9 245.2h0M183.0 225.6h0M177.6 225.9h0M183.9 237.9h0M190.1 256.9h0M176.5 236.0h0M184.9 233.0h0M188.5 243.3h0M186.2 232.5h0M171.7 219.6h0M183.8 226.0h0M179.5 242.6h0M189.9 221.3h0M181.2 222.2h0M194.7 240.4h0M174.1 233.0h0M185.2 242.2h0M176.4 224.3h0M193.4 228.7h0M192.1 231.4h0M176.1 223.0h0M186.9 231.7h0M181.7 231.5h0M171.5 238.1h0M175.3 231.4h0M182.6 229.9h0M185.3 236.9h0M179.6 240.8h0M183.9 240.8h0M184.0 235.1h0M183.9 230.2h0M174.4 228.4h0M182.9 223.2h0M185.4 233.7h0M172.4 231.6h0M191.9 246.2h0M191.4 235.5h0M183.1 238.5h0M195.5 244.1h0M176.8 218.4h0M175.9 227.3h0M178.0 230.6h0M177.4 233.2h0M193.9 225.8h0M182.3 239.3h0M181.6 239.5h0M184.4 236.8h0M192.3 239.1h0M183.1 224.8h0M179.6 241.0h0M183.8 228.5h0M190.1 219.8h0M180.7 233.6h0M191.1 237.0h0M184.0 228.0h0M180.9 220.4h0M185.2 224.7h0M194.8 233.2h0M180.5 213.8h0M190.9 241.5h0M185.7 240.7h0M183.0 231.6h0M182.4 240.8h0M187.3 232.2h0M186.0 224.9h0M184.4 237.8h0M186.3 237.5h0M176.5 225.3h0M177.8 221.9h0M175.6 224.8h0M179.8 241.3h0M180.7 230.4h0M179.7 253.5h0M185.5 228.3h0M175.9 236.6h0M180.5 235.1h0M187.6 231.8h0M192.9 240.3h0M182.4 226.5h0M189.7 233.3h0M190.8 225.1h0M175.5 215.8h0M183.6 233.5h0M175.3 223.5h0M179.5 222.9h0M184.6 237.5h0M173.9 230.7h0M185.4 236.1h0M181.1 245.6h0M180.5 234.0h0M185.5 236.6h0M176.8 223.4h0M171.2 237.8h0M182.2 239.2h0M177.4 224.5h0M180.7 237.6h0M175.0 234.4h0M176.0 230.6h0M175.4 232.7h0M173.8 249.9h0M176.8 227.4h0M177.0 229.8h0M182.2 233.6h0M202.2 233.8h0M178.0 218.8h0M171.8 236.5h0M185.7 240.1h0M174.1 244.8h0M176.3 228.0h0M179.8 223.2h0M182.2 237.8h0M182.4 225.3h0M183.5 233.0h0M181.2 229.8h0M189.0 235.1h0M187.3 230.1h0M178.5 237.7h0M180.6 225.8h0M173.3 249.6h0M186.1 239.2h0M180.6 228.0h0M194.1 227.1h0M177.6 231.0h0M191.6 230.5h0M176.1 226.0h0M171.2 242.0h0M176.5 239.5h0M184.1 225.0h0M188.4 237.8h0M176.3 232.3h0M188.1 239.3h0M178.6 227.6h0M178.6 248.4h0M180.0 233.2h0M192.4 249.0h0M183.1 229.5h0M183.8 243.2h0M172.3 231.0h0M183.0 245.4h0M183.7 231.7h0M192.3 226.1h0M176.4 224.2h0M177.4 227.6h0M176.1 236.7h0M177.7 235.2h0M186.2 234.3h0M176.8 240.2h0M190.0 246.1h0M182.1 225.4h0M176.1 239.7h0M177.7 249.7h0M173.1 227.3h0M172.6 227.6h0M189.2 236.8h0M187.5 235.3h0M175.6 228.2h0M179.0 232.1h0M192.1 246.1h0M177.2 239.2h0M183.3 227.1h0M185.1 220.6h0M180.6 224.5h0M180.6 234.1h0M179.7 226.8h0M182.6 226.7h0M171.9 237.2h0M182.1 230.8h0M183.0 230.2h0M173.4 233.6h0M184.7 244.1h0M175.9 234.5h0M182.4 244.6h0M185.4 224.2h0M179.1 224.3h0M172.5 228.1h0M180.7 247.9h0M187.6 245.1h0M181.5 224.7h0M172.4 228.4h0M184.7 237.4h0M180.5 233.3h0M180.6 239.4h0M182.1 229.3h0M185.3 221.0h0M181.1 237.5h0M175.6 241.6h0M181.0 221.4h0M182.6 219.0h0M189.3 230.4h0M173.9 218.1h0M180.9 236.1h0M176.2 223.7h0M183.5 238.7h0M178.3 230.0h0M187.8 238.6h0M177.5 231.0h0M174.8 224.6h0M172.1 238.7h0M174.9 221.2h0M173.5 242.5h0M180.8 228.3h0M182.6 229.1h0M181.2 235.9h0M184.0 236.3h0M176.4 236.1h0M185.6 222.5h0M181.1 226.3h0M184.5 235.8h0M185.6 236.2h0M179.4 232.0h0M189.6 243.5h0M186.8 232.2h0M179.1 239.7h0M192.9 242.4h0M192.3 236.8h0M172.0 230.4h0M177.8 235.9h0M184.7 237.9h0M187.7 227.2h0M186.0 237.0h0M181.7 244.9h0M187.9 231.6h0M186.3 234.6h0M179.0 230.9h0M182.9 239.7h0M188.5 218.4h0M177.7 244.4h0M177.8 236.4h0M176.5 230.7h0M191.1 236.1h0M186.1 241.9h0M187.2 236.4h0M179.4 237.8h0M181.6 242.0h0M189.5 235.2h0M180.0 238.4h0M189.3 244.9h0M181.7 237.2h0M181.7 228.4h0M185.3 239.2h0M187.3 248.8h0M193.0 232.0h0M179.6 236.2h0M192.5 237.5h0M177.0 239.1h0M176.4 229.4h0M187.2 248.2h0M191.2 239.3h0M174.2 227.6h0M179.8 238.7h0M180.2 233.4h0M172.0 243.4h0M182.3 221.2h0M183.8 234.1h0M178.7 240.0h0M175.4 223.0h0M182.7 227.7h0M185.6 237.1h0M172.9 232.4h0M181.2 230.8h0M185.4 235.8h0M183.9 227.1h0M192.8 247.2h0M173.7 227.4h0M190.2 237.3h0M180.0 232.5h0M185.7 239.9h0M180.9 235.4h0M174.6 235.3h0M171.0 240.5h0M197.0 237.3h0M173.4 219.6h0M180.2 228.0h0M190.9 244.7h0M183.8 241.2h0M183.0 231.5h0M178.0 227.4h0M173.4 247.5h0M184.2 242.4h0M187.2 221.8h0M177.0 222.5h0M177.8 228.3h0M184.6 223.4h0M187.5 234.6h0M175.2 224.3h0M189.3 237.5h0M187.9 232.2h0M181.9 229.0h0M174.8 237.1h0M185.5 236.8h0M186.3 234.6h0M193.1 231.7h0M178.1 232.3h0M192.0 220.1h0M179.7 218.4h0M185.3 228.5h0M181.2 234.0h0M182.4 246.2h0M191.2 237.1h0M177.6 225.3h0M187.2 230.1h0M180.2 223.6h0M181.7 232.7h0M177.4 231.9h0M183.2 233.0h0M180.3 240.6h0M188.4 238.9h0M187.3 225.2h0M171.6 238.1h0M174.8 224.8h0M179.3 235.6h0M193.9 235.2h0M179.2 245.2h0M181.9 232.3h0M180.4 232.2h0M183.9 231.3h0M176.1 238.8h0M183.6 235.6h0M185.0 231.5h0M188.6 240.0h0M176.3 248.0h0M187.7 245.8h0M194.2 245.6h0M187.0 229.8h0M186.3 233.0h0M190.5 221.6h0M202.4 254.5h0M174.4 238.4h0M190.7 239.2h0M176.2 244.9h0M188.3 227.7h0M194.5 220.7h0M191.8 228.6h0M179.6 248.4h0M181.4 244.4h0M195.4 241.1h0M186.6 235.7h0M188.2 236.6h0M195.5 242.8h0M189.5 244.9h0M198.4 231.8h0M203.0 252.5h0M193.3 236.2h0M180.7 228.7h0M195.8 237.1h0M203.8 233.3h0M181.6 235.6h0M180.8 221.2h0M185.9 233.4h0M183.6 237.8h0M175.6 245.9h0M181.6 222.3h0M191.1 236.7h0M182.6 232.7h0M188.8 238.1h0M199.3 238.0h0M213.7 255.0h0M195.0 239.3h0M178.6 228.2h0M196.0 260.9h0M187.2 238.1h0M190.2 237.0h0M195.7 247.1h0M194.1 234.1h0M175.6 233.6h0M177.1 243.2h0M189.6 228.1h0M193.4 235.2h0M205.8 249.6h0M192.5 254.3h0M184.0 236.5h0M182.9 236.0h0M180.9 245.9h0M175.7 222.9h0M175.6 229.5h0M182.3 230.0h0M188.0 220.3h0M180.4 211.6h0M187.3 234.3h0M184.7 245.1h0M185.1 243.1h0M183.3 247.9h0M189.7 214.9h0M187.3 236.6h0M189.5 230.8h0M188.1 226.8h0M181.8 239.7h0M188.6 238.2h0M181.0 242.0h0M188.2 238.0h0M179.4 246.9h0M193.2 245.0h0M190.2 240.6h0M174.3 232.0h0M181.0 242.6h0M193.3 233.4h0M190.7 246.8h0M188.4 247.9h0M177.1 243.9h0M181.1 225.6h0M188.6 241.9h0M189.7 241.5h0M187.0 245.3h0M179.8 223.0h0M185.1 232.3h0M182.8 236.3h0M176.9 247.8h0M177.4 230.8h0M180.0 244.1h0M173.9 236.5h0M191.2 255.3h0M193.9 242.0h0M194.9 225.5h0M180.2 234.1h0M180.5 238.7h0M189.3 249.2h0M183.0 242.7h0M184.3 234.9h0M184.3 226.4h0M172.9 235.3h0M198.2 239.0h0M174.4 246.8h0M173.2 243.1h0M194.1 227.2h0M177.4 215.9h0M196.5 236.2h0M190.0 240.8h0M190.2 230.1h0M183.7 232.7h0M174.6 245.6h0M176.6 242.1h0M187.9 223.2h0M186.1 240.7h0M176.4 237.1h0M177.0 234.1h0M179.4 241.2h0M186.5 242.8h0M190.9 260.1h0M194.9 241.4h0M183.8 230.9h0M199.6 236.1h0M193.3 245.3h0M200.0 257.2h0M179.3 241.6h0M192.1 243.5h0M196.5 242.1h0M171.5 230.9h0M195.1 240.2h0M190.6 228.2h0M195.1 246.0h0M188.5 242.3h0M197.0 241.5h0M183.3 229.8h0M182.5 234.7h0M193.3 234.2h0M193.3 241.8h0M175.3 233.1h0M197.5 243.2h0M197.3 248.0h0M196.0 250.7h0M180.6 227.8h0M198.0 237.2h0M191.5 229.4h0M195.1 250.3h0M186.6 230.5h0M183.3 248.8h0M180.9 232.4h0M181.7 245.8h0M194.9 234.8h0M180.3 234.7h0M181.6 237.9h0M189.9 239.3h0M184.7 236.2h0M181.3 247.2h0M183.9 244.8h0M201.1 236.6h0M192.8 223.1h0M178.3 237.2h0M177.4 211.5h0M183.0 243.0h0M189.0 243.7h0M180.2 226.1h0M190.8 243.8h0M174.8 229.8h0M189.9 249.5h0M197.4 233.4h0M186.8 232.3h0M189.2 240.5h0M190.9 229.8h0M187.9 257.6h0M186.4 234.6h0M189.5 253.6h0M188.0 235.7h0M187.8 235.4h0M200.7 234.6h0M195.9 233.2h0M195.1 243.4h0M181.5 247.2h0M182.8 238.1h0M196.2 232.1h0M177.9 238.0h0M195.9 232.9h0M175.3 212.5h0M205.5 242.8h0M197.8 225.1h0M182.2 231.6h0M183.0 237.6h0M186.6 235.6h0M197.4 253.4h0M192.3 247.3h0M184.7 250.6h0M204.8 243.4h0M191.8 240.9h0M190.6 254.0h0M184.4 232.1h0M192.1 241.9h0M209.8 243.7h0M190.9 241.3h0M172.5 240.2h0M188.9 239.4h0M203.7 248.3h0M197.4 232.8h0M182.5 241.4h0M190.0 229.6h0M174.2 244.7h0M192.6 247.5h0M179.4 234.6h0M182.4 232.6h0M182.1 236.7h0M180.8 241.5h0M201.8 227.9h0M199.9 231.9h0M184.5 245.5h0M187.8 236.2h0M201.7 229.8h0M184.5 218.3h0M183.1 233.3h0M179.6 221.3h0M200.6 241.7h0M188.4 237.4h0M187.1 253.7h0M183.3 226.3h0M179.1 241.7h0M195.3 229.2h0M180.3 227.6h0M182.5 235.1h0M172.4 227.6h0M177.4 251.5h0M182.5 236.4h0M182.7 230.5h0M173.8 255.0h0M181.6 229.8h0M185.8 234.3h0M192.0 232.1h0M184.5 242.4h0M175.2 245.6h0M184.5 226.1h0M190.8 234.3h0M186.9 234.4h0M187.3 225.7h0M187.0 226.4h0M192.6 235.6h0M175.1 227.5h0M181.8 239.2h0M190.2 245.3h0M187.1 239.2h0M177.6 238.2h0M184.4 229.2h0M180.8 231.2h0M187.1 240.9h0M172.4 239.6h0M172.7 234.0h0M174.3 239.7h0M185.7 235.2h0M208.4 231.9h0M195.4 241.9h0M197.5 236.0h0M186.9 223.0h0M187.3 268.2h0M184.2 264.6h0M186.6 257.8h0M178.4 262.6h0M191.7 267.7h0M184.9 251.8h0M188.2 263.3h0M177.2 262.2h0M179.5 257.7h0M190.3 271.2h0M181.5 253.7h0M181.8 251.7h0M191.7 258.3h0M189.5 254.2h0M183.2 268.0h0M194.5 246.9h0M171.6 249.4h0M181.2 260.8h0M177.9 263.8h0M191.6 250.3h0M192.3 267.7h0M178.4 245.1h0M182.7 265.7h0M188.0 252.3h0M185.2 255.2h0M183.5 271.1h0M188.4 258.1h0M194.8 254.0h0M182.5 260.2h0M174.3 271.7h0M181.0 258.9h0M181.5 253.1h0M179.2 259.9h0M186.4 249.8h0M186.6 253.6h0M187.8 254.5h0M184.9 263.0h0M183.5 255.0h0M174.9 261.8h0M179.4 266.5h0M176.0 269.5h0M183.9 246.6h0M180.9 258.0h0M181.5 250.3h0M185.3 262.9h0M179.8 260.1h0M188.9 258.3h0M188.7 254.7h0M175.4 251.6h0M190.5 246.5h0M179.5 265.1h0M176.9 257.0h0M179.6 258.6h0M173.3 260.6h0M184.0 263.9h0M189.8 271.6h0M171.6 257.1h0M184.6 262.9h0M185.6 246.9h0M186.1 255.6h0M186.0 253.4h0M184.6 254.0h0M178.6 266.5h0M187.7 259.1h0M184.0 258.8h0M187.1 258.9h0M183.8 256.8h0M180.0 256.8h0M181.4 253.9h0M185.8 254.6h0M188.7 255.4h0M173.2 245.3h0M178.2 258.1h0M177.3 261.3h0M183.1 250.6h0M179.7 251.8h0M190.6 263.9h0M177.6 253.3h0M177.0 261.7h0M176.2 253.6h0M179.7 250.0h0M182.8 248.2h0M178.5 254.1h0M175.6 255.1h0M172.6 249.8h0M182.9 268.2h0M178.1 258.5h0M175.2 252.2h0M179.9 268.7h0M183.9 264.1h0M195.3 253.1h0M192.5 251.2h0M175.8 257.0h0M178.7 263.4h0M187.7 264.1h0M180.7 257.4h0M171.9 261.7h0M177.2 262.8h0M178.3 267.3h0M177.2 253.4h0M191.4 271.5h0M178.6 260.5h0M183.3 263.1h0M184.8 258.6h0M182.9 247.2h0M173.3 258.1h0M177.8 265.3h0M171.1 258.5h0M186.8 250.8h0M202.4 259.5h0M188.4 259.7h0M179.7 251.6h0M187.5 254.7h0M189.6 251.3h0M174.3 259.2h0M187.9 253.9h0M173.2 260.1h0M182.6 255.6h0M172.4 262.5h0M186.7 260.5h0M191.2 266.8h0M182.1 251.6h0M185.0 258.9h0M192.4 260.2h0M185.2 260.4h0M190.5 243.9h0M191.3 251.1h0M174.8 260.7h0M196.4 262.4h0M189.7 258.7h0M182.8 259.7h0M187.3 266.9h0M184.0 256.0h0M183.4 253.2h0M175.2 268.8h0M179.2 262.7h0M179.7 257.3h0M189.1 253.6h0M185.1 269.6h0M184.6 256.6h0M181.1 252.9h0M190.3 267.2h0M175.9 257.5h0M188.3 262.8h0M179.2 256.5h0M186.2 254.9h0M192.5 261.5h0M187.3 250.1h0M172.1 257.0h0M180.4 263.5h0M174.3 250.9h0M185.1 268.1h0M188.8 257.0h0M180.3 258.0h0M185.4 255.2h0M180.6 262.5h0M194.7 255.2h0M182.8 260.1h0M183.5 267.2h0M185.7 267.1h0M189.0 248.0h0M186.6 267.8h0M181.8 255.1h0M182.3 260.6h0M185.4 259.2h0M185.9 260.4h0M179.5 254.3h0M178.1 262.5h0M180.4 265.5h0M185.1 254.5h0M179.0 258.4h0M174.8 264.1h0M179.8 265.9h0M178.7 260.8h0M186.0 260.3h0M178.6 261.8h0M179.3 256.2h0M194.5 260.8h0M185.0 256.6h0M175.8 256.1h0M190.0 242.3h0M179.6 246.1h0M176.6 261.0h0M186.3 263.6h0M172.6 261.5h0M181.6 259.2h0M185.7 256.4h0M187.0 262.3h0M178.5 255.7h0M178.7 258.4h0M181.5 268.7h0M190.1 248.9h0M187.5 256.7h0M184.0 245.2h0M191.1 250.2h0M174.6 265.7h0M189.7 261.9h0M176.3 257.4h0M184.0 267.4h0M179.4 251.6h0M181.6 257.9h0M184.6 254.2h0M187.8 265.9h0M177.9 262.0h0M174.3 259.7h0M186.7 257.5h0M179.7 245.9h0M189.0 244.0h0M191.5 258.3h0M180.5 265.0h0M180.9 252.9h0M177.3 258.9h0M182.0 248.0h0M186.9 257.9h0M189.1 263.1h0M181.9 263.4h0M194.4 266.6h0M178.6 252.8h0M181.9 257.1h0M178.5 263.7h0M179.1 251.2h0M180.2 256.2h0M177.5 258.2h0M179.3 258.1h0M184.0 264.3h0M182.8 261.2h0M175.1 255.2h0M185.5 242.2h0M176.7 263.7h0M185.1 265.1h0M182.6 261.7h0M175.2 261.3h0M188.4 266.6h0M177.8 254.7h0M177.7 257.8h0M179.2 251.4h0M182.9 256.7h0M185.9 252.5h0M180.1 252.6h0M193.3 244.5h0M178.3 257.5h0M179.0 265.2h0M180.9 237.5h0M183.2 266.9h0M191.8 257.9h0M197.7 253.5h0M179.8 260.2h0M181.0 256.4h0M186.3 257.6h0M181.3 267.9h0M187.9 259.3h0M175.0 260.6h0M187.8 256.3h0M185.6 251.8h0M186.6 257.3h0M198.7 252.7h0M176.0 266.0h0M186.8 256.5h0M186.4 263.2h0M175.8 267.0h0M183.8 265.1h0M176.5 253.4h0M174.3 269.6h0M172.0 245.0h0M180.6 267.9h0M175.0 240.7h0M184.0 257.5h0M186.7 243.5h0M183.7 247.7h0M176.5 259.8h0M171.4 246.2h0M175.9 262.4h0M173.0 265.9h0M179.5 267.3h0M179.6 259.8h0M198.7 257.7h0M178.0 277.0h0M185.8 266.3h0M189.0 262.4h0M191.1 260.3h0M175.4 265.5h0M187.4 244.8h0M180.5 254.1h0M187.8 242.1h0M186.8 265.6h0M172.5 252.8h0M176.4 261.0h0M177.0 255.3h0M172.7 269.1h0M183.8 260.3h0M176.9 260.7h0M186.0 247.2h0M181.2 264.3h0M179.7 253.6h0M194.0 261.3h0M189.9 251.0h0M173.0 260.6h0M191.4 261.8h0M187.2 248.0h0M191.0 260.2h0M185.0 251.9h0M179.4 260.6h0M177.2 263.8h0M190.6 255.4h0M182.3 264.1h0M183.5 260.0h0M187.0 267.4h0M175.8 251.2h0M189.5 271.6h0M183.5 254.6h0M175.4 255.5h0M178.1 253.0h0M180.3 256.0h0M186.1 271.3h0M191.7 259.3h0M179.9 250.7h0M180.4 257.0h0M194.2 259.8h0M203.8 264.7h0M194.3 255.9h0M183.3 259.4h0M186.6 257.2h0M184.0 258.9h0M176.5 249.8h0M191.2 264.7h0M199.3 254.9h0M176.2 270.9h0M176.6 266.5h0M178.5 263.7h0M173.3 254.6h0M187.5 255.8h0M172.1 255.5h0M186.5 258.7h0M184.7 255.7h0M187.1 254.4h0M171.8 258.8h0M183.0 257.9h0M183.8 255.5h0M188.0 264.4h0M184.5 265.3h0M178.0 254.3h0M189.8 272.9h0M191.5 260.7h0M191.2 266.6h0M176.9 271.1h0M185.6 248.3h0M175.7 261.6h0M180.8 264.5h0M187.1 266.4h0M172.1 263.6h0M201.1 265.1h0M190.4 247.7h0M176.7 251.5h0M178.1 262.1h0M181.5 244.0h0M181.0 254.3h0M173.6 256.8h0M181.0 260.7h0M171.3 264.4h0M177.7 259.8h0M194.3 252.4h0M181.5 251.5h0M179.3 261.0h0M192.8 262.2h0M184.2 260.7h0M186.3 259.1h0M178.0 258.9h0M189.5 248.5h0M179.7 257.9h0M188.0 263.4h0M186.4 250.3h0M193.9 261.1h0M188.8 262.9h0M181.9 274.3h0M174.7 257.7h0M179.9 256.4h0M177.2 249.8h0M192.5 250.6h0M178.9 246.9h0M184.6 263.0h0M187.6 258.1h0M175.6 260.2h0M186.9 247.1h0M172.8 244.1h0M183.7 245.8h0M180.9 269.3h0M184.1 265.9h0M184.9 248.8h0M177.3 258.8h0M187.6 259.3h0M178.5 251.3h0M182.8 253.7h0M191.8 264.7h0M175.6 263.1h0M182.5 264.4h0M193.1 260.4h0M190.7 259.0h0M177.2 261.6h0M177.7 257.1h0M185.8 269.9h0M177.4 259.8h0M182.5 261.9h0M172.5 257.6h0M186.4 253.6h0M182.9 256.0h0M186.8 252.7h0M177.3 263.9h0M171.0 272.1h0M173.1 260.2h0M194.4 253.3h0M173.0 262.5h0M184.2 262.2h0M182.3 252.8h0M189.1 258.8h0M191.1 252.4h0M185.1 268.1h0M181.5 259.1h0M178.0 261.4h0M180.7 270.1h0M188.5 242.9h0M186.2 261.1h0M186.3 260.2h0M176.6 258.5h0M177.2 267.0h0M178.2 253.8h0M174.6 253.9h0M186.7 270.3h0M189.4 265.4h0M194.6 261.7h0M178.3 264.0h0M181.3 259.0h0M182.6 256.4h0M181.9 257.4h0M176.1 260.6h0M187.5 255.2h0M178.6 257.3h0M186.4 257.5h0M172.2 263.1h0M173.9 260.5h0M181.9 265.1h0M174.7 259.4h0M183.7 257.3h0M179.3 262.5h0M195.7 264.6h0M173.4 255.5h0M176.2 252.6h0M186.0 267.7h0M182.8 254.9h0M185.1 261.1h0M179.9 255.3h0M188.6 260.0h0M184.4 268.1h0M191.2 270.1h0M172.5 249.5h0M183.8 248.6h0M180.4 235.4h0M184.8 262.6h0M175.4 269.2h0M187.7 260.3h0M172.6 256.5h0M188.2 264.2h0M185.8 252.1h0M184.8 267.8h0M185.9 263.4h0M181.5 256.2h0M180.1 252.2h0M185.5 258.1h0M178.6 258.0h0M189.6 260.1h0M181.7 253.9h0M201.3 262.0h0M183.2 261.9h0M194.4 261.4h0M184.5 258.8h0M182.6 241.2h0M185.8 257.1h0M176.7 248.8h0M177.5 246.9h0M193.6 273.8h0M180.7 255.0h0M174.0 257.1h0M185.6 256.3h0M176.2 252.5h0M182.6 269.5h0M190.1 245.7h0M191.2 261.7h0M194.9 254.3h0M190.3 267.1h0M186.7 264.2h0M186.0 258.9h0M184.2 248.0h0M181.9 263.7h0M198.1 265.0h0M181.7 262.9h0M194.0 256.3h0M181.4 262.7h0M190.7 253.0h0M183.3 260.8h0M177.9 256.7h0M193.3 251.5h0M192.8 256.8h0M177.9 252.3h0M181.8 250.1h0M188.8 265.5h0M184.5 257.2h0M183.0 254.7h0M189.2 254.7h0M173.2 261.3h0M193.7 256.0h0M185.6 253.4h0M176.0 259.2h0M181.9 252.0h0M198.4 250.9h0M182.5 267.2h0M172.0 256.3h0M192.1 266.5h0M185.4 262.4h0M182.5 257.8h0M190.0 256.6h0M179.9 269.5h0M181.8 253.8h0M189.7 255.6h0M185.8 252.6h0M189.5 257.2h0M180.1 251.8h0M194.5 259.0h0M172.8 249.6h0M173.1 261.8h0M186.3 260.6h0M180.6 259.7h0M184.2 254.1h0M183.1 267.1h0M181.7 272.1h0M175.4 257.3h0M185.0 252.9h0M192.0 262.6h0M176.9 256.8h0M196.1 259.2h0M193.9 262.7h0M176.9 248.8h0M188.5 263.2h0M175.2 251.0h0M182.0 249.6h0M175.2 255.5h0M179.1 268.3h0M181.8 261.4h0M175.5 251.8h0M176.6 262.5h0M183.2 266.2h0M196.2 259.4h0M180.3 258.2h0M181.8 245.3h0M174.9 260.4h0M179.6 263.6h0M176.9 259.6h0M171.9 259.4h0M176.6 262.1h0M179.2 264.2h0M185.0 252.0h0M180.5 257.7h0M184.8 261.1h0M191.9 259.9h0M189.3 251.6h0M179.9 244.5h0M181.5 263.1h0M183.4 269.7h0M189.7 261.1h0M183.7 252.2h0M202.3 261.2h0M180.5 257.4h0M187.4 253.5h0M176.3 248.3h0M175.7 245.6h0M180.6 253.3h0M184.1 255.3h0M187.5 258.6h0M190.6 259.7h0M193.2 271.3h0M225.6 266.8h0M183.5 273.9h0M213.1 263.3h0M208.7 263.5h0M204.2 264.5h0M189.4 258.2h0M228.5 275.3h0M216.4 268.3h0M195.3 270.7h0M180.7 275.6h0M195.1 269.3h0M173.6 275.1h0M182.0 255.4h0M185.0 273.4h0M180.2 268.6h0M202.6 264.4h0M179.6 272.4h0M176.3 267.2h0M175.1 263.6h0M223.2 257.5h0M175.7 275.9h0M227.6 254.2h0M225.8 267.4h0M201.1 275.0h0M223.3 270.3h0M172.3 264.0h0M215.5 265.8h0M202.3 264.0h0M207.1 268.3h0M230.0 266.7h0M180.5 260.7h0M189.2 259.8h0M211.5 272.7h0M181.6 260.7h0M225.3 261.4h0M194.2 262.9h0M215.2 260.5h0M222.2 262.2h0M217.5 270.8h0M219.3 263.3h0M195.0 266.3h0M193.2 255.5h0M203.2 263.9h0M181.3 267.2h0M202.6 267.2h0M203.7 274.3h0M189.9 269.5h0M179.6 252.6h0M176.3 258.9h0M192.1 262.5h0M202.9 265.5h0M229.1 267.2h0M182.6 270.1h0M172.2 258.5h0M188.7 255.8h0M198.7 270.9h0M205.2 261.9h0M190.9 255.2h0M224.9 262.1h0M183.7 264.7h0M186.5 260.8h0M186.2 261.0h0M228.1 271.9h0M199.2 261.3h0M191.8 268.4h0M174.0 267.9h0M193.8 265.1h0M220.5 260.1h0M182.7 262.1h0M173.3 265.5h0M181.5 268.4h0M175.1 272.4h0M222.0 270.4h0M187.9 265.1h0M220.3 265.1h0M188.1 272.7h0M177.1 274.5h0M187.0 264.2h0M207.1 273.0h0M228.4 269.7h0M208.6 268.2h0M218.4 261.4h0M201.2 260.6h0M225.5 269.1h0M221.6 253.0h0M229.3 264.4h0M220.8 269.0h0M212.2 258.6h0M220.1 275.1h0M223.7 275.2h0M211.0 261.6h0M175.6 266.4h0M196.8 266.3h0M228.1 264.2h0M211.8 264.5h0M194.5 269.3h0M223.3 275.3h0M192.2 267.4h0M194.2 267.5h0M202.7 267.6h0M210.9 263.5h0M204.7 270.1h0M190.7 264.5h0M204.2 262.0h0M191.8 270.2h0M210.5 257.6h0M203.9 264.4h0M177.3 265.0h0M208.2 266.3h0M226.5 259.3h0M207.7 262.2h0M175.3 266.2h0M203.6 270.0h0M180.6 266.4h0M195.6 265.9h0M180.7 262.8h0M225.2 267.1h0M216.6 253.1h0M204.7 270.2h0M188.6 271.8h0M177.1 266.9h0M212.9 262.1h0M185.3 273.6h0M224.6 263.6h0M222.8 273.7h0M180.6 265.6h0M229.8 263.2h0M228.2 265.9h0M175.7 263.6h0M201.1 266.1h0M188.2 269.5h0M208.1 265.7h0M220.6 264.7h0M186.6 266.9h0M175.2 268.9h0M192.6 267.0h0M182.7 269.7h0M212.9 269.9h0M188.4 268.4h0M206.3 270.6h0M177.5 267.1h0M186.9 272.7h0M216.3 269.0h0M220.0 271.2h0M203.6 266.0h0M205.0 260.0h0M174.3 264.8h0M205.9 267.2h0M205.5 268.8h0M184.0 266.8h0M213.7 274.3h0M178.4 260.6h0M202.4 258.3h0M176.5 266.1h0M220.9 263.6h0M194.7 267.2h0M227.8 270.3h0M216.7 260.5h0M200.7 261.7h0M173.9 266.7h0M189.8 259.7h0M205.6 263.3h0M217.8 273.3h0M174.8 266.7h0M201.0 266.9h0M216.7 272.5h0M183.8 258.6h0M191.4 267.6h0M187.9 266.8h0M214.7 268.3h0M187.9 262.1h0M224.6 264.9h0M220.1 266.5h0M203.4 270.6h0M228.7 263.4h0M189.8 270.0h0M171.7 256.6h0M211.2 269.1h0M219.0 270.8h0M226.5 262.5h0M181.0 265.6h0M173.0 267.0h0M205.9 268.4h0M194.5 272.9h0M184.6 267.9h0M210.4 265.9h0M201.9 266.0h0M207.2 268.3h0M225.4 270.8h0M221.7 268.3h0M181.4 264.3h0M174.8 265.4h0M209.2 263.1h0M171.6 262.8h0M183.3 264.6h0M225.1 264.2h0M194.0 270.7h0M214.2 261.2h0M209.9 267.3h0M177.6 261.3h0M214.9 270.9h0M215.4 268.5h0M171.8 273.2h0M227.5 269.7h0M177.1 262.0h0M199.0 267.2h0M199.4 263.9h0M198.8 264.5h0M229.6 262.0h0M181.2 265.5h0M218.7 267.5h0M222.9 268.0h0M171.2 266.2h0M186.3 267.4h0M173.6 266.6h0M175.0 265.8h0M219.9 265.5h0M172.5 267.3h0M186.7 266.1h0M175.6 270.6h0M179.3 269.1h0M203.0 262.7h0M224.6 267.0h0M222.4 268.5h0M177.7 265.7h0M220.1 265.9h0M222.2 266.6h0M185.7 270.0h0M183.2 267.9h0M192.5 264.4h0M217.0 266.8h0M229.5 273.0h0M202.8 262.4h0M194.9 270.2h0M192.3 265.8h0M185.4 270.0h0M212.6 267.3h0M205.4 266.5h0M191.6 259.7h0M212.6 264.6h0M217.1 276.7h0M182.0 268.7h0M194.0 265.6h0M207.8 267.0h0M215.0 267.2h0M174.9 262.5h0M177.3 267.5h0M216.9 269.5h0M215.8 259.9h0M183.4 265.9h0M194.0 253.9h0M211.2 258.9h0M201.0 271.0h0M217.1 272.9h0M183.2 275.9h0M195.8 260.8h0M190.4 266.6h0M220.4 265.4h0M190.5 272.1h0M213.9 268.6h0M196.7 267.4h0M181.7 269.9h0M208.0 264.9h0M180.4 271.7h0M178.0 265.4h0M221.7 272.3h0M223.9 267.9h0M191.5 268.1h0M192.5 261.6h0M206.6 259.7h0M207.5 259.5h0M205.5 269.4h0M186.7 256.8h0M217.6 273.5h0M188.8 265.5h0M222.4 260.6h0M226.6 268.7h0M187.0 261.1h0M206.7 267.2h0M212.6 265.8h0M184.5 272.7h0M227.9 271.3h0M197.3 271.5h0M201.2 264.8h0M191.7 273.0h0M194.4 266.7h0M176.2 267.6h0M226.3 269.1h0M222.8 268.3h0M216.4 260.7h0M229.9 270.1h0M222.2 259.5h0M207.4 269.3h0M172.4 266.7h0M227.6 267.4h0M217.0 261.8h0M202.3 271.8h0M200.6 266.3h0M208.2 271.1h0M213.9 263.5h0M203.4 263.6h0M191.8 267.3h0M175.6 271.9h0M194.5 260.7h0M176.6 264.3h0M193.5 264.6h0M222.5 265.7h0M218.2 264.8h0M201.0 272.1h0M211.8 270.4h0M196.3 267.1h0M204.1 271.0h0M223.4 271.9h0M227.4 264.1h0M187.5 263.6h0M216.3 270.3h0M193.5 277.1h0M197.7 255.8h0M194.7 264.1h0M180.6 270.7h0M184.4 263.2h0M222.7 271.2h0M204.9 268.1h0M180.3 261.1h0M229.1 264.8h0M216.9 268.8h0M216.0 262.8h0M203.0 269.8h0M206.4 268.5h0M179.6 265.6h0M181.7 268.9h0M210.2 265.3h0M210.4 268.1h0M194.4 262.3h0M219.1 273.7h0M184.3 265.8h0M180.3 272.5h0M174.6 277.2h0M226.1 274.5h0M202.2 266.9h0M205.0 267.8h0M209.5 266.8h0M178.0 268.5h0M222.9 263.1h0M228.7 258.4h0M185.1 268.6h0M184.9 267.2h0M221.2 274.3h0M201.0 275.6h0M182.4 260.5h0M228.3 262.6h0M220.4 270.7h0M193.0 272.6h0M208.1 267.6h0M214.0 267.3h0M192.1 258.2h0M193.3 263.7h0M220.8 269.7h0M184.4 268.7h0M197.6 262.8h0M174.3 271.1h0M206.3 274.0h0M174.5 266.8h0M191.1 267.7h0M215.8 270.2h0M203.1 271.7h0M191.2 271.2h0M199.8 262.8h0M177.9 262.6h0M185.9 264.4h0M225.2 254.2h0M179.3 260.7h0M217.3 266.1h0M214.6 263.8h0M208.5 263.0h0M216.9 271.2h0M178.9 268.6h0M192.2 271.0h0M191.2 266.2h0M184.1 265.0h0M184.8 262.9h0M189.0 268.2h0M227.8 258.4h0M193.6 262.9h0M217.7 269.8h0M215.2 271.1h0M214.8 266.7h0M199.9 261.5h0M201.0 269.7h0M181.7 263.5h0M223.2 266.4h0M193.1 262.4h0M213.1 275.7h0M222.3 274.1h0M204.7 263.0h0M192.5 261.4h0M222.6 266.8h0M176.8 270.0h0M215.6 273.0h0M188.1 266.7h0M212.4 261.1h0M183.9 268.4h0M223.4 268.3h0M198.9 259.4h0M177.8 265.8h0M218.4 265.6h0M191.3 262.3h0M176.7 268.1h0M220.8 272.0h0M176.0 271.8h0M183.2 262.8h0M182.4 264.2h0M195.0 270.3h0M228.5 265.4h0M175.3 265.3h0M187.3 254.8h0M195.7 263.9h0M217.6 263.0h0M221.3 266.8h0M178.6 275.2h0M211.8 266.3h0M197.6 265.6h0M175.9 267.8h0M229.9 265.6h0M195.3 268.8h0M215.1 263.7h0M185.3 266.0h0M187.8 266.7h0M194.1 257.0h0M223.1 269.9h0M220.4 266.7h0M209.6 257.6h0M191.4 265.7h0M189.5 267.8h0M192.0 262.7h0M193.8 272.2h0M198.4 264.2h0M194.9 259.9h0M191.1 270.8h0M215.4 266.3h0M222.8 267.7h0M222.6 259.3h0M180.1 260.4h0M205.2 262.2h0M181.2 266.3h0M222.8 266.3h0M201.1 273.6h0M171.8 274.3h0M218.9 267.6h0M210.7 266.5h0M177.9 276.1h0M221.7 267.3h0M174.6 271.8h0M223.8 264.7h0M229.9 266.5h0M197.2 265.7h0M206.4 263.7h0M194.1 268.8h0M199.3 263.1h0M219.9 266.5h0M217.6 269.0h0M195.4 277.1h0M220.2 257.9h0M190.0 267.4h0M217.4 270.1h0M189.6 265.3h0M220.1 271.2h0M186.6 269.5h0M201.4 269.3h0M181.7 265.0h0M175.1 266.0h0M195.3 265.9h0M175.7 262.3h0M179.3 267.9h0M193.3 262.0h0M216.1 262.6h0M192.7 260.4h0M173.3 272.3h0M196.1 264.3h0M195.9 262.8h0M185.7 270.8h0M191.0 265.0h0M199.1 268.6h0M201.4 266.1h0M206.9 268.7h0M226.7 267.9h0M226.9 256.7h0M211.4 274.0h0M192.7 271.8h0M171.9 260.0h0M196.9 271.2h0M187.3 265.9h0M207.6 267.5h0M183.5 273.1h0M206.6 271.7h0M186.6 271.7h0M180.9 276.6h0M174.3 272.2h0M199.3 264.1h0M178.4 260.9h0M182.4 271.0h0M187.1 258.8h0M180.3 265.3h0M171.8 265.3h0M178.3 263.6h0M214.0 273.4h0M195.9 268.5h0M210.8 265.9h0M212.0 271.3h0M206.6 265.0h0M204.5 272.7h0M221.0 276.7h0M175.7 266.4h0M189.6 266.2h0M171.3 272.5h0M197.5 257.7h0M222.1 261.0h0M201.8 262.1h0M221.4 259.3h0M207.2 267.0h0M173.7 268.4h0M176.1 266.9h0M210.5 266.9h0M227.3 271.3h0M180.3 272.1h0M225.6 272.9h0M211.8 266.3h0M179.2 267.1h0M188.6 274.0h0M221.0 268.9h0M221.8 273.3h0M211.6 264.7h0M227.0 266.8h0M217.1 263.9h0M225.8 266.9h0M194.0 269.0h0M197.0 264.9h0M190.1 276.3h0M183.8 259.9h0M188.9 271.1h0M179.5 261.8h0M226.9 268.4h0M207.7 263.3h0M227.3 267.3h0M179.2 267.3h0M208.0 263.2h0M197.4 261.2h0M224.8 263.6h0M172.1 267.1h0M206.7 270.8h0M201.9 274.6h0M174.2 258.8h0M199.0 269.2h0M188.1 264.7h0M188.3 267.0h0M173.4 268.5h0M219.8 270.7h0M182.5 268.9h0M224.7 266.9h0M179.2 274.4h0M222.8 268.3h0M227.8 267.0h0M199.6 272.4h0M221.6 261.5h0M186.2 262.5h0M179.2 273.9h0M214.5 266.0h0M204.5 258.5h0M221.3 270.8h0M203.6 272.7h0M229.2 263.3h0M195.9 260.8h0M195.0 266.7h0M216.3 268.7h0M229.6 264.1h0M190.3 262.6h0M185.6 269.4h0M219.0 269.5h0M188.0 259.4h0M180.2 261.6h0M204.2 265.4h0M188.4 264.0h0M177.3 267.9h0M207.6 269.4h0M194.2 275.7h0M177.2 268.6h0M189.2 271.3h0M195.6 259.5h0M179.6 263.6h0M212.0 271.9h0M173.9 260.0h0M195.9 273.3h0M189.5 269.5h0M225.1 267.6h0M178.3 266.3h0M175.5 261.4h0M190.2 261.8h0M227.5 264.4h0M199.2 264.9h0M222.5 272.7h0M173.5 262.1h0M217.5 263.9h0M213.0 258.7h0M228.6 267.7h0M181.9 266.9h0M177.6 272.1h0M228.5 276.0h0M226.1 269.4h0M201.3 262.8h0M224.2 268.0h0M219.5 268.2h0M205.1 266.6h0M198.5 261.8h0M172.5 268.5h0M210.8 261.2h0M215.1 266.5h0M205.7 265.5h0M215.7 254.7h0M199.4 269.8h0M184.9 277.0h0M227.0 265.2h0M175.8 264.0h0M186.9 271.3h0M183.1 260.7h0M207.0 267.0h0M198.3 268.0h0M204.8 264.2h0M198.6 266.5h0M207.1 262.9h0M177.3 264.2h0M192.9 270.0h0M203.3 262.8h0M206.9 264.2h0M196.8 263.6h0M174.1 269.3h0M212.3 265.1h0M200.6 262.9h0M227.9 268.5h0M191.3 257.4h0M211.1 257.9h0M173.5 268.3h0M211.5 275.7h0M175.0 264.6h0M207.2 268.5h0M208.5 260.3h0M213.1 267.5h0M200.5 267.8h0M199.6 269.6h0M178.0 263.4h0M185.9 276.0h0M218.6 262.4h0M227.4 274.1h0M190.7 261.8h0M202.8 270.6h0M187.8 273.2h0M187.6 277.2h0M217.8 266.4h0M220.2 259.1h0M207.4 270.9h0M222.3 263.6h0M171.3 261.8h0M224.5 264.1h0M177.1 262.6h0M172.3 270.5h0M177.8 267.8h0M185.9 270.2h0M202.9 271.0h0M174.5 265.1h0M224.8 270.3h0M196.8 272.7h0M229.0 275.7h0M213.0 267.7h0M186.2 265.7h0M183.0 262.5h0M219.2 265.1h0M204.9 267.0h0M176.6 268.1h0M186.9 260.6h0M178.3 265.0h0M206.0 266.0h0M223.6 264.1h0M192.7 264.1h0M172.6 268.6h0M226.4 262.3h0M220.0 269.2h0M173.0 261.9h0M187.6 268.0h0M193.6 261.7h0M229.1 272.5h0M172.9 270.5h0M229.7 273.3h0M207.7 263.0h0M194.6 260.7h0M194.9 260.7h0M210.2 265.9h0M189.4 272.0h0M188.7 270.3h0M217.7 270.1h0M190.1 261.1h0M218.8 272.1h0M191.0 270.4h0M211.3 264.4h0M171.0 254.9h0M202.9 263.2h0M197.0 266.3h0M217.2 274.4h0M206.9 268.0h0M209.7 266.6h0M181.2 274.5h0M221.7 274.3h0M219.7 268.7h0M201.6 269.9h0M209.8 272.9h0M186.9 263.5h0M187.2 268.9h0M203.5 264.9h0M197.0 262.4h0M178.4 269.3h0M222.7 272.2h0M213.2 275.9h0M182.4 270.7h0M226.0 272.4h0M204.7 266.1h0M198.7 259.8h0M222.0 264.0h0M177.1 268.9h0M176.4 264.2h0M228.6 276.1h0M178.2 272.8h0M197.5 266.0h0M228.6 275.2h0M189.6 270.1h0M225.7 274.8h0M180.6 266.1h0M223.2 270.7h0M171.1 265.9h0M200.8 267.1h0M226.2 272.5h0M217.0 276.1h0M211.2 267.6h0M199.1 268.4h0M216.7 262.8h0M213.2 266.0h0M180.5 269.4h0M213.3 261.1h0M218.8 265.0h0M210.8 261.7h0M184.9 268.0h0M194.1 271.3h0M183.5 268.6h0M193.0 265.7h0M195.0 262.2h0M218.4 259.3h0M215.1 267.1h0M181.4 274.3h0M218.7 265.8h0M212.3 266.7h0M190.6 264.9h0M205.4 261.6h0M177.4 272.1h0M180.8 270.4h0M186.6 260.0h0M216.7 261.1h0M181.9 273.4h0M187.3 262.8h0M201.4 266.8h0M195.5 262.1h0M183.3 268.6h0M201.9 263.3h0M229.9 264.2h0M200.9 261.7h0M221.9 276.1h0M180.0 268.1h0M200.3 270.2h0M196.8 269.8h0M219.2 267.1h0M212.4 266.6h0M208.2 265.3h0M223.9 270.8h0M177.4 261.2h0M178.0 263.0h0M199.6 270.4h0M209.7 260.3h0M210.3 274.8h0M221.7 265.7h0M181.4 267.9h0M177.2 273.4h0M191.6 266.8h0M211.9 267.7h0M188.7 264.2h0M213.8 269.5h0M203.2 270.4h0M188.1 262.8h0M204.0 270.2h0M198.4 271.7h0M220.9 269.3h0M218.4 263.4h0M184.6 271.5h0M183.8 273.6h0M220.9 264.7h0M221.1 258.3h0M221.9 263.7h0M193.0 267.1h0M178.5 273.3h0M203.2 272.8h0M227.2 270.3h0M205.6 264.0h0M211.4 270.7h0M172.8 267.0h0M195.2 262.1h0M181.4 258.5h0M175.8 271.9h0M183.9 259.2h0M188.0 273.1h0M207.1 267.2h0M202.9 263.0h0M192.1 264.0h0M180.0 263.8h0M200.2 268.9h0M224.0 271.9h0M224.0 263.4h0M225.0 265.4h0M223.6 263.9h0M204.8 272.6h0M201.6 271.7h0M184.1 263.0h0M215.0 265.6h0M205.3 267.8h0M194.7 258.4h0M174.6 264.5h0M181.6 267.7h0M211.6 260.3h0M201.4 268.1h0M216.8 267.3h0M177.8 264.4h0M210.9 272.0h0M222.9 262.5h0M172.8 269.1h0M228.6 265.8h0M174.6 272.3h0M214.0 263.3h0M202.5 269.9h0M189.3 270.0h0M191.7 272.5h0M173.1 274.8h0M215.7 259.7h0M172.3 266.7h0M227.7 261.8h0M228.3 271.7h0M220.3 273.6h0M178.5 265.6h0M207.6 268.2h0M218.9 273.3h0M194.9 268.0h0M196.0 266.4h0M217.8 259.1h0M172.2 263.6h0M193.1 271.8h0M220.8 260.0h0M218.2 268.4h0M225.7 268.1h0M222.2 267.0h0M182.8 270.9h0M225.6 263.4h0M185.7 273.7h0M203.5 264.9h0M205.0 271.9h0M210.6 264.2h0M207.6 268.3h0M184.6 265.4h0M222.3 275.1h0M179.8 262.0h0M214.9 264.0h0M171.2 274.1h0M223.8 270.9h0M222.8 266.9h0M186.4 265.8h0M203.6 260.8h0M199.5 265.7h0M226.0 268.8h0M188.2 272.8h0M175.5 271.5h0M194.4 274.0h0M189.3 268.9h0M186.5 263.6h0M216.8 265.4h0M193.6 274.4h0M179.3 267.6h0M181.9 273.8h0M222.3 259.4h0M198.4 264.7h0M182.9 263.2h0M199.2 268.3h0M177.5 263.2h0M199.3 260.6h0M185.1 266.7h0M193.6 256.0h0M225.9 264.2h0M199.6 269.1h0M214.6 261.5h0M190.2 266.8h0M182.4 262.8h0M191.5 265.4h0M183.5 268.2h0M201.0 269.3h0M210.7 269.1h0M186.6 263.4h0M212.5 274.4h0M201.2 268.6h0M217.9 263.9h0M215.9 273.5h0M226.6 265.1h0M211.5 276.6h0M174.8 271.2h0M191.3 266.5h0M194.4 264.7h0M222.5 263.0h0M222.1 263.3h0M183.8 265.7h0M224.0 273.6h0M195.4 268.0h0M210.7 266.7h0M210.5 269.2h0M196.4 265.6h0M204.2 261.0h0M198.8 259.9h0M211.3 274.0h0M219.8 265.7h0M203.0 274.9h0M222.8 276.4h0M200.6 268.5h0M174.2 270.9h0M206.2 265.4h0M190.1 266.5h0M214.5 267.5h0M187.8 267.1h0M209.0 274.5h0M182.4 266.7h0M209.3 271.5h0M206.5 267.7h0M211.8 270.2h0M172.9 276.1h0M197.6 259.6h0M215.0 272.9h0M197.4 264.1h0M188.2 268.1h0M215.4 265.5h0M211.0 264.8h0M197.1 260.5h0M220.7 254.0h0M229.7 271.4h0M209.8 266.0h0M228.0 258.0h0M214.5 270.5h0M197.6 274.9h0M171.5 269.3h0M214.4 258.7h0M196.3 264.6h0M221.9 268.5h0M223.2 266.8h0M220.2 272.6h0M203.3 262.4h0M208.3 264.0h0M208.8 254.8h0M197.3 272.7h0M194.7 270.3h0M228.7 265.0h0M171.1 258.2h0M222.2 271.4h0M178.7 260.1h0M177.6 260.8h0M216.4 257.5h0M171.9 260.0h0M210.0 262.4h0M185.2 261.7h0M221.6 272.5h0M204.3 270.6h0M184.5 267.4h0M205.4 264.2h0M214.2 266.8h0M221.1 260.4h0M172.1 269.0h0M225.6 262.4h0M219.7 264.5h0M184.7 268.7h0M206.5 262.7h0M201.9 260.1h0M206.7 272.1h0M185.4 258.4h0M225.5 260.6h0M212.7 261.2h0M204.4 263.4h0M226.9 266.3h0M192.9 250.9h0M202.7 264.5h0M208.3 274.0h0M207.4 273.0h0M190.8 271.4h0M206.1 266.6h0M196.3 268.1h0M213.9 264.2h0M192.4 258.6h0M197.6 268.8h0M205.8 272.4h0M181.9 268.5h0M203.2 266.9h0M222.8 271.4h0M212.0 268.6h0M200.5 272.6h0M178.6 264.9h0M204.9 258.0h0M195.3 269.5h0M193.2 271.5h0M213.3 263.1h0M228.5 268.2h0M201.6 270.6h0M182.0 253.2h0M197.6 270.9h0M221.2 266.0h0M215.5 261.1h0M192.0 259.0h0M202.5 265.3h0M212.7 270.5h0M174.6 263.7h0M187.4 265.4h0M221.5 270.3h0M172.3 262.2h0M211.5 266.6h0M225.6 266.0h0M220.7 269.4h0M180.0 271.3h0M178.5 266.1h0M193.2 274.1h0M174.5 264.6h0M207.2 265.0h0M209.8 267.4h0M211.2 265.7h0M219.7 270.9h0M189.9 252.5h0M171.9 258.0h0M181.6 256.0h0M219.5 274.1h0M179.7 271.2h0M177.3 263.5h0M211.5 269.0h0M206.9 258.0h0M225.1 265.4h0M218.9 274.5h0M222.8 270.3h0M171.7 264.5h0M227.0 272.9h0M186.5 267.6h0M176.5 268.6h0M224.3 268.3h0M188.6 270.9h0M179.5 273.8h0M204.4 267.3h0M219.8 269.0h0M190.1 266.5h0M221.5 268.5h0M228.1 262.9h0M202.5 272.1h0M184.6 270.6h0M188.6 268.7h0M180.9 267.0h0M197.1 263.7h0M194.4 262.3h0M188.2 261.4h0M194.8 263.0h0M186.5 271.7h0M221.6 269.2h0M225.0 259.8h0M196.7 262.1h0M177.9 273.9h0M188.3 275.6h0M211.4 271.4h0M215.6 263.6h0M174.9 269.4h0M191.5 263.9h0M204.1 269.4h0M194.3 269.3h0M197.4 269.1h0M187.8 263.7h0M176.3 266.9h0M217.2 255.6h0M191.3 265.0h0M175.1 262.1h0M182.9 271.3h0M173.9 274.1h0M222.6 268.7h0M181.2 262.1h0M226.4 261.7h0M228.3 271.1h0M178.2 265.9h0M217.6 266.0h0M183.7 261.8h0M213.0 268.6h0M228.0 268.4h0M198.3 271.4h0M183.7 262.6h0M209.9 267.2h0M206.9 260.1h0M185.4 268.5h0M202.8 267.4h0M201.0 265.5h0M195.2 271.9h0M193.0 260.9h0M225.4 275.3h0M210.0 269.5h0M195.2 270.3h0M204.2 268.8h0M208.0 263.8h0M222.3 264.5h0M197.6 272.3h0M219.0 267.3h0M180.3 269.0h0M214.0 265.6h0M212.4 271.7h0M171.7 270.7h0M209.0 260.8h0M175.3 277.4h0M224.6 272.7h0M203.7 271.6h0M179.9 269.1h0M214.2 267.2h0M187.1 271.8h0M204.1 267.0h0M218.2 261.9h0M213.1 267.3h0M218.4 267.8h0M212.9 272.3h0M193.7 261.2h0M183.8 265.2h0M191.0 265.8h0M220.1 272.4h0M172.4 273.0h0M175.6 268.4h0M225.2 272.8h0M171.6 267.9h0M203.8 267.9h0M223.8 255.8h0M201.7 262.8h0M214.9 261.7h0M172.8 269.6h0M214.6 267.7h0M207.4 261.9h0M208.4 267.5h0M187.3 266.7h0M207.0 269.3h0M216.0 264.5h0M220.8 263.6h0M175.5 273.4h0M223.3 265.9h0M213.0 272.4h0M203.2 262.8h0M214.4 266.1h0M215.1 265.6h0M203.5 262.3h0M221.7 270.8h0M222.6 260.4h0M218.7 268.4h0M184.1 256.4h0M193.8 270.7h0M225.3 267.4h0M204.4 272.9h0M181.0 277.4h0M218.6 263.7h0M181.4 267.2h0M227.9 260.7h0M209.9 264.9h0M226.9 267.5h0M189.5 267.4h0M223.1 271.1h0M189.1 269.7h0M175.5 272.1h0M215.5 263.7h0M226.0 267.9h0M225.5 261.9h0M178.9 266.3h0M203.8 253.4h0M210.4 266.6h0M189.5 267.4h0M214.1 264.8h0M193.2 265.1h0M222.1 258.5h0M204.2 263.8h0M196.3 264.1h0M200.6 268.2h0M195.4 269.4h0M199.6 264.9h0M212.2 266.4h0M190.4 268.9h0M172.4 262.6h0M211.1 272.2h0M197.5 277.3h0M222.0 269.0h0M172.3 264.7h0M216.2 268.2h0M188.8 272.9h0M219.1 273.5h0M190.0 260.4h0M178.2 268.7h0M209.2 263.4h0M183.5 264.9h0M218.1 268.4h0M203.7 269.8h0M221.2 265.7h0M210.8 262.8h0M197.7 266.1h0M206.5 261.9h0M174.3 275.8h0M176.9 259.3h0M185.8 270.1h0M201.3 267.6h0M223.9 267.1h0M171.5 261.9h0M186.5 264.6h0M176.3 265.4h0M219.4 264.4h0M223.2 265.8h0M203.6 267.6h0M183.9 264.8h0M219.7 269.2h0M190.6 270.7h0M207.5 264.4h0M217.9 270.7h0M191.0 267.3h0M183.6 264.2h0M175.1 269.4h0M225.2 272.6h0M173.1 265.4h0M219.4 257.9h0M226.2 270.9h0M195.6 272.0h0M179.0 261.5h0M211.6 266.3h0M182.6 269.3h0M196.8 255.2h0M190.5 270.9h0M213.9 270.6h0M215.1 271.0h0M207.5 274.4h0M201.0 261.7h0M214.7 271.7h0M183.0 255.7h0M181.2 265.1h0M182.3 270.5h0M197.7 263.3h0M179.4 257.8h0M225.7 268.5h0M175.2 267.8h0M226.0 263.3h0M217.8 268.1h0M203.7 271.5h0M202.1 271.9h0M218.0 269.0h0M190.3 260.7h0M219.0 265.4h0M196.5 255.5h0M218.4 261.6h0M201.5 267.7h0M228.6 269.6h0M207.3 266.7h0M209.0 266.8h0M184.8 257.1h0M229.9 260.4h0M174.8 261.1h0M172.5 263.9h0M192.0 263.8h0M186.4 271.9h0M175.1 261.7h0M189.9 263.5h0M216.1 264.1h0M217.6 263.9h0M175.6 264.2h0M195.6 256.6h0M196.3 272.6h0M181.2 270.2h0M179.8 270.0h0M189.9 267.3h0M193.7 269.1h0M206.7 265.0h0M209.6 256.9h0M207.2 267.4h0M195.9 266.9h0M181.3 260.2h0M177.6 255.5h0M179.1 272.5h0M214.3 261.6h0M182.3 265.7h0M198.9 263.3h0M185.5 275.2h0M186.6 259.3h0M214.9 272.0h0M217.5 254.1h0M202.7 271.4h0M207.9 264.3h0M208.5 255.4h0M218.1 267.0h0M171.1 266.4h0M186.9 258.6h0M217.9 268.5h0M230.0 266.6h0M212.3 269.1h0M219.6 259.7h0M181.9 262.9h0M173.2 261.9h0M226.4 267.3h0M185.3 264.1h0M187.3 261.7h0M208.5 273.6h0M201.4 264.0h0M220.8 272.2h0M185.2 270.9h0M181.4 263.1h0M175.6 257.5h0M217.7 267.7h0M209.6 270.1h0M211.0 272.6h0M186.7 268.7h0M182.7 268.9h0M214.0 263.5h0M218.3 263.1h0M189.6 272.5h0M217.8 260.0h0M218.4 268.3h0M181.1 269.0h0M186.4 257.7h0M215.8 265.3h0M212.7 269.6h0M193.5 275.1h0M218.2 274.9h0M211.8 265.0h0M196.7 265.1h0M200.3 264.4h0M183.4 267.9h0M195.0 271.1h0M177.7 261.5h0M201.4 265.9h0M175.3 263.8h0M171.5 262.9h0M227.8 264.2h0M179.1 276.0h0M189.9 275.6h0M223.1 274.2h0M175.9 258.4h0M205.0 268.3h0M205.6 268.9h0M209.6 263.2h0M200.3 269.8h0M224.2 265.5h0M208.9 264.8h0M180.2 268.1h0M205.2 269.2h0M174.1 265.9h0M186.5 266.7h0M224.3 261.6h0M174.3 266.6h0M191.2 270.4h0M175.0 267.3h0M223.7 265.9h0M174.3 259.5h0M204.3 272.5h0M198.3 260.9h0M223.0 270.2h0M173.8 265.0h0M171.9 270.9h0M219.7 272.1h0M181.8 265.2h0M196.9 251.5h0M224.7 256.5h0M189.8 261.9h0M183.5 262.1h0M219.7 268.3h0M218.3 276.8h0M229.6 270.2h0M217.8 266.1h0M206.4 273.6h0M183.3 265.9h0M215.4 271.2h0M203.7 268.7h0M195.9 257.1h0M205.5 271.7h0M180.1 275.7h0M226.1 265.1h0M193.0 270.7h0M225.9 269.4h0M217.0 265.5h0M209.3 264.9h0M187.7 271.9h0M212.3 263.6h0M192.7 264.1h0M225.2 271.1h0M192.3 271.5h0M221.7 274.7h0M173.8 263.9h0M218.6 260.1h0M200.5 272.4h0M206.4 259.1h0M207.6 264.8h0M229.0 265.8h0M207.6 275.5h0M226.9 267.0h0M212.7 260.8h0M197.5 266.7h0M225.3 273.6h0M215.6 257.8h0M212.2 260.2h0M225.2 272.0h0M182.2 267.5h0M181.7 261.8h0M206.6 265.8h0M191.6 267.2h0M180.2 261.1h0M187.0 264.0h0M173.4 274.2h0M220.1 268.5h0M178.2 272.5h0M172.6 266.7h0M203.7 264.1h0M186.6 268.4h0M179.9 262.3h0M201.6 268.7h0M195.5 265.3h0M193.8 265.4h0M210.0 265.5h0M180.8 262.1h0M199.9 273.8h0M225.3 259.3h0M192.3 268.0h0M214.4 260.5h0M193.1 271.4h0M185.2 265.8h0M194.1 267.8h0M175.2 269.2h0M187.9 268.7h0M189.3 267.8h0M219.9 268.7h0M221.3 268.6h0M216.1 264.6h0M200.3 265.4h0M175.2 265.7h0M211.6 263.3h0M200.7 264.2h0M218.7 273.5h0M199.4 259.7h0M173.7 275.4h0M201.7 264.2h0M178.3 270.0h0M223.6 266.9h0M174.0 266.0h0M196.7 269.7h0M179.1 275.4h0M204.1 266.3h0M174.0 266.7h0M228.7 264.2h0M209.5 277.1h0M220.3 272.8h0M230.5 272.5h0M237.3 267.1h0M232.7 257.4h0M232.1 269.3h0M234.3 258.0h0M235.1 263.8h0M237.6 271.7h0M233.3 264.0h0M231.7 263.5h0M233.6 256.2h0M240.4 270.5h0M232.4 269.0h0M232.8 264.5h0M230.2 268.7h0M239.4 258.8h0M240.9 262.2h0M231.5 267.9h0M247.1 271.3h0M236.4 266.7h0M235.8 260.7h0M230.8 264.4h0M231.5 272.5h0M247.8 263.9h0M234.3 268.1h0M231.8 269.0h0M232.1 264.1h0M239.1 267.0h0M251.1 257.9h0M231.5 264.0h0M233.3 267.0h0M232.8 270.0h0M233.1 273.4h0M234.8 264.5h0M234.4 269.2h0M240.9 266.2h0M239.6 262.9h0M235.5 263.0h0M235.1 266.6h0M230.0 266.9h0M230.0 263.1h0M232.7 266.7h0M235.9 270.2h0M233.7 265.5h0M233.0 255.7h0M233.8 265.1h0M230.9 267.8h0M235.5 272.8h0M242.3 266.6h0M231.4 261.9h0M233.2 274.7h0M232.7 270.2h0M234.0 265.6h0M233.2 265.6h0M236.3 265.6h0M231.9 267.6h0M235.8 258.3h0M233.5 267.5h0M236.1 263.8h0M234.8 269.3h0M232.5 268.5h0M235.0 261.6h0M234.4 273.6h0M243.2 270.6h0M234.3 262.3h0M231.1 261.6h0M241.7 263.4h0M233.9 268.5h0M239.6 273.1h0M230.4 262.3h0M231.5 262.9h0M234.8 269.4h0M235.4 266.6h0M240.4 266.5h0M233.5 266.2h0M230.8 265.2h0M230.6 275.5h0M231.1 271.7h0M237.8 265.2h0M232.3 273.1h0M231.3 276.2h0M235.4 269.2h0M233.8 268.3h0M236.7 264.4h0M232.3 267.4h0M246.7 267.9h0M237.7 273.3h0M242.7 262.1h0M232.6 258.7h0M236.3 264.3h0M230.9 268.6h0M233.6 256.8h0M235.6 265.8h0M231.9 262.8h0M238.0 261.2h0M232.4 267.5h0M234.4 272.6h0M245.4 260.0h0M231.8 267.9h0M233.6 265.9h0M230.8 270.0h0M230.1 266.8h0M241.2 263.6h0M231.8 271.2h0M235.9 268.9h0M232.1 261.7h0M240.6 256.8h0M232.3 263.2h0M237.6 267.8h0M241.7 270.6h0M232.3 263.9h0M236.8 264.8h0M238.6 257.7h0M232.1 264.5h0M234.8 267.3h0M235.3 263.8h0M241.4 266.2h0M230.4 261.9h0M232.0 262.2h0M231.3 268.1h0M232.0 259.0h0M235.4 266.8h0M240.1 272.6h0M232.9 263.9h0M239.7 264.2h0M234.4 262.6h0M232.6 260.2h0M231.0 263.8h0M240.3 260.4h0M231.8 265.5h0M232.2 263.9h0M233.1 261.0h0M240.1 266.8h0M236.3 271.6h0M230.5 270.5h0M241.0 265.2h0M234.5 266.5h0M232.6 261.4h0M231.4 265.4h0M237.4 269.8h0M230.3 270.3h0M232.1 273.2h0M236.5 259.1h0M232.9 274.3h0M234.6 268.4h0M234.6 274.2h0M233.2 266.6h0M232.1 272.6h0M231.2 266.4h0M237.8 261.3h0M239.5 268.1h0M235.5 264.0h0M239.4 266.3h0M239.3 269.1h0M235.2 270.4h0M239.8 269.7h0M240.2 271.3h0M234.6 258.8h0M233.3 272.3h0M241.2 262.4h0M230.8 267.0h0M237.8 264.5h0M233.7 260.8h0M231.9 270.9h0M235.9 261.5h0M230.8 263.8h0M231.1 273.7h0M230.8 255.4h0M236.3 258.2h0M239.8 271.2h0M230.6 264.5h0M231.8 270.4h0M232.6 266.5h0M230.7 264.1h0M235.7 270.0h0M235.8 263.0h0M231.9 263.8h0M235.3 267.7h0M235.4 261.1h0M212.8 272.8h0M211.1 264.6h0M231.6 268.0h0M239.5 270.5h0M233.6 271.8h0M219.2 266.9h0M220.1 269.6h0M216.4 267.0h0M224.2 262.2h0M232.5 271.8h0M223.7 268.3h0M224.1 270.0h0M198.6 267.8h0M226.7 265.4h0M214.7 266.8h0M222.3 269.7h0M227.1 264.0h0M225.2 274.0h0M230.2 276.6h0M236.5 260.5h0M206.2 271.8h0M212.0 267.0h0M237.5 270.7h0M228.2 269.2h0M218.6 267.9h0M222.3 271.7h0M224.5 268.9h0M232.8 273.8h0M221.8 269.7h0M224.4 263.5h0M213.8 268.0h0M236.1 268.6h0M228.1 266.5h0M220.7 264.2h0M213.8 275.5h0M224.3 268.3h0M231.5 268.4h0M242.9 262.8h0M239.8 270.5h0M221.5 268.2h0M221.2 272.4h0M216.7 274.5h0M228.2 266.3h0M218.5 266.0h0M229.2 272.7h0M227.2 272.4h0M227.9 269.7h0M216.8 271.1h0M233.8 267.5h0M223.0 268.5h0M214.9 268.6h0M224.3 261.1h0M226.0 271.2h0M225.1 271.3h0M232.2 265.3h0M234.3 266.7h0M242.9 269.6h0M223.9 271.1h0M234.4 268.6h0M204.0 267.0h0M239.7 270.1h0M224.5 269.0h0M234.9 265.1h0M222.8 267.5h0M229.1 267.3h0M229.8 270.9h0M219.9 264.0h0M220.2 265.7h0M201.6 267.2h0M229.2 268.7h0M223.5 276.9h0M222.9 268.0h0M234.6 272.3h0M227.6 271.3h0M226.6 273.1h0M209.6 274.7h0M226.0 270.6h0M222.4 265.2h0M232.6 267.3h0M220.8 273.9h0M214.9 276.1h0M222.9 273.1h0M239.6 277.0h0M217.8 271.0h0M235.1 265.7h0M223.4 268.9h0M208.5 269.6h0M229.8 271.8h0M243.7 271.6h0M228.4 265.5h0M216.2 272.7h0M223.0 266.6h0M217.7 269.6h0M247.8 270.9h0M229.2 271.1h0M205.7 270.4h0M231.4 266.7h0M228.4 268.1h0M216.6 271.9h0M219.9 267.0h0M224.2 264.5h0M238.6 259.6h0M220.5 268.6h0M218.7 265.4h0M232.5 268.6h0M219.7 264.8h0M216.4 267.0h0M223.7 267.3h0M231.4 271.9h0M226.0 265.5h0M221.8 264.4h0M236.3 268.9h0M236.0 271.5h0M211.9 265.3h0M215.5 270.4h0M217.4 268.6h0M223.0 270.3h0M226.1 262.0h0M224.2 268.9h0M225.4 267.6h0M228.4 269.3h0M214.5 266.1h0M207.2 268.1h0M227.2 260.8h0M234.8 268.5h0M226.4 273.3h0M221.5 269.2h0M229.3 268.8h0M222.2 269.7h0M214.3 273.5h0M221.7 266.1h0M231.0 263.3h0M227.4 264.6h0M230.3 266.1h0M220.8 268.9h0M229.3 271.4h0M236.3 265.9h0M222.2 264.9h0M220.9 271.7h0M234.7 272.3h0M225.7 265.8h0M215.5 271.2h0M221.5 267.9h0M235.4 266.8h0M227.8 268.0h0M239.8 265.5h0M230.0 262.5h0M227.0 263.5h0M233.4 265.8h0M220.0 269.5h0M233.5 269.9h0M224.2 271.5h0M222.9 265.7h0M228.1 268.4h0M221.2 263.3h0M215.9 265.0h0M217.8 272.1h0M229.1 268.0h0M227.3 275.2h0M225.6 270.9h0M230.7 266.8h0M217.8 266.0h0M221.7 261.1h0M238.0 273.1h0M217.4 272.0h0M222.8 275.9h0M229.2 269.7h0M226.9 264.7h0M223.0 262.2h0M225.9 267.1h0M232.7 268.4h0M219.4 263.2h0M217.4 271.0h0M231.9 271.9h0M221.8 265.0h0M223.6 267.6h0M223.5 263.4h0M221.6 272.1h0M210.6 265.3h0M224.2 264.4h0M221.3 261.4h0M214.2 264.8h0M220.5 262.2h0M226.9 272.3h0M238.8 270.7h0M220.7 264.0h0M235.7 265.3h0M221.4 268.2h0M228.7 268.8h0M223.0 264.6h0M231.0 273.3h0M226.1 270.7h0M221.9 275.7h0M212.7 258.5h0M232.9 262.8h0M213.1 271.0h0M220.2 269.2h0M239.1 267.4h0M226.9 264.3h0M225.7 270.3h0M226.1 266.6h0M227.0 273.3h0M222.3 272.4h0M227.8 271.8h0M223.8 261.8h0M222.4 269.6h0M228.8 274.8h0M230.1 275.1h0M227.9 273.0h0M232.6 272.6h0M239.9 265.7h0M238.7 273.8h0M225.9 275.3h0M216.4 270.0h0M234.2 270.3h0M226.0 268.0h0M231.3 269.2h0M222.3 267.4h0M231.9 270.2h0M216.3 267.9h0M226.5 263.0h0M214.5 266.2h0M241.2 270.0h0M223.1 269.2h0M208.6 273.7h0M235.3 272.0h0M232.9 273.2h0M236.1 268.3h0M216.3 272.4h0M228.2 265.9h0M235.7 266.0h0M223.8 271.7h0M228.4 269.4h0M223.6 265.6h0M222.9 271.9h0M236.2 273.8h0M219.2 271.3h0M225.6 273.2h0M229.9 271.8h0M225.7 271.8h0M232.0 265.6h0M209.7 261.7h0M234.3 267.2h0M216.0 256.7h0M223.6 266.5h0M222.6 264.4h0M229.1 268.9h0M223.9 265.9h0M222.0 268.5h0M230.8 265.2h0M241.6 267.5h0M220.5 273.9h0M220.1 264.7h0M220.7 262.1h0M215.7 273.6h0M215.7 271.2h0M221.6 268.3h0M230.9 267.0h0M221.3 269.6h0M218.8 267.1h0M224.4 271.9h0M219.0 267.4h0M246.6 266.2h0M237.4 270.4h0M225.5 265.5h0M212.0 270.5h0M220.8 264.2h0M218.1 266.5h0M218.3 269.1h0M208.1 265.9h0M221.1 272.0h0M220.5 268.1h0M219.9 269.2h0M215.1 261.3h0M228.1 270.5h0M218.4 268.8h0M207.4 261.3h0M217.1 269.3h0M231.5 269.6h0M197.9 239.5h0M193.7 257.3h0M190.2 245.0h0M206.1 254.8h0M206.1 250.6h0M203.4 245.6h0M228.1 254.6h0M205.5 251.4h0M207.5 258.7h0M188.2 248.3h0M209.2 256.7h0M216.0 239.1h0M195.9 226.2h0M228.9 256.6h0M199.5 247.0h0M207.4 251.9h0M201.7 236.2h0M201.5 247.4h0M174.0 228.1h0M215.3 250.6h0M181.5 239.8h0M219.5 249.2h0M193.5 246.8h0M199.9 240.7h0M233.5 254.5h0M195.0 251.0h0M203.3 261.2h0M191.9 247.3h0M203.7 254.5h0M210.3 254.0h0M223.1 268.1h0M176.8 259.6h0M204.9 240.7h0M212.3 255.7h0M215.6 252.8h0M197.2 260.2h0M206.7 223.5h0M226.4 246.5h0M209.8 231.3h0M229.1 266.9h0M192.4 246.2h0M197.9 251.5h0M206.1 251.2h0M194.4 246.8h0M212.9 253.1h0M193.4 239.7h0M209.5 228.3h0M189.1 245.8h0M196.3 244.0h0M208.6 242.4h0M212.4 243.0h0M195.1 257.0h0M189.1 235.4h0M211.9 238.5h0M194.7 250.6h0M210.2 262.6h0M220.1 238.4h0M212.9 239.4h0M189.0 232.3h0M219.5 254.6h0M218.2 255.9h0M199.2 259.1h0M201.1 245.3h0M221.6 249.0h0M209.4 242.2h0M210.6 259.4h0M217.9 244.6h0M211.8 240.7h0M237.1 253.4h0M221.3 251.0h0M207.6 251.5h0M207.3 241.4h0M202.7 263.2h0M219.4 269.5h0M192.8 232.6h0M215.8 251.2h0M199.5 235.5h0M185.6 238.8h0M216.9 238.1h0M210.8 245.7h0M209.2 250.6h0M202.6 247.8h0M205.8 234.0h0M199.0 225.7h0M220.9 233.1h0M221.3 263.1h0M205.6 245.2h0M206.3 247.9h0M209.3 262.2h0M216.2 240.1h0M208.7 251.9h0M201.1 239.2h0M203.6 248.3h0M209.3 229.7h0M204.6 242.8h0M201.9 245.3h0M219.9 251.9h0M210.9 234.4h0M216.4 247.5h0M196.5 253.1h0M215.5 248.8h0M206.6 255.6h0M203.5 252.8h0M198.7 247.5h0M199.2 241.6h0M201.1 246.5h0M207.6 238.4h0M205.4 253.4h0M228.5 256.4h0M211.6 260.2h0M209.0 269.9h0M205.3 255.1h0M197.5 250.3h0M197.4 246.6h0M210.3 256.5h0M189.5 256.0h0M224.3 249.3h0M223.7 239.5h0M190.0 229.4h0M219.8 260.5h0M218.6 255.1h0M218.9 255.8h0M213.9 232.8h0M224.6 246.6h0M197.5 229.6h0M201.3 234.6h0M213.1 243.5h0M207.0 240.7h0M190.6 258.3h0M215.5 237.3h0M217.8 244.2h0M204.1 239.2h0M210.6 249.0h0M217.0 257.2h0M183.1 233.0h0M200.3 229.2h0M196.8 240.4h0M204.8 250.6h0M192.7 232.8h0M192.4 252.8h0M208.8 237.9h0M226.6 246.4h0M192.8 239.0h0M224.2 270.7h0M217.0 257.7h0M217.5 253.6h0M221.0 241.3h0M201.8 235.0h0M218.9 243.7h0M189.8 258.2h0M197.6 257.5h0M210.1 249.6h0M215.0 242.6h0M191.3 225.8h0M185.4 237.0h0M211.0 253.5h0M209.7 253.5h0M214.2 253.1h0M205.6 240.1h0M192.0 248.2h0M219.0 249.0h0M215.1 258.1h0M208.4 250.2h0M230.5 261.3h0M209.1 251.1h0M223.2 247.1h0M205.0 258.3h0M174.4 228.3h0M193.7 250.2h0M176.1 234.6h0M203.9 242.9h0M219.5 253.4h0M187.6 237.0h0M214.5 239.4h0M203.4 237.3h0M216.5 239.0h0M210.7 248.6h0M195.5 247.3h0M212.9 248.1h0M206.1 231.9h0M216.5 251.2h0M228.0 262.3h0M204.4 235.5h0M224.7 243.4h0M205.5 255.8h0M213.3 247.4h0M208.7 258.3h0M199.1 241.9h0M208.0 233.7h0M201.6 245.5h0M212.8 248.4h0M194.9 246.9h0M195.9 236.1h0M216.2 245.4h0M212.5 268.6h0M212.9 243.5h0M212.9 264.3h0M218.1 239.4h0M211.9 250.9h0M216.8 253.6h0M198.1 253.4h0M212.3 248.8h0M198.5 238.7h0M193.0 244.5h0M204.1 232.2h0M213.8 225.0h0M206.9 232.3h0M226.4 267.9h0M214.2 257.4h0M211.4 266.5h0M207.9 252.4h0M191.8 229.0h0M207.3 237.8h0M207.0 250.4h0M226.0 244.4h0M198.0 235.7h0M205.3 236.4h0M198.7 237.7h0M208.3 229.2h0M187.6 246.1h0M210.0 241.2h0M206.8 259.5h0M208.7 263.8h0M235.8 254.5h0M205.8 257.1h0M212.0 259.4h0M206.5 249.2h0M218.7 248.8h0M231.5 266.4h0M225.4 258.8h0M210.4 246.5h0M192.6 238.6h0M211.5 248.6h0M188.4 251.3h0M197.0 251.2h0M200.1 239.7h0M194.4 242.4h0M206.7 248.8h0M202.6 242.2h0M198.5 244.2h0M210.8 238.9h0M198.5 237.2h0M220.9 253.9h0M213.7 251.5h0M201.8 243.0h0M211.5 269.5h0M199.1 243.5h0M199.7 252.1h0M218.0 253.0h0M188.9 237.9h0M211.7 255.2h0M227.9 263.6h0M181.9 240.6h0M233.2 259.3h0M185.2 268.7h0M181.6 232.0h0M183.1 238.9h0M193.6 249.2h0M199.9 245.5h0M185.3 233.6h0M204.3 242.0h0M215.5 247.5h0M197.8 242.3h0M207.8 248.1h0M213.3 264.4h0M225.8 254.7h0M205.5 243.4h0M214.5 256.1h0M212.2 255.0h0M207.0 237.2h0M202.6 240.4h0M210.5 237.9h0M214.2 252.6h0M191.7 251.5h0M202.3 244.0h0M210.2 260.1h0M209.8 242.7h0M210.1 245.2h0M224.7 251.6h0M218.2 252.3h0M192.4 259.3h0M224.1 241.5h0M198.5 250.5h0M197.1 245.5h0M218.5 261.9h0M202.7 233.5h0M187.5 231.1h0M213.3 265.5h0M211.4 260.7h0M212.4 259.3h0M190.6 241.8h0M215.4 259.9h0M199.4 245.5h0M216.5 239.7h0M192.4 242.2h0M195.5 241.8h0M184.2 231.4h0M197.6 239.4h0M218.3 243.9h0M209.0 253.0h0" fill="none" stroke="#000" stroke-width="0.8" stroke-linecap="square" stroke-opacity="0.72"/>
<path d="M200 183.6V278.7M169.9 248.4H271.5" stroke="#333" stroke-width="1" fill="none"/>
<path d="M181.0 278.7v1.8M185.3 278.7v1.8M188.3 278.7v1.8M190.7 278.7v1.8M192.6 278.7v1.8M194.2 278.7v1.8M195.6 278.7v1.8M196.9 278.7v1.8M205.3 278.7v1.8M209.6 278.7v1.8M212.7 278.7v1.8M215.0 278.7v1.8M216.9 278.7v1.8M218.6 278.7v1.8M220.0 278.7v1.8M221.2 278.7v1.8M229.7 278.7v1.8M233.9 278.7v1.8M237.0 278.7v1.8M239.3 278.7v1.8M241.3 278.7v1.8M242.9 278.7v1.8M244.3 278.7v1.8M245.6 278.7v1.8M254.0 278.7v1.8M258.3 278.7v1.8M261.3 278.7v1.8M263.7 278.7v1.8M265.6 278.7v1.8M267.2 278.7v1.8M268.6 278.7v1.8M269.9 278.7v1.8M198.0 278.7v2.4M222.0 278.7v2.4M246.5 278.7v2.4M271.0 278.7v2.4M169.9 272.9h-2M169.9 268.8h-2M169.9 265.9h-2M169.9 263.6h-2M169.9 261.7h-2M169.9 260.1h-2M169.9 258.8h-2M169.9 257.6h-2M169.9 249.4h-2M169.9 245.3h-2M169.9 242.4h-2M169.9 240.1h-2M169.9 238.2h-2M169.9 236.6h-2M169.9 235.3h-2M169.9 234.1h-2M169.9 225.9h-2M169.9 221.8h-2M169.9 218.9h-2M169.9 216.6h-2M169.9 214.7h-2M169.9 213.1h-2M169.9 211.8h-2M169.9 210.6h-2M169.9 202.4h-2M169.9 198.3h-2M169.9 195.4h-2M169.9 193.1h-2M169.9 191.2h-2M169.9 189.6h-2M169.9 188.3h-2M169.9 187.1h-2M169.9 256.5h-2.5M169.9 233.0h-2.5M169.9 210.0h-2.5M169.9 186.0h-2.5" stroke="#333" stroke-width="0.6" fill="none"/>
<text x="173.2" y="198" font-size="11.6" font-weight="bold" text-anchor="start" stroke="#000" stroke-width="0.3" letter-spacing="0.3">27.7</text>
<text x="267.2" y="198.5" font-size="11.6" font-weight="bold" text-anchor="end" stroke="#000" stroke-width="0.3" letter-spacing="0.3">3.8</text>
<text x="268.6" y="261.6" font-size="11.6" font-weight="bold" text-anchor="end" stroke="#000" stroke-width="0.3" letter-spacing="0.3">31.8</text>
<text x="216" y="178.8" font-size="14" font-weight="bold" text-anchor="middle" stroke="#000" stroke-width="0.3" >Ihh</text>
<text x="155" y="259.3" font-size="7.6" font-weight="bold" text-anchor="start" fill="#000" stroke="#000" stroke-width="0.2">10<tspan dy="-3.1" dx="0.2" font-size="5.6">0</tspan></text>
<text x="155" y="236.29999999999998" font-size="7.6" font-weight="bold" text-anchor="start" fill="#000" stroke="#000" stroke-width="0.2">10<tspan dy="-3.1" dx="0.2" font-size="5.6">1</tspan></text>
<text x="155" y="212.2" font-size="7.6" font-weight="bold" text-anchor="start" fill="#000" stroke="#000" stroke-width="0.2">10<tspan dy="-3.1" dx="0.2" font-size="5.6">2</tspan></text>
<text x="155" y="188.1" font-size="7.6" font-weight="bold" text-anchor="start" fill="#000" stroke="#000" stroke-width="0.2">10<tspan dy="-3.1" dx="0.2" font-size="5.6">3</tspan></text>
<text x="190.6" y="290.2" font-size="7.6" font-weight="bold" text-anchor="start" fill="#000" stroke="#000" stroke-width="0.2">10<tspan dy="-3.1" dx="0.2" font-size="5.6">0</tspan></text>
<text x="216.7" y="290.2" font-size="7.6" font-weight="bold" text-anchor="start" fill="#000" stroke="#000" stroke-width="0.2">10<tspan dy="-3.1" dx="0.2" font-size="5.6">1</tspan></text>
<text x="241.8" y="290.2" font-size="7.6" font-weight="bold" text-anchor="start" fill="#000" stroke="#000" stroke-width="0.2">10<tspan dy="-3.1" dx="0.2" font-size="5.6">2</tspan></text>
<text x="263.3" y="290.2" font-size="7.6" font-weight="bold" text-anchor="start" fill="#000" stroke="#000" stroke-width="0.2">10<tspan dy="-3.1" dx="0.2" font-size="5.6">3</tspan></text>
<path d="M177.5 296.2H253" stroke="#000" stroke-width="2.4" fill="none"/>
<path d="M261.5 296.1L251.8 291V301.2Z" fill="#000"/>
<text x="215.6" y="317.5" font-size="14" font-weight="bold" text-anchor="middle" stroke="#000" stroke-width="0.3" >CD34</text>
<defs><pattern id="h" width="2" height="2" patternUnits="userSpaceOnUse" patternTransform="rotate(45)"><rect width="2" height="2" fill="#aaa"/><rect width="1.2" height="2" fill="#000"/></pattern></defs>
<text x="348.8" y="37.3" font-size="14" font-weight="bold" text-anchor="middle" stroke="#000" stroke-width="0.3" >CFU-C</text>
<text x="289.5" y="57" font-size="9" stroke="#000" stroke-width="0.15">(x 10<tspan dy="-3.3" font-size="6.2">3</tspan><tspan dy="3.3" dx="0.6"> )</tspan></text>
<text x="304.4" y="278.6" font-size="13.3" font-weight="normal" text-anchor="end" stroke="#000" stroke-width="0.15" >0</text>
<text x="304.4" y="259.8" font-size="13.3" font-weight="normal" text-anchor="end" stroke="#000" stroke-width="0.15" >10</text>
<text x="304.4" y="238.9" font-size="13.3" font-weight="normal" text-anchor="end" stroke="#000" stroke-width="0.15" >20</text>
<text x="304.4" y="219.1" font-size="13.3" font-weight="normal" text-anchor="end" stroke="#000" stroke-width="0.15" >30</text>
<text x="304.4" y="198.8" font-size="13.3" font-weight="normal" text-anchor="end" stroke="#000" stroke-width="0.15" >40</text>
<text x="304.4" y="179.2" font-size="13.3" font-weight="normal" text-anchor="end" stroke="#000" stroke-width="0.15" >50</text>
<text x="304.4" y="159.3" font-size="13.3" font-weight="normal" text-anchor="end" stroke="#000" stroke-width="0.15" >60</text>
<text x="304.4" y="137.9" font-size="13.3" font-weight="normal" text-anchor="end" stroke="#000" stroke-width="0.15" >70</text>
<text x="304.4" y="118.0" font-size="13.3" font-weight="normal" text-anchor="end" stroke="#000" stroke-width="0.15" >80</text>
<text x="304.4" y="97.7" font-size="13.3" font-weight="normal" text-anchor="end" stroke="#000" stroke-width="0.15" >90</text>
<text x="304.4" y="77.2" font-size="13.3" font-weight="normal" text-anchor="end" stroke="#000" stroke-width="0.15" >100</text>
<path d="M309.5 72.3H307.6V273.8H401.6V271.8" stroke="#000" stroke-width="1.8" fill="none"/>
<path d="M307.6 254.7h2.6M307.6 233.9h2.6M307.6 214.0h2.6M307.6 193.7h2.6M307.6 174.2h2.6M307.6 154.3h2.6M307.6 132.9h2.6M307.6 113.0h2.6M307.6 92.6h2.6M307.6 72.2h2.6" stroke="#000" stroke-width="1" fill="none"/>
<rect x="323.3" y="201.8" width="20.5" height="72.0" fill="#fff" stroke="#000" stroke-width="1"/>
<path d="M334.4 201.8V195.3M331.8 195.3H337.2" stroke="#000" stroke-width="1.5" fill="none"/>
<rect x="343.8" y="106.3" width="23.8" height="167.5" fill="#000"/>
<path d="M355 106.3V97.9M351.8 97.9H358.8" stroke="#000" stroke-width="1.5" fill="none"/>
<rect x="367.6" y="268.8" width="21" height="5.0" fill="url(#h)" stroke="#333" stroke-width="0.6"/>
<path d="M378.5 268.8V265.8M376 265.8H381" stroke="#000" stroke-width="1.3" fill="none"/>
<text x="355" y="96.8" font-size="16" font-weight="normal" text-anchor="middle" stroke="#000" stroke-width="0.5">**</text>
<text transform="translate(313,320) rotate(-57)" font-size="12" font-weight="bold" stroke="#000" stroke-width="0.3">Control</text>
<text transform="translate(347.5,298) rotate(-57)" font-size="12" font-weight="bold" stroke="#000" stroke-width="0.3">Ihh</text>
<text transform="translate(359,316.5) rotate(-57)" font-size="12" font-weight="bold" stroke="#000" stroke-width="0.3">Stroma</text>
<text transform="translate(375,312) rotate(-57)" font-size="12" font-weight="bold" stroke="#000" stroke-width="0.3">free</text>
<text x="465" y="35.6" font-size="13.6" font-weight="bold" text-anchor="middle" stroke="#000" stroke-width="0.3" >CFU-Mix</text>
<text x="400" y="56.7" font-size="9" stroke="#000" stroke-width="0.15">(x 10<tspan dy="-3.3" font-size="6.2">3</tspan><tspan dy="3.3" dx="0.6"> )</tspan></text>
<text x="422.4" y="279.2" font-size="13.3" font-weight="normal" text-anchor="end" stroke="#000" stroke-width="0.15" >0</text>
<text x="422.4" y="259.6" font-size="13.3" font-weight="normal" text-anchor="end" stroke="#000" stroke-width="0.15" >2</text>
<text x="422.4" y="240.00000000000003" font-size="13.3" font-weight="normal" text-anchor="end" stroke="#000" stroke-width="0.15" >4</text>
<text x="422.4" y="220.4" font-size="13.3" font-weight="normal" text-anchor="end" stroke="#000" stroke-width="0.15" >6</text>
<text x="422.4" y="200.8" font-size="13.3" font-weight="normal" text-anchor="end" stroke="#000" stroke-width="0.15" >8</text>
<text x="422.4" y="181.20000000000002" font-size="13.3" font-weight="normal" text-anchor="end" stroke="#000" stroke-width="0.15" >10</text>
<text x="422.4" y="161.6" font-size="13.3" font-weight="normal" text-anchor="end" stroke="#000" stroke-width="0.15" >12</text>
<text x="422.4" y="142.0" font-size="13.3" font-weight="normal" text-anchor="end" stroke="#000" stroke-width="0.15" >14</text>
<text x="422.4" y="122.4" font-size="13.3" font-weight="normal" text-anchor="end" stroke="#000" stroke-width="0.15" >16</text>
<text x="422.4" y="102.80000000000001" font-size="13.3" font-weight="normal" text-anchor="end" stroke="#000" stroke-width="0.15" >18</text>
<text x="422.4" y="83.20000000000002" font-size="13.3" font-weight="normal" text-anchor="end" stroke="#000" stroke-width="0.15" >20</text>
<path d="M427.8 77.8H425.8V273.8H520" stroke="#000" stroke-width="1.8" fill="none"/>
<path d="M425.8 254.2h2.6M425.8 234.6h2.6M425.8 215.0h2.6M425.8 195.4h2.6M425.8 175.8h2.6M425.8 156.2h2.6M425.8 136.6h2.6M425.8 117.0h2.6M425.8 97.4h2.6M425.8 77.8h2.6" stroke="#000" stroke-width="1" fill="none"/>
<rect x="442" y="250.5" width="22" height="23.30000000000001" fill="#fff" stroke="#000" stroke-width="1"/>
<path d="M453 250.5V237.3M450 237.3H456" stroke="#000" stroke-width="1.5" fill="none"/>
<rect x="464" y="143.8" width="23.5" height="130.0" fill="#000"/>
<path d="M476.3 143.8V101.2M473.9 101.2H478.9" stroke="#000" stroke-width="1.5" fill="none"/>
<rect x="487.5" y="270.5" width="22.5" height="3.3000000000000114" fill="url(#h)" stroke="#333" stroke-width="0.6"/>
<path d="M498.5 270.5V268.8M496 268.8H501" stroke="#000" stroke-width="1.3" fill="none"/>
<text x="476" y="100.6" font-size="16" font-weight="normal" text-anchor="middle" stroke="#000" stroke-width="0.5">*</text>
<text transform="translate(432,319) rotate(-57)" font-size="12" font-weight="bold" stroke="#000" stroke-width="0.3">Control</text>
<text transform="translate(468,298.5) rotate(-57)" font-size="12" font-weight="bold" stroke="#000" stroke-width="0.3">Ihh</text>
<text transform="translate(479,317) rotate(-57)" font-size="12" font-weight="bold" stroke="#000" stroke-width="0.3">Stroma</text>
<text transform="translate(495,312) rotate(-57)" font-size="12" font-weight="bold" stroke="#000" stroke-width="0.3">free</text></svg></body></html>
